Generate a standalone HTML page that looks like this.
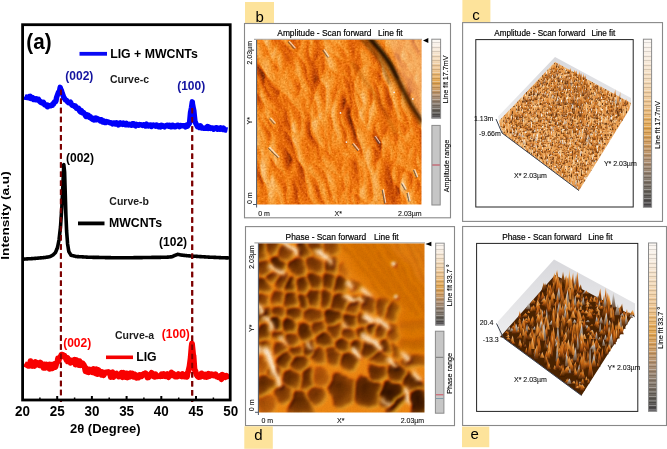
<!DOCTYPE html>
<html><head><meta charset="utf-8"><title>Figure</title>
<style>
html,body{margin:0;padding:0;background:#fff;}
svg{display:block;font-family:"Liberation Sans",sans-serif;will-change:transform;}
.tl{font-weight:bold;font-size:14.6px;}
.lg{font-weight:bold;font-size:12.3px;}
.cv{font-weight:bold;font-size:10.5px;fill:#1c1c1c;}
.pk{font-weight:bold;font-size:12px;}
.tt{font-size:8.4px;fill:#000;stroke:#000;stroke-width:0.18px;}
.rt{font-size:7.2px;fill:#000;stroke:#000;stroke-width:0.12px;}
.ax{font-size:7px;fill:#111;stroke:#111;stroke-width:0.1px;}
.ax3{font-size:7px;fill:#111;stroke:#111;stroke-width:0.1px;}
</style>
</head>
<body>
<svg width="667" height="449" viewBox="0 0 667 449">

<defs>
 <linearGradient id="cbar" x1="0" y1="0" x2="0" y2="1">
  <stop offset="0" stop-color="#fbf7f3"/>
  <stop offset="0.1" stop-color="#f7ece0"/>
  <stop offset="0.25" stop-color="#f2d8b6"/>
  <stop offset="0.4" stop-color="#ecc088"/>
  <stop offset="0.52" stop-color="#e2a44c"/>
  <stop offset="0.62" stop-color="#cf9a5c"/>
  <stop offset="0.72" stop-color="#ac8c6e"/>
  <stop offset="0.82" stop-color="#86786a"/>
  <stop offset="0.92" stop-color="#5e5a54"/>
  <stop offset="1" stop-color="#48464a"/>
 </linearGradient>
 <pattern id="stripes" width="4" height="9" patternUnits="userSpaceOnUse">
  <rect width="4" height="1" fill="#fff"/>
  <rect y="2" width="4" height="0.8" fill="#000" opacity="0.45"/>
  <rect y="4.2" width="4" height="1.3" fill="#fff" opacity="0.8"/>
  <rect y="6.3" width="4" height="0.7" fill="#000" opacity="0.5"/>
  <rect y="7.6" width="4" height="0.6" fill="#fff" opacity="0.6"/>
 </pattern>
 <clipPath id="clipb"><rect x="256.7" y="39.8" width="164.8" height="164.8"/></clipPath>
 <clipPath id="clipd"><rect x="258.5" y="243.4" width="166" height="169.2"/></clipPath>
 <filter id="fb" x="0" y="0" width="1" height="1">
  <feTurbulence type="fractalNoise" baseFrequency="0.9" numOctaves="2" seed="3" result="n"/>
  <feColorMatrix in="n" type="matrix" values="0 0 0 0 0  0 0 0 0 0  0 0 0 0 0  0.35 0.35 0.35 0 -0.35" result="g"/>
  <feComposite in="g" in2="SourceGraphic" operator="over"/>
 </filter>
 <filter id="fd" x="0" y="0" width="1" height="1">
  <feTurbulence type="fractalNoise" baseFrequency="0.6" numOctaves="2" seed="5" result="n"/>
  <feColorMatrix in="n" type="matrix" values="0 0 0 0 0  0 0 0 0 0  0 0 0 0 0  0.3 0.3 0.3 0 -0.3" result="g"/>
  <feComposite in="g" in2="SourceGraphic" operator="over"/>
 </filter>
 <filter id="fbRelief" x="0" y="0" width="1" height="1" color-interpolation-filters="sRGB">
  <feTurbulence type="turbulence" baseFrequency="0.024 0.013" numOctaves="3" seed="11" result="t"/>
  <feDiffuseLighting in="t" surfaceScale="5" diffuseConstant="1" lighting-color="#fff" result="l">
    <feDistantLight azimuth="200" elevation="38"/>
  </feDiffuseLighting>
  <feComponentTransfer in="l" result="c">
    <feFuncR type="table" tableValues="0.42 0.74 0.88 0.95 0.97 0.99"/>
    <feFuncG type="table" tableValues="0.14 0.27 0.39 0.5 0.62 0.8"/>
    <feFuncB type="table" tableValues="0 0.01 0.03 0.08 0.22 0.55"/>
  </feComponentTransfer>
  <feTurbulence type="fractalNoise" baseFrequency="0.62" numOctaves="2" seed="2" result="g"/>
  <feColorMatrix in="g" type="matrix" values="1 0 0 0 0  1 0 0 0 0  1 0 0 0 0  0 0 0 0 1" result="g2"/>
  <feComposite in="g2" in2="c" operator="arithmetic" k1="0" k2="0.36" k3="1" k4="-0.18"/>
 </filter>
 <filter id="fgrain" x="0" y="0" width="1" height="1">
  <feTurbulence type="fractalNoise" baseFrequency="0.7" numOctaves="2" seed="5" result="n"/>
  <feColorMatrix in="n" type="matrix" values="0 0 0 0 0  0 0 0 0 0  0 0 0 0 0  0.6 0 0 0 -0.22"/>
 </filter>
 <filter id="fdLit" x="-5%" y="-5%" width="110%" height="110%" color-interpolation-filters="sRGB">
  <feGaussianBlur stdDeviation="1.7" result="h"/>
  <feColorMatrix in="h" type="matrix" values="0 0 0 0 0  0 0 0 0 0  0 0 0 0 0  1 0 0 0 0" result="ha"/>
  <feDiffuseLighting in="ha" surfaceScale="5" diffuseConstant="1" lighting-color="#fff" result="lit">
   <feDistantLight azimuth="45" elevation="40"/>
  </feDiffuseLighting>
  <feComposite in="lit" in2="h" operator="arithmetic" k1="0" k2="0.35" k3="0.75" k4="-0.12" result="mix"/>
  <feComponentTransfer in="mix">
   <feFuncR type="table" tableValues="0.15 0.25 0.36 0.48 0.62 0.78 0.9 0.96 0.99 1 1"/>
   <feFuncG type="table" tableValues="0.05 0.09 0.14 0.2 0.27 0.36 0.46 0.55 0.7 0.88 0.98"/>
   <feFuncB type="table" tableValues="0 0 0 0 0.01 0.02 0.04 0.1 0.3 0.65 0.92"/>
  </feComponentTransfer>
 </filter>
 <radialGradient id="dc0" cx="0.5" cy="0.5" r="0.6" fx="0.4" fy="0.35"><stop offset="0" stop-color="#2e1000"/><stop offset="0.6" stop-color="#4e2000"/><stop offset="1" stop-color="#9a4a06"/></radialGradient>
 <radialGradient id="dc4" cx="0.5" cy="0.5" r="0.6" fx="0.4" fy="0.35"><stop offset="0" stop-color="#a04c06"/><stop offset="0.6" stop-color="#b85a0a"/><stop offset="1" stop-color="#d47012"/></radialGradient>
 <radialGradient id="dc1" cx="0.5" cy="0.5" r="0.6" fx="0.4" fy="0.35"><stop offset="0" stop-color="#4a1e00"/><stop offset="0.6" stop-color="#6a2e02"/><stop offset="1" stop-color="#a85208"/></radialGradient>
 <radialGradient id="dc2" cx="0.5" cy="0.5" r="0.6" fx="0.4" fy="0.35"><stop offset="0" stop-color="#5a2600"/><stop offset="0.6" stop-color="#7c3804"/><stop offset="1" stop-color="#b45c0a"/></radialGradient>
 <radialGradient id="dc3" cx="0.5" cy="0.5" r="0.6" fx="0.4" fy="0.35"><stop offset="0" stop-color="#6e3002"/><stop offset="0.6" stop-color="#8e4206"/><stop offset="1" stop-color="#c0640c"/></radialGradient>
 <linearGradient id="wallg" x1="0" y1="0" x2="0" y2="1"><stop offset="0" stop-color="#d8d8dc"/><stop offset="1" stop-color="#eeeeef"/></linearGradient>
 <filter id="texc" x="0" y="0" width="1" height="1" color-interpolation-filters="sRGB">
  <feTurbulence type="fractalNoise" baseFrequency="0.5 0.12" numOctaves="3" seed="21" result="t"/>
  <feColorMatrix in="t" type="matrix" values="1 0 0 0 0  1 0 0 0 0  1 0 0 0 0  0 0 0 0 1" result="t1"/>
  <feComponentTransfer in="t1">
   <feFuncR type="table" tableValues="0.45 0.62 0.8 0.88 0.92 0.95 0.97 0.98 0.99"/>
   <feFuncG type="table" tableValues="0.22 0.32 0.44 0.52 0.6 0.7 0.8 0.88 0.94"/>
   <feFuncB type="table" tableValues="0.06 0.09 0.13 0.18 0.26 0.4 0.58 0.76 0.9"/>
  </feComponentTransfer>
 </filter>
 <filter id="texe" x="0" y="0" width="1" height="1" color-interpolation-filters="sRGB">
  <feTurbulence type="fractalNoise" baseFrequency="0.28 0.05" numOctaves="3" seed="9" result="t"/>
  <feColorMatrix in="t" type="matrix" values="1 0 0 0 0  1 0 0 0 0  1 0 0 0 0  0 0 0 0 1" result="t1"/>
  <feComponentTransfer in="t1">
   <feFuncR type="table" tableValues="0.18 0.25 0.35 0.5 0.68 0.82 0.9 0.92 0.85"/>
   <feFuncG type="table" tableValues="0.07 0.1 0.14 0.22 0.33 0.43 0.52 0.62 0.8"/>
   <feFuncB type="table" tableValues="0.0 0.01 0.02 0.04 0.07 0.12 0.2 0.4 0.8"/>
  </feComponentTransfer>
 </filter>
 <linearGradient id="gc1" x1="0" y1="1" x2="0" y2="0"><stop offset="0" stop-color="#7a3a0c"/><stop offset="0.5" stop-color="#dc7a20"/><stop offset="1" stop-color="#f0a860"/></linearGradient>
 <linearGradient id="gc2" x1="0" y1="1" x2="0" y2="0"><stop offset="0" stop-color="#904c14"/><stop offset="0.6" stop-color="#e48a30"/><stop offset="1" stop-color="#f8d8b0"/></linearGradient>
 <linearGradient id="gc3" x1="0" y1="1" x2="0" y2="0"><stop offset="0" stop-color="#6a3a18"/><stop offset="0.6" stop-color="#c07030"/><stop offset="1" stop-color="#e8c8a0"/></linearGradient>
 <linearGradient id="gc4" x1="0" y1="1" x2="0" y2="0"><stop offset="0" stop-color="#b0a090"/><stop offset="0.6" stop-color="#e8e0d8"/><stop offset="1" stop-color="#ffffff"/></linearGradient>
 <linearGradient id="gc5" x1="0" y1="1" x2="0" y2="0"><stop offset="0" stop-color="#5a3010"/><stop offset="0.5" stop-color="#a86028"/><stop offset="1" stop-color="#d89050"/></linearGradient>
 <linearGradient id="ge1" x1="0" y1="1" x2="0" y2="0"><stop offset="0" stop-color="#4a1e02"/><stop offset="0.5" stop-color="#b85a10"/><stop offset="1" stop-color="#f09030"/></linearGradient>
 <linearGradient id="ge2" x1="0" y1="1" x2="0" y2="0"><stop offset="0" stop-color="#5a2804"/><stop offset="0.6" stop-color="#d07018"/><stop offset="1" stop-color="#f8c070"/></linearGradient>
 <linearGradient id="ge3" x1="0" y1="1" x2="0" y2="0"><stop offset="0" stop-color="#3a1800"/><stop offset="0.6" stop-color="#8a4a10"/><stop offset="1" stop-color="#c88040"/></linearGradient>
 <linearGradient id="ge4" x1="0" y1="1" x2="0" y2="0"><stop offset="0" stop-color="#6a4a30"/><stop offset="0.6" stop-color="#b0a8a0"/><stop offset="1" stop-color="#f0f0f0"/></linearGradient>
 <linearGradient id="ge5" x1="0" y1="1" x2="1" y2="0"><stop offset="0" stop-color="#7a3a08"/><stop offset="0.5" stop-color="#e08a30"/><stop offset="0.8" stop-color="#f4d0a0"/><stop offset="1" stop-color="#ffffff"/></linearGradient>
 <filter id="soft" x="-5%" y="-5%" width="110%" height="110%"><feGaussianBlur stdDeviation="0.45"/></filter>
 <filter id="speckc" x="0" y="0" width="1" height="1" color-interpolation-filters="sRGB">
  <feTurbulence type="fractalNoise" baseFrequency="0.8 0.35" numOctaves="1" seed="41" result="n"/>
  <feColorMatrix in="n" type="matrix" values="0 0 0 0 0.38  0 0 0 0 0.2  0 0 0 0 0.06  -6 0 0 0 2.45" result="dk"/>
  <feColorMatrix in="n" type="matrix" values="0 0 0 0 0.97  0 0 0 0 0.95  0 0 0 0 0.92  0 6 0 0 -3.7" result="wt"/>
  <feMerge><feMergeNode in="dk"/><feMergeNode in="wt"/></feMerge>
 </filter>
 <filter id="fbBig" x="-20%" y="-20%" width="140%" height="140%"><feGaussianBlur stdDeviation="1.6"/></filter>
 <filter id="fdBig" x="-5%" y="-5%" width="110%" height="110%" color-interpolation-filters="sRGB">
  <feTurbulence type="fractalNoise" baseFrequency="0.07" numOctaves="2" seed="3" result="tt"/>
  <feDisplacementMap in="SourceGraphic" in2="tt" scale="7" xChannelSelector="R" yChannelSelector="G" result="dd"/>
  <feGaussianBlur in="dd" stdDeviation="1.4" result="bl"/>
  <feColorMatrix in="bl" type="matrix" values="0 0 0 0 0  0 0 0 0 0  0 0 0 0 0  0.3 0.59 0.11 0 0" result="la"/>
  <feDiffuseLighting in="la" surfaceScale="3" diffuseConstant="1" lighting-color="#fff" result="lit">
   <feDistantLight azimuth="225" elevation="30"/>
  </feDiffuseLighting>
  <feBlend in="lit" in2="bl" mode="soft-light"/>
 </filter>
 <filter id="fdSm2" x="-50%" y="-50%" width="200%" height="200%"><feGaussianBlur stdDeviation="1.0"/></filter>
 <filter id="fdSm" x="-10%" y="-10%" width="120%" height="120%"><feGaussianBlur stdDeviation="4.5"/></filter>
</defs>

<rect width="667" height="449" fill="#fff"/>

<g id="chart">
 <text x="26.3" y="48.5" style="font-weight:bold;font-size:22px" textLength="25.2" lengthAdjust="spacingAndGlyphs">(a)</text>
 <!-- dashed lines -->
 <line x1="60.9" y1="89.5" x2="60.9" y2="402" stroke="#7d0000" stroke-width="2" stroke-dasharray="5.5 3.6"/>
 <line x1="192.2" y1="108" x2="192.2" y2="402" stroke="#7d0000" stroke-width="2" stroke-dasharray="5.5 3.6"/>
 <polyline points="24.5,96.5 25.5,97.3 26.5,97.0 27.5,97.6 28.5,97.7 29.5,96.4 30.0,96.3 30.5,98.4 31.5,97.3 32.5,97.4 33.5,99.5 34.5,98.5 35.5,99.6 36.5,98.9 37.5,99.9 38.5,99.4 39.5,101.2 40.5,102.3 41.4,102.1 41.5,102.6 42.5,103.2 43.5,102.4 44.5,104.8 45.5,105.0 46.5,105.0 47.2,104.9 47.5,106.8 48.5,105.5 49.5,105.7 50.5,105.8 51.5,105.0 52.5,105.2 53.0,103.7 53.5,104.1 54.5,101.9 55.5,101.7 56.0,100.9 56.5,97.6 57.5,94.9 58.5,92.3 59.5,90.9 60.2,87.3 60.5,88.6 61.5,90.7 61.8,92.0 62.5,93.8 63.5,96.6 63.7,97.7 64.5,98.4 65.5,100.0 66.5,100.3 67.5,101.8 67.8,101.9 68.5,102.7 69.5,102.6 70.5,102.1 71.5,104.5 72.0,105.1 72.5,105.4 73.5,105.4 74.5,106.5 75.5,106.1 76.5,108.3 77.5,108.5 77.7,108.0 78.5,108.1 79.5,110.8 80.5,112.0 81.5,110.6 82.0,112.7 82.5,112.2 83.5,112.5 84.5,113.7 85.5,115.7 86.0,116.4 86.5,114.6 87.5,116.4 88.5,115.4 89.5,117.4 90.5,116.9 91.5,118.6 92.5,119.3 93.5,118.5 94.0,119.9 94.5,118.4 95.5,118.1 96.5,119.7 97.5,118.6 98.5,119.3 99.5,120.1 100.0,120.8 100.5,119.8 101.5,119.7 102.5,121.9 103.5,120.8 104.5,122.5 105.5,122.6 106.5,121.5 107.5,121.9 108.5,122.2 109.5,122.7 110.0,122.7 110.5,122.7 111.5,123.0 112.5,123.9 113.5,123.0 114.5,123.0 115.5,123.9 116.5,122.8 117.5,123.1 118.5,124.9 119.5,124.0 120.0,124.1 120.5,122.9 121.5,123.9 122.5,124.4 123.5,123.1 124.5,124.6 125.5,124.7 126.5,123.4 127.0,124.8 127.5,124.4 128.5,125.0 129.5,124.2 130.5,125.1 131.5,125.2 132.5,123.6 133.5,123.7 134.5,125.2 135.5,125.9 136.5,124.3 137.5,124.8 138.5,125.2 139.5,124.5 140.0,124.7 140.5,124.6 141.5,124.8 142.5,125.4 143.5,124.7 144.5,125.0 145.5,126.0 146.5,124.2 147.5,125.6 148.5,126.0 149.5,125.1 150.5,124.9 151.5,126.4 152.5,125.1 153.5,125.0 154.5,125.7 155.5,126.3 156.5,125.0 157.5,125.5 158.0,125.6 158.5,126.8 159.5,125.9 160.5,126.9 161.5,125.2 162.5,125.6 163.5,126.4 164.5,126.9 165.5,125.9 166.5,125.3 167.5,125.1 168.5,126.1 169.5,125.3 170.5,126.7 171.5,126.8 172.5,125.2 173.5,125.5 174.5,126.7 175.0,126.3 175.5,126.7 176.5,125.6 177.5,125.1 178.5,125.5 179.5,126.7 180.5,125.5 181.5,125.6 182.5,125.8 183.5,125.8 184.5,125.8 185.5,127.0 186.5,125.2 187.0,124.8 187.5,126.3 188.5,124.5 189.5,123.2 190.5,112.6 190.8,111.1 191.5,107.5 192.3,101.8 192.5,104.1 193.5,109.3 193.8,110.4 194.5,117.0 195.0,121.5 195.5,122.7 196.5,124.7 197.0,125.5 197.5,126.8 198.5,126.2 199.5,127.5 200.5,125.8 201.5,128.0 202.5,127.6 203.5,128.3 204.5,128.3 205.5,128.4 206.5,127.8 207.5,126.5 208.5,128.4 209.5,127.2 210.0,127.5 210.5,128.4 211.5,128.1 212.5,127.9 213.5,129.2 214.5,128.5 215.5,127.9 216.5,127.7 217.5,129.2 218.5,128.4 219.5,129.2 220.0,128.1 220.5,127.8 221.5,128.7 222.5,129.5 223.5,128.1 224.5,129.7 225.5,130.1 226.5,129.9 227.5,130.1" fill="none" stroke="#0000fa" stroke-width="5.4" stroke-linejoin="round" stroke-linecap="butt"/>
 <polyline points="24.5,259.1 25.0,259.0 25.5,259.0 26.0,259.0 26.5,258.9 27.0,258.9 27.5,258.9 28.0,258.8 28.5,258.8 29.0,258.8 29.5,258.8 30.0,258.7 30.5,258.7 31.0,258.7 31.5,258.6 32.0,258.6 32.5,258.6 33.0,258.5 33.5,258.5 34.0,258.5 34.5,258.4 35.0,258.4 35.5,258.4 36.0,258.3 36.5,258.3 37.0,258.2 37.5,258.2 38.0,258.1 38.5,258.1 39.0,258.0 39.5,258.0 40.0,257.9 40.5,257.9 41.0,257.9 41.5,257.8 42.0,257.8 42.5,257.7 43.0,257.7 43.5,257.6 44.0,257.6 44.5,257.5 45.0,257.5 45.5,257.4 46.0,257.3 46.5,257.2 47.0,257.1 47.5,257.1 48.0,257.0 48.5,256.9 49.0,256.8 49.5,256.7 50.0,256.6 50.5,256.3 51.0,256.1 51.5,255.8 52.0,255.5 52.5,255.3 53.0,255.0 53.5,254.5 54.0,254.0 54.5,253.5 55.0,253.0 55.5,252.5 56.0,251.2 56.5,250.0 57.0,248.8 57.5,247.5 58.0,245.0 58.5,242.5 59.0,240.0 59.5,235.7 60.0,231.3 60.5,227.0 61.0,219.7 61.5,212.4 61.8,208.0 62.0,203.8 62.5,193.4 62.9,185.0 63.0,182.7 63.5,171.4 63.8,164.6 64.0,166.5 64.5,171.1 64.6,172.0 65.0,185.1 65.3,195.0 65.5,201.7 65.9,215.0 66.0,217.3 66.5,228.7 66.6,231.0 67.0,236.2 67.5,242.7 67.6,244.0 68.0,246.5 68.5,249.6 68.8,251.5 69.0,251.8 69.5,252.7 70.0,253.5 70.5,254.4 71.0,255.2 71.5,255.3 72.0,255.5 72.5,255.6 73.0,255.7 73.5,255.8 74.0,256.0 74.5,256.1 75.0,256.2 75.5,256.4 76.0,256.5 76.5,256.5 77.0,256.6 77.5,256.6 78.0,256.6 78.5,256.6 79.0,256.7 79.5,256.7 80.0,256.7 80.5,256.8 81.0,256.8 81.5,256.8 82.0,256.8 82.5,256.9 83.0,256.9 83.5,256.9 84.0,257.0 84.5,257.0 85.0,257.0 85.5,257.0 86.0,257.1 86.5,257.1 87.0,257.1 87.5,257.2 88.0,257.2 88.5,257.2 89.0,257.2 89.5,257.3 90.0,257.3 90.5,257.3 91.0,257.3 91.5,257.3 92.0,257.3 92.5,257.3 93.0,257.4 93.5,257.4 94.0,257.4 94.5,257.4 95.0,257.4 95.5,257.4 96.0,257.4 96.5,257.4 97.0,257.4 97.5,257.4 98.0,257.4 98.5,257.4 99.0,257.4 99.5,257.5 100.0,257.5 100.5,257.5 101.0,257.5 101.5,257.5 102.0,257.5 102.5,257.5 103.0,257.5 103.5,257.5 104.0,257.5 104.5,257.5 105.0,257.6 105.5,257.6 106.0,257.6 106.5,257.6 107.0,257.6 107.5,257.6 108.0,257.6 108.5,257.6 109.0,257.6 109.5,257.6 110.0,257.6 110.5,257.6 111.0,257.7 111.5,257.7 112.0,257.7 112.5,257.7 113.0,257.7 113.5,257.7 114.0,257.7 114.5,257.7 115.0,257.7 115.5,257.7 116.0,257.7 116.5,257.7 117.0,257.8 117.5,257.8 118.0,257.8 118.5,257.8 119.0,257.8 119.5,257.8 120.0,257.8 120.5,257.8 121.0,257.8 121.5,257.8 122.0,257.8 122.5,257.8 123.0,257.8 123.5,257.8 124.0,257.8 124.5,257.8 125.0,257.7 125.5,257.7 126.0,257.7 126.5,257.7 127.0,257.7 127.5,257.7 128.0,257.7 128.5,257.7 129.0,257.7 129.5,257.7 130.0,257.7 130.5,257.7 131.0,257.7 131.5,257.7 132.0,257.7 132.5,257.7 133.0,257.7 133.5,257.7 134.0,257.6 134.5,257.6 135.0,257.6 135.5,257.6 136.0,257.6 136.5,257.6 137.0,257.6 137.5,257.6 138.0,257.6 138.5,257.6 139.0,257.6 139.5,257.6 140.0,257.6 140.5,257.6 141.0,257.6 141.5,257.6 142.0,257.6 142.5,257.6 143.0,257.5 143.5,257.5 144.0,257.5 144.5,257.5 145.0,257.5 145.5,257.5 146.0,257.5 146.5,257.5 147.0,257.5 147.5,257.5 148.0,257.5 148.5,257.5 149.0,257.5 149.5,257.5 150.0,257.5 150.5,257.5 151.0,257.5 151.5,257.4 152.0,257.4 152.5,257.4 153.0,257.4 153.5,257.4 154.0,257.4 154.5,257.4 155.0,257.4 155.5,257.4 156.0,257.4 156.5,257.4 157.0,257.4 157.5,257.4 158.0,257.4 158.5,257.4 159.0,257.4 159.5,257.4 160.0,257.4 160.5,257.4 161.0,257.3 161.5,257.3 162.0,257.3 162.5,257.3 163.0,257.3 163.5,257.3 164.0,257.3 164.5,257.3 165.0,257.3 165.5,257.3 166.0,257.2 166.5,257.2 167.0,257.2 167.5,257.1 168.0,257.1 168.5,257.1 169.0,257.0 169.5,257.0 170.0,256.9 170.5,256.9 171.0,256.9 171.5,256.8 172.0,256.8 172.5,256.5 173.0,256.3 173.5,256.0 174.0,255.8 174.5,255.5 175.0,255.3 175.5,255.1 176.0,255.0 176.5,254.8 177.0,254.6 177.5,254.4 177.8,254.3 178.0,254.3 178.5,254.5 179.0,254.6 179.5,254.7 180.0,254.8 180.5,254.9 181.0,255.0 181.5,255.1 182.0,255.1 182.5,255.2 183.0,255.2 183.5,255.3 184.0,255.4 184.5,255.4 185.0,255.5 185.5,255.5 186.0,255.6 186.5,255.6 187.0,255.7 187.5,255.7 188.0,255.8 188.5,255.8 189.0,255.9 189.5,255.9 190.0,255.9 190.5,256.0 191.0,256.0 191.5,256.1 192.0,256.1 192.5,256.1 193.0,256.2 193.5,256.2 194.0,256.2 194.5,256.3 195.0,256.3 195.5,256.3 196.0,256.3 196.5,256.4 197.0,256.4 197.5,256.4 198.0,256.5 198.5,256.5 199.0,256.5 199.5,256.6 200.0,256.6 200.5,256.6 201.0,256.6 201.5,256.7 202.0,256.7 202.5,256.7 203.0,256.8 203.5,256.8 204.0,256.8 204.5,256.9 205.0,256.9 205.5,256.9 206.0,257.0 206.5,257.0 207.0,257.0 207.5,257.0 208.0,257.1 208.5,257.1 209.0,257.1 209.5,257.2 210.0,257.2 210.5,257.2 211.0,257.2 211.5,257.3 212.0,257.3 212.5,257.3 213.0,257.3 213.5,257.3 214.0,257.4 214.5,257.4 215.0,257.4 215.5,257.4 216.0,257.4 216.5,257.5 217.0,257.5 217.5,257.5 218.0,257.5 218.5,257.5 219.0,257.6 219.5,257.6 220.0,257.6 220.5,257.6 221.0,257.7 221.5,257.7 222.0,257.7 222.5,257.7 223.0,257.7 223.5,257.8 224.0,257.8 224.5,257.8 225.0,257.8 225.5,257.8 226.0,257.9 226.5,257.9 227.0,257.9 227.5,257.9 228.0,257.9" fill="none" stroke="#000" stroke-width="3.6" stroke-linejoin="round" stroke-linecap="round"/>
 <polyline points="24.5,363.8 25.5,364.4 26.5,364.8 27.5,365.6 28.5,364.6 29.5,365.6 30.5,361.2 31.5,363.5 32.5,365.9 33.5,364.5 34.5,365.9 35.5,362.0 36.5,363.8 37.5,363.0 38.5,364.8 39.5,365.2 40.5,362.6 41.5,363.9 42.5,364.5 43.5,367.9 44.0,367.3 44.5,364.4 45.5,367.7 46.5,364.6 47.5,367.2 48.5,364.9 49.5,364.5 49.7,368.9 50.5,365.2 51.5,364.8 52.5,368.3 53.5,367.3 54.5,364.0 55.5,366.9 56.5,363.0 57.5,361.8 58.0,358.5 58.5,361.2 59.5,357.8 60.4,357.3 60.5,357.0 61.5,354.7 62.0,355.3 62.5,354.7 63.5,355.4 64.5,355.8 65.5,357.7 66.5,360.0 67.5,357.8 67.8,361.4 68.5,359.8 69.5,359.9 70.5,362.7 71.5,361.2 72.5,360.6 73.5,361.6 74.5,362.9 75.0,359.8 75.5,364.5 76.5,360.1 77.5,364.1 78.5,364.9 79.5,361.1 80.5,365.3 81.0,363.3 81.5,365.0 82.5,363.2 83.5,364.5 84.5,366.3 85.5,371.3 86.0,368.1 86.5,371.0 87.5,372.0 88.5,372.3 89.5,369.5 90.5,369.8 91.5,370.8 92.5,372.2 93.5,369.1 94.2,372.4 94.5,372.7 95.5,373.3 96.5,369.3 97.5,374.1 98.5,370.0 99.5,371.5 100.5,373.0 101.5,374.8 102.5,372.1 103.5,375.2 104.5,373.5 105.5,372.5 106.5,372.7 107.5,372.2 108.5,372.0 109.5,372.5 110.5,375.4 110.7,377.0 111.5,372.8 112.5,372.3 113.5,377.1 114.5,374.9 115.5,374.3 116.5,373.5 117.5,375.3 118.5,376.5 119.5,374.7 120.5,374.6 121.5,372.8 122.5,377.2 123.5,372.8 124.5,375.1 125.5,376.9 126.5,373.4 127.0,376.5 127.5,377.5 128.5,375.9 129.5,376.7 130.5,373.3 131.5,374.9 132.5,373.5 133.5,376.9 134.5,374.2 135.5,375.0 136.5,377.7 137.5,376.9 138.5,377.5 139.5,374.9 140.5,375.1 141.5,376.3 142.5,375.0 143.5,374.0 144.5,374.6 145.5,373.3 146.5,374.4 147.5,377.5 148.5,377.3 149.5,375.6 150.0,375.0 150.5,374.2 151.5,372.9 152.5,373.9 153.5,376.4 154.5,376.8 155.5,374.3 156.5,376.4 157.5,376.4 158.5,376.0 159.5,375.8 160.5,376.3 161.5,374.3 162.5,376.0 163.5,373.9 164.5,374.9 165.5,376.3 166.5,376.0 167.5,374.0 168.5,377.2 169.5,375.7 170.5,375.4 171.5,372.6 172.5,375.2 173.5,373.8 174.5,375.9 175.0,374.8 175.5,376.6 176.5,375.7 177.5,376.4 178.5,374.1 179.5,375.5 180.5,376.0 181.5,376.4 182.5,373.9 183.5,376.4 184.5,376.5 185.5,375.5 186.5,376.9 187.0,376.8 187.5,373.3 188.5,370.7 189.5,366.3 190.5,358.8 190.7,357.2 191.5,347.2 192.0,343.5 192.5,348.4 193.3,356.2 193.5,355.5 194.5,369.4 195.5,371.4 196.5,374.8 197.0,375.1 197.5,376.1 198.5,377.0 199.5,376.3 200.5,376.8 201.5,373.4 202.5,374.1 203.5,375.6 204.5,376.7 205.5,374.6 206.5,377.0 207.5,376.7 208.5,373.8 209.5,376.1 210.5,374.9 211.5,374.1 212.5,374.5 213.5,375.5 214.5,374.9 215.0,375.0 215.5,374.2 216.5,376.5 217.5,376.2 218.5,377.4 219.5,377.4 220.5,375.8 221.5,379.2 222.5,374.8 223.5,376.9 224.5,376.4 225.5,377.1 226.5,375.8 227.5,379.4" fill="none" stroke="#f80000" stroke-width="5.8" stroke-linejoin="round" stroke-linecap="butt"/>
 <!-- redraw dashed segments over peaks -->
 <line x1="60.9" y1="89.5" x2="60.9" y2="402" stroke="#7d0000" stroke-width="2" stroke-dasharray="5.5 3.6" opacity="0.9"/>
 <line x1="192.2" y1="108" x2="192.2" y2="402" stroke="#7d0000" stroke-width="2" stroke-dasharray="5.5 3.6" opacity="0.9"/>
 <rect x="22.6" y="24.7" width="207.6" height="375.3" fill="none" stroke="#000" stroke-width="2.8"/>
 <text transform="translate(22.5,415.6) scale(0.92,1)" text-anchor="middle" class="tl">20</text>
<line x1="57.2" y1="396" x2="57.2" y2="400" stroke="#000" stroke-width="2"/>
<text transform="translate(57.2,415.6) scale(0.92,1)" text-anchor="middle" class="tl">25</text>
<line x1="91.9" y1="396" x2="91.9" y2="400" stroke="#000" stroke-width="2"/>
<text transform="translate(91.9,415.6) scale(0.92,1)" text-anchor="middle" class="tl">30</text>
<line x1="126.6" y1="396" x2="126.6" y2="400" stroke="#000" stroke-width="2"/>
<text transform="translate(126.6,415.6) scale(0.92,1)" text-anchor="middle" class="tl">35</text>
<line x1="161.3" y1="396" x2="161.3" y2="400" stroke="#000" stroke-width="2"/>
<text transform="translate(161.3,415.6) scale(0.92,1)" text-anchor="middle" class="tl">40</text>
<line x1="196.0" y1="396" x2="196.0" y2="400" stroke="#000" stroke-width="2"/>
<text transform="translate(196.0,415.6) scale(0.92,1)" text-anchor="middle" class="tl">45</text>
<text transform="translate(230.7,415.6) scale(0.92,1)" text-anchor="middle" class="tl">50</text>
<line x1="39.9" y1="397.5" x2="39.9" y2="400" stroke="#000" stroke-width="1.5"/>
<line x1="74.6" y1="397.5" x2="74.6" y2="400" stroke="#000" stroke-width="1.5"/>
<line x1="109.2" y1="397.5" x2="109.2" y2="400" stroke="#000" stroke-width="1.5"/>
<line x1="143.9" y1="397.5" x2="143.9" y2="400" stroke="#000" stroke-width="1.5"/>
<line x1="178.7" y1="397.5" x2="178.7" y2="400" stroke="#000" stroke-width="1.5"/>
<line x1="213.4" y1="397.5" x2="213.4" y2="400" stroke="#000" stroke-width="1.5"/>
 <!-- legends -->
 <line x1="79.5" y1="53.8" x2="107" y2="53.8" stroke="#0a0af5" stroke-width="3.8"/>
 <text x="110.2" y="58" class="lg">LIG + MWCNTs</text>
 <line x1="78" y1="223.4" x2="104.5" y2="223.4" stroke="#000" stroke-width="3.8"/>
 <text x="109" y="227.4" class="lg">MWCNTs</text>
 <line x1="106" y1="357.3" x2="133" y2="357.3" stroke="#f50000" stroke-width="3.6"/>
 <text x="136.2" y="361.3" class="lg">LIG</text>
 <text x="110" y="83.4" class="cv">Curve-c</text>
 <text x="109.3" y="205.2" class="cv">Curve-b</text>
 <text x="115" y="339.3" class="cv">Curve-a</text>
 <text x="65.3" y="79.7" class="pk" fill="#1414a0">(002)</text>
 <text x="177.2" y="89.5" class="pk" fill="#1414a0">(100)</text>
 <text x="66" y="161.7" class="pk" fill="#000">(002)</text>
 <text x="159.1" y="245.5" class="pk" fill="#000">(102)</text>
 <text x="63.2" y="346.8" class="pk" fill="#f00">(002)</text>
 <text x="161.8" y="337.9" class="pk" fill="#f00">(100)</text>
 <text x="70" y="432.8" style="font-weight:bold;font-size:13px">2θ (Degree)</text>
 <text transform="translate(9.4,259.7) rotate(-90)" style="font-weight:bold;font-size:11.8px" textLength="88.4" lengthAdjust="spacingAndGlyphs">Intensity (a.u)</text>
</g>


<g id="panels" style="font-family:'Liberation Sans',sans-serif">
 <!-- panel b -->
 <rect x="245" y="2" width="29" height="21.5" fill="#fde39b"/>
 <text x="255.6" y="21.6" style="font-size:15px">b</text>
 <rect x="244.5" y="23.5" width="206" height="194.3" fill="#fff" stroke="#888" stroke-width="1.1"/>
 <text x="277.3" y="36.4" class="tt">Amplitude - Scan forward</text>
 <text x="378" y="36.4" class="tt">Line fit</text>
 <line x1="254" y1="39.3" x2="422" y2="39.3" stroke="#9a9a9a" stroke-width="1"/>
 <g clip-path="url(#clipb)"><g transform="rotate(-16 339 122)"><rect x="219" y="2" width="240" height="240" fill="#fff" filter="url(#fbRelief)"/></g></g>
 <g clip-path="url(#clipb)"><g filter="url(#fbBig)"><path d="M388,39 L425,39 L425,122 Q412,96 400,74 Q393,56 388,39 Z" fill="#f8d8b0" opacity="0.4"/>
<path d="M364,38 C372,46 383,56 390,67 C397,79 404,92 410,104 C414,111 418,117 423,124" fill="none" stroke="#6a3208" stroke-width="8" opacity="0.45"/>
<path d="M368,38 C375,45 384,55 391,67 C397,78 403,90 410,103 C414,110 418,116 423,122" fill="none" stroke="#1e0c02" stroke-width="3.2" opacity="0.9"/>
<path d="M360,38 C367,46 374,53 380,62 C384,69 387,76 390,84" fill="none" stroke="#3a1804" stroke-width="1.8" opacity="0.6"/>
<path d="M352,62 C360,74 370,88 378,100 C384,110 390,122 396,134" fill="none" stroke="#8a4008" stroke-width="3" opacity="0.3"/>
<path d="M371,39 C378,47 386,56 391,65 C394,71 396,75 398,79" fill="none" stroke="#140800" stroke-width="4.5" opacity="0.85"/></g><line x1="289.5" y1="41.3" x2="295.2" y2="47.9" stroke="#f4f4f4" stroke-width="1.1" opacity="0.75" stroke-linecap="round"/>
<line x1="288.3" y1="42.199999999999996" x2="294.0" y2="48.8" stroke="#3c4656" stroke-width="1.0" opacity="0.7" stroke-linecap="round"/>
<line x1="324.2" y1="49.7" x2="328.8" y2="56.3" stroke="#f4f4f4" stroke-width="1.1" opacity="0.75" stroke-linecap="round"/>
<line x1="323.0" y1="50.6" x2="327.6" y2="57.199999999999996" stroke="#3c4656" stroke-width="1.0" opacity="0.7" stroke-linecap="round"/>
<line x1="270.8" y1="118.0" x2="275.3" y2="123.0" stroke="#f4f4f4" stroke-width="1.1" opacity="0.75" stroke-linecap="round"/>
<line x1="269.6" y1="118.9" x2="274.1" y2="123.9" stroke="#3c4656" stroke-width="1.0" opacity="0.7" stroke-linecap="round"/>
<line x1="269.7" y1="147.5" x2="279.0" y2="156.8" stroke="#f4f4f4" stroke-width="1.1" opacity="0.75" stroke-linecap="round"/>
<line x1="268.5" y1="148.4" x2="277.8" y2="157.70000000000002" stroke="#3c4656" stroke-width="1.0" opacity="0.7" stroke-linecap="round"/>
<line x1="353.7" y1="143.5" x2="358.8" y2="149.8" stroke="#f4f4f4" stroke-width="1.1" opacity="0.75" stroke-linecap="round"/>
<line x1="352.5" y1="144.4" x2="357.6" y2="150.70000000000002" stroke="#3c4656" stroke-width="1.0" opacity="0.7" stroke-linecap="round"/>
<line x1="375.7" y1="136.5" x2="379.90000000000003" y2="142.8" stroke="#f4f4f4" stroke-width="1.1" opacity="0.75" stroke-linecap="round"/>
<line x1="374.5" y1="137.4" x2="378.70000000000005" y2="143.70000000000002" stroke="#3c4656" stroke-width="1.0" opacity="0.7" stroke-linecap="round"/>
<line x1="414.8" y1="169.5" x2="417.6" y2="176.5" stroke="#f4f4f4" stroke-width="1.1" opacity="0.75" stroke-linecap="round"/>
<line x1="413.6" y1="170.4" x2="416.40000000000003" y2="177.4" stroke="#3c4656" stroke-width="1.0" opacity="0.7" stroke-linecap="round"/>
<line x1="402.8" y1="183.0" x2="406.2" y2="189.0" stroke="#f4f4f4" stroke-width="1.1" opacity="0.75" stroke-linecap="round"/>
<line x1="401.6" y1="183.9" x2="405.0" y2="189.9" stroke="#3c4656" stroke-width="1.0" opacity="0.7" stroke-linecap="round"/>
<line x1="383.40000000000003" y1="189.5" x2="385.8" y2="202.5" stroke="#f4f4f4" stroke-width="1.1" opacity="0.75" stroke-linecap="round"/>
<line x1="382.20000000000005" y1="190.4" x2="384.6" y2="203.4" stroke="#3c4656" stroke-width="1.0" opacity="0.7" stroke-linecap="round"/>
<line x1="408.3" y1="192.5" x2="410.1" y2="200.5" stroke="#f4f4f4" stroke-width="1.1" opacity="0.75" stroke-linecap="round"/>
<line x1="407.1" y1="193.4" x2="408.90000000000003" y2="201.4" stroke="#3c4656" stroke-width="1.0" opacity="0.7" stroke-linecap="round"/>
<circle cx="394.1" cy="92.3" r="0.9" fill="#f0f0f0"/>
<circle cx="412.8" cy="98.9" r="0.9" fill="#f0f0f0"/>
<circle cx="346.4" cy="142.1" r="0.9" fill="#f0f0f0"/>
<circle cx="340.5" cy="112.9" r="0.9" fill="#f0f0f0"/></g>
 <line x1="256.6" y1="40" x2="256.6" y2="207.5" stroke="#4d5868" stroke-width="1"/>
 <line x1="253" y1="204.5" x2="256.6" y2="204.5" stroke="#4d5868" stroke-width="1"/>
 <polygon points="423,40.5 428.3,38 428.3,43" fill="#000"/>
 <rect x="431.8" y="39.2" width="8.8" height="79" fill="url(#cbar)" stroke="#8a8a8a" stroke-width="1"/><rect x="432.3" y="39.7" width="7.800000000000001" height="78" fill="url(#stripes)" opacity="0.35"/>
 <rect x="431.9" y="125.4" width="8.3" height="79.6" fill="#c6c6c6" stroke="#8a8a8a" stroke-width="1"/>
 <line x1="432.3" y1="165" x2="439.8" y2="165" stroke="#c04050" stroke-width="1"/>
 <text transform="translate(448.2,103.3) rotate(-90)" class="rt">Line fit 17.7mV</text>
 <text transform="translate(448.8,192.2) rotate(-90)" class="rt">Amplitude range</text>
 <text transform="translate(252.2,64.5) rotate(-90)" class="ax">2.03µm</text>
 <text transform="translate(252.2,124.5) rotate(-90)" class="ax">Y*</text>
 <text transform="translate(252.2,204) rotate(-90)" class="ax">0 m</text>
 <text x="258.2" y="215.8" class="ax">0 m</text>
 <text x="334.5" y="215.8" class="ax">X*</text>
 <text x="421.6" y="215.8" class="ax" text-anchor="end">2.03µm</text>

 <!-- panel d -->
 <rect x="245.5" y="226.6" width="209" height="199" fill="#fff" stroke="#888" stroke-width="1.1"/>
 <rect x="244.3" y="426.3" width="28.5" height="22.5" fill="#fde39b"/>
 <text x="254.2" y="440.2" style="font-size:15px">d</text>
 <text x="285.6" y="239.9" class="tt">Phase - Scan forward</text>
 <text x="374" y="239.9" class="tt">Line fit</text>
 <line x1="254.4" y1="242.9" x2="425" y2="242.9" stroke="#9a9a9a" stroke-width="1"/>
 <g clip-path="url(#clipd)"><g filter="url(#fdBig)"><rect x="248.5" y="233.4" width="186" height="189.2" fill="#ec8612"/>
<path d="M256.1 259.1L256.7 259.3L257.3 259.5L257.9 259.6L258.5 259.5L264.7 258.0L265.3 257.8L265.7 257.4L266.1 257.0L266.4 256.5L266.6 256.0L266.7 255.4L266.7 254.8L265.2 243.1L265.1 242.6L264.8 242.0L264.4 241.6L264.0 241.2L263.4 241.0L262.9 240.8L262.2 240.7L261.6 240.7L259.9 240.9L258.3 241.4L257.8 241.6L256.3 242.4L255.5 243.1L255.9 258.9Z" fill="url(#dc2)" opacity="1.00"/>
<path d="M268.1 240.5L267.7 240.9L267.4 241.4L267.2 242.0L267.1 242.6L267.1 243.2L268.4 253.8L268.6 254.3L268.9 254.8L269.3 255.3L270.0 255.8L270.5 256.0L271.1 256.1L271.6 256.1L272.2 256.0L273.9 255.3L274.4 255.1L274.9 254.7L275.3 254.2L278.9 244.6L279.0 244.1L279.1 243.5L279.0 242.9L278.8 242.4L278.5 241.9L278.2 241.4L277.7 241.1L276.5 240.4Z" fill="url(#dc3)" opacity="1.00"/>
<path d="M283.4 243.3L282.8 243.4L281.9 243.7L281.2 244.2L280.7 245.0L277.8 252.7L277.6 253.6L277.7 254.5L278.1 255.3L278.7 256.0L279.2 256.4L287.0 260.7L287.9 260.8L288.7 260.7L289.6 260.3L290.0 260.0L290.9 258.9L291.8 257.2L292.4 255.3L292.6 253.6L292.4 251.6L291.9 249.7L291.0 248.0L289.8 246.4L289.4 246.0L287.8 244.8L286.1 243.9L284.2 243.4Z" fill="url(#dc3)" opacity="1.00"/>
<path d="M272.5 257.9L272.0 258.2L271.4 258.9L271.1 259.4L270.9 260.3L271.0 261.2L271.2 261.7L274.3 268.7L274.9 269.3L275.4 269.7L278.5 271.0L279.4 271.1L280.0 271.1L283.4 270.3L284.1 269.9L284.5 269.5L285.8 268.0L286.6 266.5L287.0 265.5L287.1 264.7L287.0 264.1L286.7 263.3L286.2 262.6L285.8 262.2L276.7 257.1L275.9 256.9L275.3 256.9L274.4 257.1Z" fill="url(#dc1)" opacity="1.00"/>
<path d="M258.6 261.3L258.1 261.5L257.5 262.0L257.0 262.7L256.4 263.9L255.9 265.5L255.7 267.5L255.9 269.5L256.5 271.4L257.3 272.8L258.1 273.9L258.7 274.5L259.4 274.9L260.0 275.0L260.9 275.1L261.8 274.9L270.3 270.7L270.8 270.4L271.3 269.7L271.7 268.9L271.7 268.1L271.7 267.5L269.0 261.4L268.6 260.6L267.9 260.0L267.4 259.8L266.5 259.6L265.6 259.7Z" fill="url(#dc3)" opacity="1.00"/>
<path d="M296.3 255.4L296.6 255.9L297.3 256.4L304.8 259.1L305.6 259.2L306.5 259.2L307.3 258.8L310.4 257.0L310.8 256.5L311.3 255.7L311.5 254.9L311.4 254.0L307.4 242.5L306.9 241.8L306.3 241.2L305.8 240.9L304.9 240.7L303.5 240.8L301.6 241.3L299.8 242.2L298.2 243.4L296.9 244.9L296.6 245.4L295.7 247.2L295.2 249.1L295.1 251.0L295.3 253.0L296.0 254.9Z" fill="url(#dc2)" opacity="1.00"/>
<path d="M296.9 258.2L296.3 258.2L295.4 258.3L294.0 259.0L292.4 260.2L291.1 261.7L290.1 263.4L289.5 265.2L289.2 267.2L289.4 269.2L289.5 269.8L290.1 271.6L291.1 273.3L292.4 274.8L293.2 275.5L295.3 276.4L296.2 276.6L297.0 276.6L304.4 274.9L304.9 274.6L305.5 274.0L306.0 273.3L306.2 272.5L305.5 263.1L305.3 262.3L304.9 261.5L304.3 260.9L303.5 260.5Z" fill="url(#dc2)" opacity="1.00"/>
<path d="M319.6 272.8L320.2 272.7L321.0 272.3L321.5 271.9L322.0 271.1L322.2 270.6L322.8 262.3L322.7 261.5L322.6 261.0L322.1 260.2L321.2 259.2L320.3 258.4L319.8 258.2L319.0 257.9L313.7 257.5L313.1 257.6L308.8 260.1L308.3 260.4L307.8 261.0L307.5 261.5L307.3 262.3L307.9 270.0L308.0 270.6L308.3 271.4L308.7 271.8L309.4 272.4L309.9 272.6L310.8 272.7Z" fill="url(#dc3)" opacity="1.00"/>
<path d="M274.8 271.4L274.3 271.3L273.7 271.3L272.9 271.5L266.7 274.5L266.0 275.0L265.6 275.5L265.2 276.3L265.0 276.9L265.1 277.8L265.2 278.3L265.7 279.1L269.5 282.9L270.2 283.4L270.7 283.7L271.3 283.8L272.2 283.7L272.8 283.5L273.6 283.0L274.0 282.6L274.4 281.8L276.9 275.1L277.0 274.2L276.9 273.7L276.6 272.9L276.3 272.4L275.7 271.8L275.2 271.6Z" fill="url(#dc3)" opacity="1.00"/>
<path d="M275.1 285.1L275.0 285.6L275.1 286.5L275.3 287.0L275.7 287.8L276.1 288.2L276.8 288.6L279.5 289.4L280.0 289.5L280.9 289.4L281.5 289.2L282.2 288.7L282.5 288.2L288.6 277.6L288.8 276.7L288.8 276.1L288.6 275.3L288.3 274.7L287.7 274.1L286.9 273.4L285.2 272.5L284.4 272.2L283.8 272.2L281.3 272.6L280.7 272.8L279.9 273.3L279.5 273.7L279.1 274.5Z" fill="url(#dc3)" opacity="1.00"/>
<path d="M255.7 291.5L256.0 291.6L256.5 291.8L257.1 291.8L268.4 291.1L269.0 290.9L269.5 290.7L270.0 290.3L270.4 289.9L270.7 289.3L270.8 289.1L270.9 288.5L270.9 287.9L270.8 287.3L270.6 286.7L270.2 286.2L261.7 277.7L261.3 277.3L260.8 277.0L260.5 276.9L260.0 276.8L259.4 276.7L258.7 276.8L258.1 276.9L257.6 277.2L256.3 278.3L255.9 278.7L255.5 291.4Z" fill="url(#dc2)" opacity="1.00"/>
<path d="M284.6 288.3L284.4 288.9L284.3 289.5L284.4 290.3L284.6 290.9L285.1 291.6L285.6 292.0L286.3 292.4L286.9 292.5L287.8 292.5L293.8 291.7L294.6 291.3L295.0 291.0L295.6 290.4L295.9 289.8L296.0 289.3L296.1 288.4L295.2 280.2L294.9 279.4L294.6 278.9L294.0 278.3L293.5 278.1L292.6 277.8L292.0 277.8L291.2 278.0L290.7 278.3L290.0 278.9L289.7 279.3Z" fill="url(#dc1)" opacity="1.00"/>
<path d="M298.1 290.1L298.2 290.7L298.7 291.4L299.0 291.8L299.8 292.3L300.3 292.4L301.2 292.5L306.6 292.2L307.5 291.9L308.0 291.6L309.0 290.7L309.4 290.2L309.7 289.4L309.7 288.8L309.6 287.9L305.8 279.0L305.3 278.2L304.9 277.8L304.1 277.4L303.6 277.2L302.7 277.2L299.5 277.9L298.7 278.2L298.2 278.5L297.6 279.1L297.3 279.7L297.1 280.5L297.1 281.1Z" fill="url(#dc2)" opacity="1.00"/>
<path d="M309.1 240.6L309.0 240.9L309.1 241.5L309.1 241.8L313.2 253.8L313.3 254.1L313.6 254.6L314.0 255.0L314.2 255.2L314.7 255.5L314.9 255.6L315.5 255.8L315.8 255.8L319.4 256.2L320.0 256.1L320.2 256.0L320.8 255.8L321.0 255.6L321.5 255.3L321.7 255.0L322.0 254.5L322.2 254.0L322.3 253.7L323.3 241.6L323.3 241.3L323.2 240.8L323.1 240.5L309.1 240.4Z" fill="url(#dc3)" opacity="1.00"/>
<path d="M324.1 253.9L324.1 254.2L324.3 254.7L324.4 255.0L324.6 255.5L325.0 255.9L325.2 256.1L325.8 256.6L326.3 256.9L326.6 257.0L327.1 257.2L327.7 257.2L327.9 257.2L336.3 256.6L336.9 256.5L337.2 256.3L337.7 256.0L338.3 255.5L338.7 255.1L339.8 253.8L339.9 253.5L340.7 252.1L340.9 251.7L335.9 240.4L325.4 240.6L325.2 241.2L325.1 241.5L324.1 253.6Z" fill="url(#dc3)" opacity="0.82"/>
<path d="M327.8 259.1L327.2 259.2L326.4 259.7L325.6 260.4L325.1 261.0L324.8 261.5L324.6 262.4L324.2 270.0L324.3 270.6L324.7 271.4L325.1 271.8L325.8 272.3L326.3 272.5L333.5 274.4L334.4 274.3L335.0 274.1L335.8 273.6L336.2 273.2L336.6 272.4L339.9 262.5L339.9 261.6L339.7 260.7L339.4 260.2L338.8 259.5L338.3 259.1L337.5 258.7L337.0 258.5L336.2 258.5Z" fill="url(#dc2)" opacity="1.00"/>
<path d="M338.3 272.8L338.3 273.1L338.3 273.7L338.4 274.3L338.5 274.6L338.8 275.1L339.1 275.6L339.6 275.9L339.8 276.1L340.4 276.3L345.1 277.7L345.4 277.8L346.0 277.8L346.6 277.7L347.1 277.4L347.4 277.3L347.8 276.9L348.0 268.0L345.1 261.4L344.3 261.3L343.8 261.4L343.2 261.5L343.0 261.7L342.5 262.0L342.1 262.4L341.9 262.6L341.6 263.1L338.4 272.5Z" fill="url(#dc4)" opacity="0.74"/>
<path d="M310.1 274.5L309.5 274.7L309.0 274.9L308.3 275.4L307.9 275.9L307.5 276.7L307.4 277.2L307.4 278.1L307.6 278.7L311.4 287.5L311.9 288.2L312.4 288.6L313.2 289.0L313.7 289.1L317.5 289.1L318.1 289.0L318.7 288.7L319.4 288.2L319.8 287.7L320.1 286.9L320.2 286.3L320.7 277.4L320.5 276.5L320.3 276.0L319.7 275.3L319.2 275.0L318.3 274.6L317.7 274.6Z" fill="url(#dc2)" opacity="1.00"/>
<path d="M326.0 274.3L325.4 274.3L324.8 274.3L324.0 274.7L323.5 275.0L323.0 275.7L322.7 276.2L322.5 277.1L322.1 285.6L322.2 286.5L322.5 287.0L323.0 287.7L323.4 288.0L324.2 288.4L329.3 289.4L329.9 289.5L330.7 289.4L331.3 289.1L332.0 288.6L332.3 288.2L332.7 287.4L334.4 279.5L334.5 278.6L334.4 278.0L334.0 277.2L333.6 276.7L332.9 276.2L332.3 276.0Z" fill="url(#dc2)" opacity="1.00"/>
<path d="M334.4 288.3L334.4 288.8L334.5 289.4L334.8 290.2L335.2 290.6L335.9 291.2L336.4 291.4L337.2 291.6L344.7 292.0L345.6 291.8L346.1 291.6L346.8 291.0L347.2 290.5L347.5 289.7L347.6 289.1L347.5 288.5L346.2 281.1L345.9 280.6L345.3 279.9L344.8 279.6L339.9 278.1L339.3 277.9L338.5 278.0L337.9 278.1L337.2 278.6L336.7 279.0L336.3 279.7L336.1 280.3Z" fill="url(#dc2)" opacity="1.00"/>
<path d="M348.7 278.6L348.5 278.8L348.3 279.4L348.1 279.9L348.0 280.2L348.0 280.8L349.5 289.0L349.5 289.3L349.8 289.9L350.1 290.4L350.3 290.6L350.7 291.0L351.3 291.3L351.5 291.4L352.6 291.7L354.3 291.9L354.6 291.9L356.3 291.7L356.9 291.6L358.2 291.2L358.7 291.0L360.2 290.2L360.4 290.0L361.7 288.9L362.8 287.6L363.0 287.4L363.5 286.4L348.9 278.4Z" fill="url(#dc3)" opacity="0.69"/>
<path d="M256.9 293.6L256.3 293.8L255.8 294.0L255.5 294.2L255.6 304.6L256.1 305.2L256.5 305.6L257.0 305.9L257.6 306.1L258.1 306.3L258.7 306.2L266.9 305.2L267.5 305.0L268.0 304.8L268.4 304.4L268.8 303.9L269.1 303.4L269.2 302.8L269.2 302.2L269.0 295.6L268.8 295.1L268.6 294.5L268.2 294.0L267.8 293.7L267.3 293.3L266.7 293.1L266.1 293.1L257.2 293.6Z" fill="url(#dc3)" opacity="1.00"/>
<path d="M271.1 302.6L271.2 303.1L271.6 303.9L272.0 304.3L272.7 304.8L273.2 305.0L274.0 305.2L274.6 305.1L281.1 303.8L281.7 303.5L282.3 303.0L282.6 302.5L283.0 301.7L283.0 301.1L283.2 294.7L282.9 293.9L282.5 293.4L281.6 292.2L281.1 291.9L275.2 290.0L274.6 289.9L273.8 289.9L273.2 290.1L272.4 290.5L271.6 291.4L271.0 292.1L270.8 292.7L270.7 293.6Z" fill="url(#dc3)" opacity="1.00"/>
<path d="M297.6 296.6L297.6 296.0L297.4 295.2L297.1 294.6L296.5 294.0L296.0 293.7L295.1 293.4L294.5 293.4L287.2 294.4L286.7 294.6L285.9 295.1L285.5 295.6L285.1 296.4L285.0 296.9L284.8 302.9L284.9 303.5L285.3 304.3L285.7 304.8L286.2 305.3L286.7 305.5L287.5 305.7L288.1 305.8L294.4 305.3L294.9 305.1L295.7 304.6L296.0 304.2L296.5 303.5L296.6 302.9Z" fill="url(#dc2)" opacity="1.00"/>
<path d="M307.8 307.3L308.3 306.9L308.8 306.1L308.9 305.6L309.0 304.7L307.4 296.6L307.1 295.8L306.8 295.3L306.2 294.7L305.7 294.4L304.9 294.2L304.3 294.2L301.7 294.4L301.1 294.6L300.4 295.0L300.0 295.5L299.6 296.2L299.5 296.8L298.2 304.7L298.3 305.3L298.6 306.2L299.0 306.7L301.7 309.0L302.2 309.3L303.0 309.5L303.6 309.5L304.5 309.4L305.0 309.1Z" fill="url(#dc2)" opacity="1.00"/>
<path d="M318.4 293.3L318.2 292.8L317.8 292.0L317.4 291.6L316.6 291.1L316.0 291.0L312.8 290.9L312.3 291.0L311.4 291.2L310.9 291.6L309.6 292.7L309.3 293.2L309.0 294.1L308.9 294.6L310.7 303.7L310.8 304.3L311.3 305.1L311.7 305.5L312.5 305.9L313.1 306.1L316.3 306.4L316.9 306.3L317.7 306.0L318.2 305.7L318.8 305.0L319.0 304.5L319.2 303.7L319.2 303.1Z" fill="url(#dc2)" opacity="1.00"/>
<path d="M323.5 290.1L322.9 290.1L322.1 290.3L321.5 290.6L320.9 291.2L320.6 291.6L320.3 292.5L320.2 293.0L321.3 305.5L321.4 306.1L321.9 306.8L322.3 307.3L323.1 307.7L323.6 307.9L325.3 308.1L325.9 308.0L328.5 307.1L329.1 306.8L329.7 306.3L330.1 305.8L330.4 304.9L332.6 294.7L332.6 293.8L332.4 293.3L331.9 292.5L331.5 292.1L330.8 291.6L330.2 291.4Z" fill="url(#dc2)" opacity="1.00"/>
<path d="M337.0 293.4L336.4 293.5L335.8 293.7L335.1 294.2L334.7 294.7L334.3 295.5L332.4 304.2L332.4 305.1L332.5 305.7L332.7 306.2L333.2 307.0L333.7 307.3L340.7 310.3L341.3 310.4L342.2 310.5L342.8 310.3L343.4 310.1L344.1 309.5L344.4 309.1L344.8 308.2L347.5 297.2L347.6 296.7L347.4 295.8L347.1 295.3L346.6 294.6L346.1 294.2L345.3 293.9L344.7 293.8Z" fill="url(#dc2)" opacity="1.00"/>
<path d="M346.5 308.7L346.5 309.3L346.7 310.2L347.0 310.7L347.5 311.4L348.3 311.9L348.9 312.1L355.9 313.5L356.5 313.4L357.3 313.1L358.9 312.2L359.3 311.8L359.8 311.0L359.9 310.4L361.0 298.6L360.9 297.7L360.6 297.2L360.1 296.5L359.7 296.1L358.5 295.5L356.6 294.9L354.9 294.7L352.9 294.9L352.3 295.0L350.8 295.5L350.1 296.1L349.7 296.6L349.4 297.4Z" fill="url(#dc3)" opacity="1.00"/>
<path d="M361.9 309.5L361.9 310.0L362.2 310.9L362.6 311.4L363.2 312.0L364.1 312.3L370.6 314.1L371.4 314.1L372.3 313.9L372.8 313.6L373.4 313.0L373.9 312.3L374.0 311.7L375.1 300.2L374.9 299.3L374.7 298.8L374.2 298.1L373.8 297.8L372.1 296.8L370.3 296.2L369.7 296.1L367.7 295.9L365.7 296.2L364.6 296.5L363.9 297.0L363.3 297.7L363.0 298.2L362.8 299.0Z" fill="url(#dc3)" opacity="1.00"/>
<path d="M258.7 308.1L258.1 308.3L257.4 308.7L256.8 309.3L256.5 309.9L256.0 311.5L255.7 313.5L255.9 315.5L256.4 317.4L256.6 317.9L257.6 319.6L258.9 321.1L260.5 322.3L261.8 323.0L262.6 323.2L263.5 323.2L264.4 322.8L264.9 322.5L270.9 317.1L271.3 316.4L271.5 315.6L271.5 315.0L270.9 309.1L270.5 308.3L269.9 307.6L269.4 307.3L268.5 307.0L267.6 307.0Z" fill="url(#dc2)" opacity="1.00"/>
<path d="M281.0 318.8L281.6 318.8L282.2 318.8L283.0 318.5L283.5 318.2L284.1 317.5L284.4 317.0L284.6 316.1L285.3 308.5L285.2 307.6L284.9 307.1L284.4 306.4L284.0 306.0L283.2 305.6L282.6 305.5L282.0 305.5L275.0 306.9L274.4 307.1L273.7 307.6L273.3 308.1L273.0 308.9L272.8 309.5L273.3 314.3L273.4 314.9L273.7 315.7L274.1 316.1L274.8 316.6L275.3 316.9Z" fill="url(#dc3)" opacity="1.00"/>
<path d="M297.7 321.3L298.3 321.4L299.1 321.3L299.7 321.0L300.4 320.5L301.0 319.7L301.5 318.9L301.7 318.3L302.0 313.0L301.9 312.3L301.6 311.5L301.2 311.0L297.4 307.7L296.9 307.4L296.0 307.1L295.4 307.1L289.2 307.6L288.6 307.8L287.9 308.3L287.5 308.8L287.1 309.6L287.0 310.2L286.5 316.0L286.6 316.6L287.0 317.4L287.4 317.9L288.1 318.4L288.6 318.6Z" fill="url(#dc2)" opacity="1.00"/>
<path d="M303.5 318.4L303.6 318.9L303.9 319.7L304.4 320.7L304.8 321.2L305.6 321.7L308.1 322.7L308.9 322.9L309.8 322.9L319.6 319.8L320.4 319.5L321.0 318.9L321.4 318.4L321.7 317.6L322.3 312.5L322.3 311.8L322.0 311.0L321.3 309.7L320.7 309.0L319.9 308.6L319.3 308.4L311.3 307.8L310.3 308.0L309.8 308.3L304.8 311.4L304.2 312.1L304.0 312.6L303.8 313.4Z" fill="url(#dc3)" opacity="1.00"/>
<path d="M281.4 323.2L281.4 322.7L281.2 321.8L280.9 321.3L280.3 320.7L279.9 320.4L274.5 318.5L273.9 318.4L273.1 318.4L272.5 318.5L271.8 318.9L268.3 321.9L267.7 322.6L267.5 323.1L267.3 324.0L267.4 324.9L267.6 325.5L268.1 326.2L271.5 329.2L272.3 329.6L272.8 329.8L273.6 329.9L274.2 329.8L279.1 328.2L279.7 327.9L280.3 327.3L280.6 326.8L280.9 326.0Z" fill="url(#dc0)" opacity="1.00"/>
<path d="M286.9 320.0L286.3 319.9L285.4 320.1L284.9 320.3L284.2 320.8L283.8 321.3L283.4 322.1L282.6 326.7L282.5 327.6L282.7 328.2L283.1 329.0L285.4 331.7L286.1 332.2L286.6 332.5L287.4 332.7L288.0 332.7L294.7 331.3L295.2 331.1L295.9 330.6L296.3 330.1L297.7 326.6L297.9 326.1L297.9 325.2L297.8 324.6L297.4 323.8L297.0 323.4L296.3 322.9L295.8 322.7Z" fill="url(#dc1)" opacity="1.00"/>
<path d="M298.0 331.0L297.9 331.5L298.0 332.4L298.1 333.0L301.2 339.7L301.6 340.1L302.4 340.7L303.2 340.9L303.8 340.9L309.9 339.5L310.5 339.3L311.2 338.8L311.6 338.4L312.0 337.6L312.2 336.7L312.2 336.2L308.8 326.1L308.5 325.5L308.0 324.8L307.5 324.5L305.2 323.5L304.4 323.3L303.8 323.4L302.2 323.8L301.7 324.0L300.9 324.5L300.4 324.9L300.0 325.7Z" fill="url(#dc1)" opacity="1.00"/>
<path d="M256.4 338.2L256.7 338.7L257.3 339.4L258.1 339.8L258.6 340.0L268.1 340.1L269.0 339.9L269.8 339.5L270.3 339.2L270.8 338.5L271.1 337.6L271.5 333.2L271.5 332.4L271.2 331.6L270.7 330.9L264.9 325.8L264.1 325.3L263.2 325.1L262.6 325.1L261.8 325.3L260.2 326.1L258.7 327.4L257.6 328.7L256.6 330.4L256.0 332.2L255.9 332.8L255.7 334.8L256.0 336.8Z" fill="url(#dc2)" opacity="1.00"/>
<path d="M272.9 337.7L273.0 338.3L273.3 339.1L273.6 339.6L274.2 340.2L274.8 340.5L275.6 340.7L281.1 340.7L282.0 340.6L282.5 340.3L283.2 339.8L283.6 339.4L284.0 338.5L284.8 335.5L284.9 334.6L284.7 334.0L284.3 333.2L282.4 330.9L281.7 330.4L281.2 330.1L280.3 329.9L279.8 330.0L275.3 331.4L274.8 331.6L274.1 332.1L273.8 332.6L273.4 333.4L273.3 333.9Z" fill="url(#dc3)" opacity="1.00"/>
<path d="M297.3 343.5L297.8 343.3L298.5 342.8L298.9 342.3L299.2 341.5L299.3 340.9L299.3 340.0L299.1 339.5L296.8 334.6L296.5 334.1L295.7 333.6L295.2 333.4L294.4 333.3L293.8 333.4L288.2 334.6L287.6 334.8L287.0 335.4L286.7 335.9L285.4 340.2L285.2 340.8L285.3 341.7L285.5 342.3L286.6 344.1L287.0 344.5L287.7 345.0L288.2 345.2L289.1 345.3L289.6 345.3Z" fill="url(#dc3)" opacity="1.00"/>
<path d="M258.9 341.9L258.3 342.0L257.5 342.4L257.1 342.7L256.6 343.4L256.0 345.1L255.9 345.7L255.7 347.7L256.0 349.7L256.5 351.3L257.4 353.0L257.8 353.5L258.2 353.8L259.0 354.2L268.0 356.2L268.6 356.2L269.5 356.0L270.0 355.7L270.7 355.1L271.1 354.3L271.3 353.8L271.4 344.8L271.2 344.0L271.0 343.4L270.5 342.7L269.8 342.2L269.2 342.0L268.4 341.8Z" fill="url(#dc3)" opacity="1.00"/>
<path d="M273.2 352.2L273.3 352.8L273.5 353.3L274.1 354.1L274.5 354.4L275.3 354.8L275.9 354.9L276.8 354.8L277.4 354.7L284.5 350.6L284.9 350.2L285.4 349.5L285.6 348.9L285.9 347.5L285.9 346.9L285.8 346.3L284.4 343.9L284.0 343.5L283.3 342.9L282.7 342.6L281.8 342.5L275.9 342.5L275.0 342.7L274.5 343.0L273.8 343.6L273.5 344.1L273.2 344.9L273.1 345.5Z" fill="url(#dc3)" opacity="1.00"/>
<path d="M289.6 347.1L289.1 347.4L288.4 347.9L288.0 348.3L287.7 349.1L287.6 349.7L287.6 350.6L287.8 351.1L288.2 351.9L291.8 356.1L292.4 356.6L293.0 356.8L293.8 357.0L294.4 356.9L299.5 355.0L300.0 354.7L300.6 354.1L301.0 353.6L301.3 352.8L301.4 352.3L300.7 347.9L300.5 347.3L300.1 346.6L299.7 346.2L299.0 345.7L298.5 345.5L297.6 345.4L297.1 345.4Z" fill="url(#dc3)" opacity="1.00"/>
<path d="M304.2 342.8L303.6 343.1L302.9 343.6L302.6 344.1L302.2 344.9L302.2 345.5L303.4 353.0L303.5 353.5L303.9 354.3L304.3 354.7L306.5 356.4L307.0 356.6L307.9 356.8L308.5 356.8L309.3 356.6L309.8 356.3L310.4 355.7L315.7 347.3L316.1 346.5L316.2 345.9L316.1 345.0L315.9 344.5L314.6 342.1L314.2 341.7L313.4 341.2L312.9 341.0L312.0 340.9L311.4 341.0Z" fill="url(#dc2)" opacity="1.00"/>
<path d="M323.4 318.8L323.4 319.4L323.7 320.2L324.0 320.7L326.2 323.6L327.0 324.1L327.6 324.3L328.5 324.3L338.8 322.2L339.4 322.0L340.1 321.5L340.6 320.7L340.8 320.2L342.2 315.2L342.1 314.3L342.0 313.8L341.6 313.1L341.3 312.7L340.5 312.1L331.6 308.5L331.1 308.4L330.3 308.4L327.1 309.6L326.4 309.9L325.6 310.6L324.6 311.8L324.3 312.3L324.1 313.1Z" fill="url(#dc1)" opacity="1.00"/>
<path d="M342.3 321.8L342.2 322.3L342.3 323.2L342.5 323.7L343.5 325.4L343.9 325.8L344.6 326.3L345.4 326.5L353.5 327.5L354.4 327.4L354.9 327.2L355.7 326.6L356.0 326.2L356.4 325.4L356.6 324.5L355.9 317.5L355.7 316.7L355.4 316.2L354.8 315.5L354.3 315.2L353.5 314.9L347.4 313.7L346.8 313.7L345.9 314.0L345.2 314.4L344.6 314.9L344.2 315.4L343.8 316.2Z" fill="url(#dc2)" opacity="1.00"/>
<path d="M361.7 313.5L361.1 313.5L360.3 313.6L359.7 313.9L358.7 314.5L358.3 314.9L357.9 315.7L357.7 316.2L357.6 317.1L358.4 324.4L358.7 325.2L359.0 325.7L359.7 326.3L360.2 326.6L362.3 327.1L363.1 327.1L363.7 327.0L364.5 326.6L364.9 326.3L370.3 320.1L370.6 319.6L370.8 318.8L370.8 318.2L370.7 317.3L370.4 316.8L369.9 316.2L369.4 315.8L368.6 315.5Z" fill="url(#dc3)" opacity="1.00"/>
<path d="M313.5 334.3L313.8 334.8L314.4 335.4L314.9 335.7L315.7 336.0L316.2 336.1L317.1 335.9L317.6 335.7L324.3 331.4L324.7 331.0L325.2 330.2L325.4 329.6L325.6 326.7L325.5 326.1L325.1 325.3L323.2 322.7L322.6 322.1L322.1 321.8L321.3 321.5L320.8 321.5L319.9 321.6L312.9 323.8L312.1 324.3L311.7 324.7L311.2 325.5L311.1 326.1L311.1 327.0L311.2 327.6Z" fill="url(#dc3)" opacity="1.00"/>
<path d="M341.4 325.5L341.1 325.1L340.4 324.5L339.8 324.3L338.9 324.1L338.3 324.2L329.1 326.1L328.5 326.4L327.9 327.0L327.6 327.5L327.3 328.4L327.2 329.7L327.2 330.6L327.4 331.2L327.9 331.9L333.2 337.9L333.7 338.2L334.5 338.4L335.1 338.5L335.9 338.4L336.5 338.1L340.0 336.1L340.4 335.7L340.9 335.0L341.0 334.4L342.2 327.7L342.1 327.2L341.9 326.4Z" fill="url(#dc3)" opacity="1.00"/>
<path d="M342.9 334.1L342.9 334.7L343.1 335.5L343.4 336.0L344.0 336.6L344.5 337.0L349.5 339.7L350.0 339.8L350.9 339.8L351.4 339.7L352.6 339.0L353.1 338.7L353.7 338.0L353.9 337.4L354.6 332.4L354.6 331.9L354.4 331.0L354.1 330.5L353.5 329.8L353.0 329.5L352.2 329.2L346.8 328.5L345.9 328.5L345.3 328.7L344.6 329.1L344.1 329.6L343.7 330.3L343.5 330.9Z" fill="url(#dc3)" opacity="1.00"/>
<path d="M359.8 328.4L359.2 328.4L358.4 328.6L357.8 328.9L357.2 329.5L356.9 330.0L356.6 330.8L356.0 335.8L356.0 336.7L356.2 337.2L356.6 338.0L357.0 338.4L357.7 338.9L363.1 340.7L364.0 340.8L364.6 340.8L365.4 340.5L366.9 339.6L367.5 339.1L367.9 338.6L368.2 337.8L368.3 337.2L368.2 336.3L367.9 335.7L364.3 330.0L363.8 329.6L363.1 329.1L362.5 328.9Z" fill="url(#dc3)" opacity="1.00"/>
<path d="M317.3 338.1L316.9 338.5L316.4 339.3L316.2 339.9L316.2 340.8L316.3 341.4L317.9 344.2L318.4 344.9L318.9 345.2L324.9 347.7L325.4 347.9L326.3 347.9L326.9 347.8L327.6 347.4L331.7 344.7L332.1 344.3L332.5 343.5L332.8 342.2L332.9 341.3L332.8 340.7L332.5 339.9L327.7 334.4L327.3 334.0L326.5 333.6L326.0 333.4L325.1 333.4L324.6 333.5L323.8 333.9Z" fill="url(#dc2)" opacity="1.00"/>
<path d="M335.9 340.5L335.4 340.9L334.9 341.5L334.7 342.0L334.4 343.2L334.4 343.8L334.6 344.6L334.8 345.2L335.4 345.8L341.8 351.6L342.6 352.0L343.1 352.2L344.0 352.2L344.6 352.0L347.5 350.9L348.2 350.3L348.6 349.8L348.9 348.9L349.3 343.8L349.3 342.9L349.1 342.4L348.7 341.7L348.3 341.2L343.0 338.2L342.5 338.0L341.6 337.8L341.0 337.9L340.1 338.2Z" fill="url(#dc2)" opacity="1.00"/>
<path d="M350.7 349.1L350.8 349.7L351.1 350.5L351.4 351.0L352.1 351.6L357.4 354.7L358.2 355.0L358.8 355.0L359.6 354.9L360.1 354.6L360.8 354.1L361.2 353.7L361.5 352.9L363.0 345.3L363.1 344.4L362.9 343.6L362.6 343.1L362.0 342.5L361.6 342.1L356.2 340.2L355.6 340.1L354.7 340.1L354.2 340.3L352.6 341.1L352.2 341.5L351.6 342.1L351.4 342.6L351.2 343.4Z" fill="url(#dc2)" opacity="1.00"/>
<path d="M311.1 358.1L310.8 358.7L310.7 359.5L310.9 360.4L311.1 360.9L311.6 361.6L313.0 362.7L314.5 363.5L316.3 364.2L318.3 364.4L318.9 364.4L320.9 364.2L322.7 363.5L323.8 362.9L324.5 362.4L324.9 361.6L325.1 361.1L325.4 352.0L325.3 351.1L325.1 350.5L324.6 349.8L323.8 349.3L320.5 347.9L319.6 347.7L318.7 347.7L318.1 347.9L317.4 348.4L316.8 349.0Z" fill="url(#dc3)" opacity="1.00"/>
<path d="M327.0 360.9L327.1 361.5L327.4 362.4L327.8 362.8L328.3 363.2L330.0 364.2L331.6 364.7L333.6 364.9L335.6 364.8L336.2 364.7L337.1 364.3L337.8 363.7L338.2 363.3L341.0 355.8L341.1 355.0L341.1 354.4L340.8 353.5L340.5 353.0L334.7 347.6L333.9 347.1L333.4 346.9L332.5 346.9L331.6 347.1L331.0 347.4L328.2 349.3L327.6 350.0L327.4 350.5L327.3 351.4Z" fill="url(#dc3)" opacity="1.00"/>
<path d="M375.7 313.1L375.8 313.7L376.0 314.3L376.3 314.8L376.6 315.2L377.0 315.5L377.5 315.8L379.2 316.7L380.4 317.0L380.9 317.1L381.5 317.0L382.1 316.9L382.6 316.6L383.0 316.2L383.6 315.6L389.3 302.5L389.4 301.9L389.5 301.3L384.0 298.0L382.5 297.2L380.8 297.4L378.9 298.0L378.4 298.3L377.9 298.6L377.5 299.0L377.2 299.5L376.9 300.1L376.8 300.6Z" fill="url(#dc3)" opacity="0.88"/>
<path d="M385.2 316.3L385.2 316.6L385.1 317.2L385.1 317.5L385.2 318.1L385.3 318.3L385.6 318.9L385.8 319.1L386.2 319.5L386.4 319.7L387.7 320.4L388.0 320.5L389.5 321.0L389.8 321.1L391.2 321.2L392.1 321.2L392.4 321.2L393.8 321.1L394.1 321.0L395.7 320.5L395.9 320.4L397.4 319.6L397.6 319.4L398.0 306.0L391.5 302.3L391.2 302.7L391.0 302.9L385.4 316.0Z" fill="url(#dc2)" opacity="0.79"/>
<path d="M366.7 327.0L366.4 327.5L366.2 328.1L366.2 329.0L366.3 329.5L366.6 330.4L369.2 334.3L369.8 334.9L370.3 335.2L370.9 335.4L371.8 335.4L372.3 335.3L373.1 335.0L373.6 334.6L374.1 334.0L374.4 333.4L376.7 324.1L376.7 323.3L376.6 322.7L376.3 321.9L375.9 321.4L375.5 321.0L374.7 320.6L374.1 320.5L373.3 320.5L372.7 320.6L371.9 321.1L371.5 321.5Z" fill="url(#dc2)" opacity="1.00"/>
<path d="M375.6 336.2L375.6 336.8L375.7 337.6L376.0 338.1L376.5 338.8L377.0 339.2L377.8 339.5L378.6 339.6L379.2 339.5L382.8 338.7L383.3 338.4L384.0 337.8L384.3 337.3L387.5 324.9L387.6 324.0L387.5 323.5L387.2 322.7L386.8 322.2L386.2 321.7L385.6 321.3L383.8 320.7L382.1 320.5L381.5 320.5L380.7 320.7L380.2 320.9L379.5 321.5L379.2 321.9L378.9 322.7Z" fill="url(#dc3)" opacity="1.00"/>
<path d="M392.1 323.1L391.8 323.1L391.2 323.2L390.7 323.4L390.2 323.8L389.9 324.0L389.6 324.5L389.3 325.0L386.5 336.2L386.4 336.8L386.4 337.1L386.5 337.6L386.6 338.2L386.9 338.7L387.3 339.1L387.5 339.3L388.0 339.6L389.7 340.3L390.3 340.5L390.6 340.6L391.3 340.5L398.7 338.7L397.6 324.9L397.1 324.6L395.9 323.9L395.4 323.7L393.8 323.2L392.4 323.1Z" fill="url(#dc3)" opacity="0.80"/>
<path d="M363.1 354.3L363.1 354.9L363.3 355.7L363.6 356.2L364.2 356.9L364.7 357.2L366.3 358.0L367.2 358.2L367.8 358.2L368.6 358.0L369.2 357.7L369.8 357.2L376.2 349.4L376.6 348.6L376.8 347.8L376.7 342.6L376.5 341.8L376.2 341.2L375.6 340.6L374.5 339.8L373.6 339.5L371.9 339.3L371.3 339.3L370.4 339.6L366.5 342.0L365.8 342.6L365.4 343.1L365.1 344.0Z" fill="url(#dc2)" opacity="1.00"/>
<path d="M389.6 344.0L389.5 343.4L389.1 342.6L388.8 342.1L388.1 341.6L385.5 340.6L384.7 340.3L384.1 340.4L380.6 341.1L380.1 341.3L379.4 341.8L379.0 342.3L378.7 343.1L378.6 343.7L378.6 347.5L378.7 348.0L379.0 348.8L379.4 349.2L384.9 353.3L385.4 353.6L386.3 353.8L386.9 353.8L387.7 353.6L388.3 353.3L388.9 352.8L389.3 352.3L389.6 351.4L389.6 350.8Z" fill="url(#dc2)" opacity="1.00"/>
<path d="M393.4 341.9L393.1 342.0L392.6 342.3L392.2 342.7L391.8 343.2L391.7 343.5L391.5 344.1L391.4 344.7L391.5 355.9L391.5 356.1L391.7 356.7L392.0 357.2L392.3 357.7L392.5 357.9L393.0 358.2L393.6 358.4L394.2 358.5L395.4 358.7L396.0 358.7L397.7 358.5L399.3 358.0L399.6 357.9L400.0 357.7L400.4 357.4L400.8 357.0L401.0 356.8L399.0 352.0L393.7 341.8Z" fill="url(#dc2)" opacity="0.67"/>
<path d="M371.1 358.5L370.8 359.0L370.6 359.9L370.6 360.4L370.8 361.3L371.1 361.8L371.7 362.5L372.2 362.8L373.0 363.1L384.8 364.2L385.6 364.1L386.2 363.9L386.9 363.5L387.4 363.1L388.1 362.0L388.7 361.0L388.9 360.2L388.9 359.6L388.7 358.8L388.4 358.3L387.9 357.6L380.1 352.0L379.3 351.6L378.7 351.5L377.8 351.5L377.2 351.7L376.4 352.1L376.0 352.5Z" fill="url(#dc3)" opacity="1.00"/>
<path d="M389.2 365.1L388.9 365.6L388.7 366.5L388.6 377.9L388.8 378.8L389.0 379.3L389.5 380.0L390.0 380.4L390.8 380.8L399.8 382.6L400.7 382.6L401.3 382.5L402.1 382.1L402.6 381.7L403.1 381.0L406.6 371.9L406.7 371.4L406.6 370.5L406.5 370.0L406.0 369.2L400.1 362.2L399.4 361.7L398.9 361.5L398.0 361.3L393.4 361.6L392.6 361.8L392.0 362.1L391.4 362.6Z" fill="url(#dc1)" opacity="1.00"/>
<path d="M380.8 405.4L380.9 405.9L381.0 406.5L381.5 407.2L381.8 407.7L382.6 408.1L383.1 408.3L384.0 408.4L384.5 408.3L385.3 408.0L385.8 407.7L404.1 391.5L404.5 391.0L404.7 390.1L404.7 389.5L404.6 388.9L404.3 388.1L402.8 385.8L402.2 385.2L401.6 384.9L389.3 382.3L388.6 382.3L387.7 382.4L387.2 382.7L384.0 385.0L383.6 385.4L383.2 386.2L383.1 386.8Z" fill="url(#dc0)" opacity="1.00"/>
<path d="M409.8 390.9L410.1 391.0L410.3 391.0L410.9 391.1L411.2 391.1L427.5 389.2L410.6 370.9L410.3 371.0L409.7 371.2L409.5 371.3L409.2 371.5L408.8 371.9L408.6 372.1L408.3 372.6L408.2 372.8L404.4 382.6L404.3 383.2L404.2 383.5L404.3 384.2L404.3 384.5L404.4 384.8L404.7 385.3L407.0 389.0L407.3 389.4L407.5 389.6L407.7 389.8L408.2 390.1L409.5 390.8Z" fill="url(#dc1)" opacity="1.00"/>
<path d="M413.4 392.6L413.1 392.7L412.9 392.8L412.6 392.9L412.4 393.1L412.1 393.3L411.9 393.5L411.7 393.7L411.5 393.9L411.4 394.2L411.3 394.4L411.2 394.7L411.1 395.0L411.1 395.3L411.0 395.6L411.0 415.6L427.5 415.6L427.5 391.1L413.7 392.6L413.4 392.6Z" fill="url(#dc0)" opacity="1.00"/>
<path d="M386.6 409.4L386.4 409.6L386.1 410.1L386.0 410.4L385.8 410.9L385.8 411.5L385.8 411.8L385.9 412.4L386.0 412.6L386.7 413.9L387.0 414.4L388.0 415.6L409.2 396.1L409.2 395.8L409.1 395.2L408.9 394.7L408.7 394.4L408.3 393.9L408.1 393.7L407.6 393.4L407.1 393.2L406.8 393.1L406.2 393.1L405.9 393.1L405.3 393.2L404.8 393.5L404.5 393.7L386.8 409.2Z" fill="url(#dc1)" opacity="1.00"/>
<path d="M357.5 377.5L357.1 377.9L356.7 378.7L356.5 379.6L355.1 401.1L355.3 401.7L355.6 402.4L356.5 403.5L359.4 405.9L362.4 407.5L366.0 408.6L369.7 409.1L373.4 408.8L374.0 408.6L377.4 407.5L378.1 407.0L378.7 406.3L378.9 405.8L381.1 387.8L381.1 386.9L380.8 386.1L380.5 385.6L379.9 385.0L361.7 376.4L360.9 376.2L360.3 376.1L359.4 376.3L358.7 376.7Z" fill="url(#dc1)" opacity="1.00"/>
<path d="M369.6 377.6L370.0 378.1L370.6 378.6L378.4 382.2L379.4 382.4L380.2 382.3L382.1 381.7L383.8 380.8L385.1 379.7L386.2 378.5L386.6 377.8L386.8 376.9L386.8 368.6L386.6 367.8L386.2 367.0L385.7 366.6L385.0 366.1L384.1 365.9L372.4 364.9L371.6 365.2L370.9 365.6L370.0 366.6L369.7 367.1L368.8 368.8L368.3 370.7L368.1 372.7L368.4 374.7L369.0 376.5Z" fill="url(#dc2)" opacity="1.00"/>
<path d="M338.4 373.2L337.8 373.1L336.9 373.3L336.3 373.5L335.6 374.1L335.1 374.8L328.3 388.5L328.1 389.4L328.2 390.3L333.4 404.6L333.9 405.4L334.6 406.1L335.1 406.4L336.3 406.7L340.0 407.1L343.4 406.8L347.0 405.7L347.6 405.5L350.8 403.7L352.7 402.1L353.0 401.6L353.3 400.7L354.7 380.4L354.6 379.8L354.3 379.0L353.8 378.3L353.3 378.0L352.6 377.6Z" fill="url(#dc2)" opacity="1.00"/>
<path d="M340.1 363.6L340.0 364.1L340.1 365.0L340.3 365.8L341.4 367.1L342.9 368.4L344.6 369.4L346.4 370.0L348.4 370.3L350.4 370.1L352.3 369.6L354.0 368.7L355.6 367.5L356.9 366.0L357.9 364.3L358.1 363.8L358.6 361.9L358.8 359.9L358.6 358.5L358.1 357.6L357.5 357.0L350.5 352.7L349.6 352.5L348.7 352.5L344.7 353.9L343.9 354.3L343.3 354.9L342.9 355.7Z" fill="url(#dc2)" opacity="1.00"/>
<path d="M308.7 390.5L308.2 390.8L307.6 391.5L307.3 392.3L307.1 393.1L307.3 394.0L313.0 405.2L313.5 405.9L314.2 406.5L315.1 406.8L315.7 406.9L317.7 406.7L319.6 406.2L321.3 405.3L322.9 404.1L324.2 402.6L325.2 400.9L325.8 399.1L326.1 397.1L326.1 396.5L325.8 394.5L325.2 392.7L324.2 391.0L323.2 389.8L322.4 389.3L316.0 387.9L315.1 387.8L314.2 388.1Z" fill="url(#dc3)" opacity="1.00"/>
<path d="M316.2 368.7L315.7 369.0L315.0 369.5L314.6 370.3L314.3 371.2L315.6 383.8L315.8 384.7L316.3 385.4L316.9 386.0L317.7 386.4L322.6 387.4L323.4 387.4L324.3 387.1L325.8 386.2L327.3 384.9L328.5 383.3L329.4 381.6L329.9 379.7L330.1 377.7L329.8 375.7L329.2 373.9L328.2 372.2L326.9 370.7L325.3 369.5L323.6 368.6L321.7 368.1L319.7 367.9L317.7 368.2Z" fill="url(#dc4)" opacity="1.00"/>
<path d="M269.2 393.3L269.5 393.3L269.8 393.2L270.4 392.9L270.6 392.8L270.8 392.6L271.2 392.1L271.4 391.9L271.6 391.6L274.6 385.1L274.7 384.8L274.7 384.5L274.8 384.0L274.7 383.7L274.6 383.1L274.5 382.8L274.4 382.6L274.0 382.1L273.8 381.9L273.6 381.7L265.0 376.1L264.7 376.0L264.5 375.9L264.0 375.7L263.7 375.7L263.4 375.7L255.5 376.2L255.5 395.1Z" fill="url(#dc2)" opacity="1.00"/>
<path d="M266.4 372.3L266.3 372.9L266.3 373.8L266.5 374.3L266.9 375.1L267.6 375.7L273.2 379.3L274.0 379.5L274.8 379.6L275.4 379.5L277.1 378.9L278.8 377.9L280.1 376.8L281.4 375.3L282.3 373.6L282.8 372.0L282.9 371.3L282.9 370.7L282.7 369.8L282.2 369.1L275.4 361.4L274.6 360.9L273.7 360.7L273.1 360.6L272.3 360.8L271.5 361.3L271.0 361.7L270.6 362.5Z" fill="url(#dc3)" opacity="1.00"/>
<path d="M277.8 356.5L277.4 356.9L276.9 357.6L276.7 358.2L276.6 359.0L276.7 359.6L277.0 360.5L277.3 360.9L283.9 368.2L284.4 368.5L285.2 368.8L285.8 368.8L287.0 368.7L287.6 368.5L288.4 368.1L288.8 367.7L289.2 366.9L291.2 360.4L291.3 359.5L291.3 358.9L291.0 358.1L290.6 357.6L287.1 353.4L286.6 353.1L285.7 352.8L285.1 352.7L284.3 352.9L283.7 353.1Z" fill="url(#dc2)" opacity="1.00"/>
<path d="M286.4 371.1L285.9 371.4L285.3 372.0L285.0 372.5L282.1 379.0L282.0 379.6L282.1 380.4L282.2 381.0L282.7 381.7L283.1 382.1L295.5 390.0L296.1 390.2L296.9 390.3L297.5 390.3L298.3 390.0L299.0 389.5L299.4 389.0L299.8 388.2L299.9 387.6L299.9 375.2L299.8 374.6L299.4 373.8L299.1 373.4L298.4 372.8L297.9 372.6L290.1 370.0L289.5 370.0L288.6 370.2Z" fill="url(#dc2)" opacity="1.00"/>
<path d="M273.9 395.8L274.1 396.6L277.2 401.6L278.0 402.3L279.7 403.3L281.5 403.9L283.5 404.2L285.8 404.0L287.7 403.4L289.4 402.5L290.9 401.2L291.3 400.7L293.6 396.3L293.8 395.5L293.7 392.4L293.6 391.8L293.2 391.0L292.6 390.3L283.6 384.6L282.7 384.3L281.9 384.2L279.9 384.8L278.2 385.7L276.7 387.0L275.4 388.5L274.5 390.2L273.9 392.1L273.7 394.1Z" fill="url(#dc3)" opacity="1.00"/>
<path d="M307.1 367.9L307.6 367.5L308.0 366.9L308.3 366.3L308.7 364.6L308.9 362.6L308.7 361.3L308.4 360.4L307.8 359.7L303.9 356.7L303.2 356.3L302.4 356.1L301.8 356.1L301.0 356.3L294.2 359.0L293.8 359.4L293.2 360.1L293.0 360.7L291.4 366.1L291.5 366.9L291.6 367.5L292.1 368.2L292.7 368.8L293.2 369.1L299.7 371.3L300.5 371.4L301.1 371.3L301.9 371.0Z" fill="url(#dc2)" opacity="1.00"/>
<path d="M301.7 387.3L301.8 387.9L302.1 388.4L302.6 389.1L303.1 389.5L303.9 389.9L304.5 390.0L305.3 389.9L305.9 389.8L312.5 386.8L313.0 386.4L313.5 385.7L313.7 385.2L313.8 384.3L312.5 371.8L312.4 371.2L312.0 370.4L311.6 369.9L310.9 369.4L310.4 369.2L309.5 369.1L308.9 369.1L308.0 369.5L303.0 372.5L302.3 373.0L302.0 373.5L301.8 374.3L301.7 374.9Z" fill="url(#dc2)" opacity="1.00"/>
<path d="M287.5 412.5L287.4 412.8L287.3 413.3L287.3 413.6L287.4 414.2L287.5 414.8L287.7 415.0L288.0 415.5L288.1 415.6L316.0 415.3L315.9 414.8L315.7 414.5L304.7 393.0L304.5 392.8L304.1 392.3L303.6 392.0L303.4 391.9L302.8 391.7L301.8 391.5L301.2 391.4L300.6 391.4L300.3 391.5L298.5 392.2L298.2 392.3L297.7 392.7L297.2 393.1L297.1 393.4L287.6 412.2Z" fill="url(#dc2)" opacity="1.00"/>
<path d="M261.5 396.1L260.8 396.4L260.2 396.8L258.7 398.1L256.8 400.9L256.2 402.7L255.9 404.7L256.1 407.0L256.7 408.9L257.6 410.6L259.1 412.3L260.7 413.5L262.4 414.4L265.7 415.1L267.7 414.9L269.6 414.4L271.6 413.4L273.1 412.1L274.4 410.6L275.4 408.6L275.9 406.7L276.1 404.7L275.8 402.8L272.7 397.8L272.1 397.0L270.1 395.8L269.0 395.4L268.1 395.3Z" fill="url(#dc4)" opacity="1.00"/>
<path d="M258.6 356.0L258.3 356.0L257.7 356.0L257.2 356.2L256.7 356.5L256.2 356.8L255.5 372.7L256.4 373.4L257.2 373.8L257.7 374.0L258.3 374.2L258.8 374.2L262.2 373.9L262.8 373.8L263.3 373.5L263.8 373.1L264.2 372.7L264.5 372.1L269.0 361.6L269.1 361.0L269.1 360.4L269.0 359.8L268.8 359.3L268.5 358.8L268.1 358.4L267.6 358.0L267.0 357.8L258.9 356.1Z" fill="url(#dc4)" opacity="1.00"/>
<path d="M407.7 368.4L407.9 368.6L408.2 368.7L408.4 368.9L408.7 369.0L409.0 369.1L409.3 369.2L409.6 369.2L409.9 369.2L410.2 369.2L427.5 366.6L427.5 357.2L405.7 353.2L402.1 358.3L402.0 358.6L401.8 358.9L401.7 359.2L401.6 359.4L401.6 359.7L401.6 360.0L401.6 360.4L401.6 360.7L401.7 360.9L401.8 361.2L401.9 361.5L402.1 361.8L402.3 362.0L407.5 368.1Z" fill="url(#dc2)" opacity="0.76"/>
<g filter="url(#fdSm)"><polygon points="336,236 350,268 366,287 386,298 400,306 401,352 432,358 432,236" fill="#dc7406"/><polygon points="380,236 432,236 432,290" fill="#e8861a" opacity="0.5"/></g>
<line x1="337.0" y1="238" x2="387.0" y2="300" stroke="#a85004" stroke-width="1.8" opacity="0.4"/>
<line x1="348.0" y1="238" x2="398.0" y2="304" stroke="#a85004" stroke-width="1.8" opacity="0.4"/>
<line x1="353.9" y1="238" x2="403.9" y2="308" stroke="#a85004" stroke-width="1.8" opacity="0.4"/>
<line x1="362.2" y1="238" x2="412.2" y2="312" stroke="#a85004" stroke-width="1.8" opacity="0.4"/>
<line x1="368.7" y1="238" x2="418.7" y2="316" stroke="#a85004" stroke-width="1.8" opacity="0.4"/>
<line x1="379.1" y1="238" x2="429.1" y2="320" stroke="#a85004" stroke-width="1.8" opacity="0.4"/>
<line x1="384.9" y1="238" x2="434.9" y2="324" stroke="#a85004" stroke-width="1.8" opacity="0.4"/>
<line x1="394.4" y1="238" x2="444.4" y2="328" stroke="#a85004" stroke-width="1.8" opacity="0.4"/>
<line x1="403.8" y1="238" x2="453.8" y2="332" stroke="#a85004" stroke-width="1.8" opacity="0.4"/>
<line x1="411.7" y1="238" x2="461.7" y2="336" stroke="#a85004" stroke-width="1.8" opacity="0.4"/>
<line x1="419.2" y1="238" x2="469.2" y2="340" stroke="#a85004" stroke-width="1.8" opacity="0.4"/>
<line x1="424.7" y1="238" x2="474.7" y2="344" stroke="#a85004" stroke-width="1.8" opacity="0.4"/>
<rect x="400" y="322" width="26" height="8" fill="#a85208" opacity="0.3" filter="url(#fdSm2)"/>
<rect x="400" y="340" width="26" height="10" fill="#9a4a06" opacity="0.3" filter="url(#fdSm2)"/>
<line x1="284" y1="244" x2="297" y2="254" stroke="#f49a2c" stroke-width="8.3" stroke-linecap="round" opacity="0.81" filter="url(#fdSm2)"/>
<line x1="271" y1="267.5" x2="283.8" y2="274" stroke="#f49a2c" stroke-width="6.2" stroke-linecap="round" opacity="0.68" filter="url(#fdSm2)"/>
<line x1="318" y1="251" x2="327" y2="258" stroke="#f49a2c" stroke-width="9.1" stroke-linecap="round" opacity="0.81" filter="url(#fdSm2)"/>
<line x1="329" y1="260" x2="334" y2="265" stroke="#f49a2c" stroke-width="5.7" stroke-linecap="round" opacity="0.68" filter="url(#fdSm2)"/>
<line x1="348" y1="283" x2="353" y2="288" stroke="#f49a2c" stroke-width="6.5" stroke-linecap="round" opacity="0.72" filter="url(#fdSm2)"/>
<line x1="346" y1="297" x2="351" y2="300" stroke="#f49a2c" stroke-width="5.2" stroke-linecap="round" opacity="0.59" filter="url(#fdSm2)"/>
<line x1="365" y1="291" x2="370" y2="296" stroke="#f49a2c" stroke-width="6.5" stroke-linecap="round" opacity="0.77" filter="url(#fdSm2)"/>
<line x1="259" y1="307" x2="262" y2="313" stroke="#f49a2c" stroke-width="6.2" stroke-linecap="round" opacity="0.77" filter="url(#fdSm2)"/>
<line x1="266" y1="320" x2="273" y2="328" stroke="#f49a2c" stroke-width="6.8" stroke-linecap="round" opacity="0.77" filter="url(#fdSm2)"/>
<line x1="281" y1="338" x2="286" y2="343" stroke="#f49a2c" stroke-width="5.2" stroke-linecap="round" opacity="0.59" filter="url(#fdSm2)"/>
<line x1="307" y1="344" x2="312" y2="348" stroke="#f49a2c" stroke-width="5.2" stroke-linecap="round" opacity="0.64" filter="url(#fdSm2)"/>
<line x1="259" y1="349" x2="262" y2="354" stroke="#f49a2c" stroke-width="6.2" stroke-linecap="round" opacity="0.72" filter="url(#fdSm2)"/>
<line x1="349" y1="297" x2="355" y2="301" stroke="#f49a2c" stroke-width="6.2" stroke-linecap="round" opacity="0.72" filter="url(#fdSm2)"/>
<line x1="359" y1="300" x2="364" y2="304" stroke="#f49a2c" stroke-width="5.7" stroke-linecap="round" opacity="0.68" filter="url(#fdSm2)"/>
<line x1="365" y1="317" x2="370" y2="322" stroke="#f49a2c" stroke-width="6.2" stroke-linecap="round" opacity="0.72" filter="url(#fdSm2)"/>
<line x1="343" y1="324" x2="348" y2="329" stroke="#f49a2c" stroke-width="5.2" stroke-linecap="round" opacity="0.51" filter="url(#fdSm2)"/>
<line x1="363" y1="337" x2="369" y2="342" stroke="#f49a2c" stroke-width="6.5" stroke-linecap="round" opacity="0.77" filter="url(#fdSm2)"/>
<line x1="355" y1="349" x2="359" y2="353" stroke="#f49a2c" stroke-width="6.2" stroke-linecap="round" opacity="0.72" filter="url(#fdSm2)"/>
<line x1="367" y1="316" x2="373" y2="321" stroke="#f49a2c" stroke-width="6.8" stroke-linecap="round" opacity="0.77" filter="url(#fdSm2)"/>
<line x1="377" y1="320" x2="388" y2="327" stroke="#f49a2c" stroke-width="7.3" stroke-linecap="round" opacity="0.81" filter="url(#fdSm2)"/>
<line x1="370" y1="339" x2="380" y2="348" stroke="#f49a2c" stroke-width="7.3" stroke-linecap="round" opacity="0.81" filter="url(#fdSm2)"/>
<line x1="404" y1="355" x2="409" y2="360" stroke="#f49a2c" stroke-width="6.2" stroke-linecap="round" opacity="0.72" filter="url(#fdSm2)"/>
<line x1="415" y1="373" x2="420" y2="380" stroke="#f49a2c" stroke-width="6.2" stroke-linecap="round" opacity="0.77" filter="url(#fdSm2)"/>
<line x1="407" y1="390" x2="409" y2="402" stroke="#f49a2c" stroke-width="6.2" stroke-linecap="round" opacity="0.77" filter="url(#fdSm2)"/>
<line x1="384" y1="401" x2="389" y2="406" stroke="#f49a2c" stroke-width="5.2" stroke-linecap="round" opacity="0.51" filter="url(#fdSm2)"/>
<line x1="389" y1="360" x2="397" y2="366" stroke="#f49a2c" stroke-width="6.8" stroke-linecap="round" opacity="0.77" filter="url(#fdSm2)"/>
<line x1="355" y1="352" x2="361" y2="357" stroke="#f49a2c" stroke-width="7.8" stroke-linecap="round" opacity="0.81" filter="url(#fdSm2)"/>
<line x1="267" y1="352" x2="274" y2="366" stroke="#f49a2c" stroke-width="11.7" stroke-linecap="round" opacity="0.81" filter="url(#fdSm2)"/>
<line x1="273" y1="366" x2="279" y2="386" stroke="#f49a2c" stroke-width="9.1" stroke-linecap="round" opacity="0.72" filter="url(#fdSm2)"/>
<line x1="284" y1="244" x2="297" y2="254" stroke="#fff4e6" stroke-width="3.7" stroke-linecap="round" opacity="0.95" filter="url(#fdSm2)"/>
<line x1="271" y1="267.5" x2="283.8" y2="274" stroke="#fff4e6" stroke-width="2.8" stroke-linecap="round" opacity="0.80" filter="url(#fdSm2)"/>
<line x1="318" y1="251" x2="327" y2="258" stroke="#fff4e6" stroke-width="4.0" stroke-linecap="round" opacity="0.95" filter="url(#fdSm2)"/>
<line x1="329" y1="260" x2="334" y2="265" stroke="#fff4e6" stroke-width="2.5" stroke-linecap="round" opacity="0.80" filter="url(#fdSm2)"/>
<line x1="348" y1="283" x2="353" y2="288" stroke="#fff4e6" stroke-width="2.9" stroke-linecap="round" opacity="0.85" filter="url(#fdSm2)"/>
<line x1="346" y1="297" x2="351" y2="300" stroke="#fff4e6" stroke-width="2.3" stroke-linecap="round" opacity="0.70" filter="url(#fdSm2)"/>
<line x1="365" y1="291" x2="370" y2="296" stroke="#fff4e6" stroke-width="2.9" stroke-linecap="round" opacity="0.90" filter="url(#fdSm2)"/>
<line x1="259" y1="307" x2="262" y2="313" stroke="#fff4e6" stroke-width="2.8" stroke-linecap="round" opacity="0.90" filter="url(#fdSm2)"/>
<line x1="266" y1="320" x2="273" y2="328" stroke="#fff4e6" stroke-width="3.0" stroke-linecap="round" opacity="0.90" filter="url(#fdSm2)"/>
<line x1="281" y1="338" x2="286" y2="343" stroke="#fff4e6" stroke-width="2.3" stroke-linecap="round" opacity="0.70" filter="url(#fdSm2)"/>
<line x1="307" y1="344" x2="312" y2="348" stroke="#fff4e6" stroke-width="2.3" stroke-linecap="round" opacity="0.75" filter="url(#fdSm2)"/>
<line x1="259" y1="349" x2="262" y2="354" stroke="#fff4e6" stroke-width="2.8" stroke-linecap="round" opacity="0.85" filter="url(#fdSm2)"/>
<line x1="349" y1="297" x2="355" y2="301" stroke="#fff4e6" stroke-width="2.8" stroke-linecap="round" opacity="0.85" filter="url(#fdSm2)"/>
<line x1="359" y1="300" x2="364" y2="304" stroke="#fff4e6" stroke-width="2.5" stroke-linecap="round" opacity="0.80" filter="url(#fdSm2)"/>
<line x1="365" y1="317" x2="370" y2="322" stroke="#fff4e6" stroke-width="2.8" stroke-linecap="round" opacity="0.85" filter="url(#fdSm2)"/>
<line x1="343" y1="324" x2="348" y2="329" stroke="#fff4e6" stroke-width="2.3" stroke-linecap="round" opacity="0.60" filter="url(#fdSm2)"/>
<line x1="363" y1="337" x2="369" y2="342" stroke="#fff4e6" stroke-width="2.9" stroke-linecap="round" opacity="0.90" filter="url(#fdSm2)"/>
<line x1="355" y1="349" x2="359" y2="353" stroke="#fff4e6" stroke-width="2.8" stroke-linecap="round" opacity="0.85" filter="url(#fdSm2)"/>
<line x1="367" y1="316" x2="373" y2="321" stroke="#fff4e6" stroke-width="3.0" stroke-linecap="round" opacity="0.90" filter="url(#fdSm2)"/>
<line x1="377" y1="320" x2="388" y2="327" stroke="#fff4e6" stroke-width="3.2" stroke-linecap="round" opacity="0.95" filter="url(#fdSm2)"/>
<line x1="370" y1="339" x2="380" y2="348" stroke="#fff4e6" stroke-width="3.2" stroke-linecap="round" opacity="0.95" filter="url(#fdSm2)"/>
<line x1="404" y1="355" x2="409" y2="360" stroke="#fff4e6" stroke-width="2.8" stroke-linecap="round" opacity="0.85" filter="url(#fdSm2)"/>
<line x1="415" y1="373" x2="420" y2="380" stroke="#fff4e6" stroke-width="2.8" stroke-linecap="round" opacity="0.90" filter="url(#fdSm2)"/>
<line x1="407" y1="390" x2="409" y2="402" stroke="#fff4e6" stroke-width="2.8" stroke-linecap="round" opacity="0.90" filter="url(#fdSm2)"/>
<line x1="384" y1="401" x2="389" y2="406" stroke="#fff4e6" stroke-width="2.3" stroke-linecap="round" opacity="0.60" filter="url(#fdSm2)"/>
<line x1="389" y1="360" x2="397" y2="366" stroke="#fff4e6" stroke-width="3.0" stroke-linecap="round" opacity="0.90" filter="url(#fdSm2)"/>
<line x1="355" y1="352" x2="361" y2="357" stroke="#fff4e6" stroke-width="3.4" stroke-linecap="round" opacity="0.95" filter="url(#fdSm2)"/>
<line x1="267" y1="352" x2="274" y2="366" stroke="#fff4e6" stroke-width="5.2" stroke-linecap="round" opacity="0.95" filter="url(#fdSm2)"/>
<line x1="273" y1="366" x2="279" y2="386" stroke="#fff4e6" stroke-width="4.0" stroke-linecap="round" opacity="0.85" filter="url(#fdSm2)"/>
<circle cx="392.5" cy="265" r="1.6" fill="#fff"/>
<circle cx="396.3" cy="297.2" r="1.6" fill="#fff"/></g><rect x="258.5" y="243.4" width="166" height="169.2" fill="#000" filter="url(#fgrain)" opacity="0.15"/></g>
 <line x1="258.4" y1="243.4" x2="258.4" y2="415" stroke="#4d5868" stroke-width="1"/>
 <line x1="255" y1="412.3" x2="258.4" y2="412.3" stroke="#4d5868" stroke-width="1"/>
 <polygon points="425.4,244 431.4,241.8 431.4,246.3" fill="#000"/>
 <rect x="435.7" y="243.2" width="8.5" height="82" fill="url(#cbar)" stroke="#8a8a8a" stroke-width="1"/><rect x="436.2" y="243.7" width="7.5" height="81" fill="url(#stripes)" opacity="0.35"/>
 <rect x="435.4" y="331.2" width="8.5" height="82" fill="#c6c6c6" stroke="#8a8a8a" stroke-width="1"/>
 <line x1="435.9" y1="357.3" x2="443.4" y2="357.3" stroke="#777" stroke-width="1"/>
 <line x1="435.9" y1="394.8" x2="443.4" y2="394.8" stroke="#d05060" stroke-width="1"/>
 <line x1="435.9" y1="398.5" x2="443.4" y2="398.5" stroke="#7090a0" stroke-width="0.8"/>
 <text transform="translate(452,306.3) rotate(-90)" class="rt">Line fit 33.7 °</text>
 <text transform="translate(451.8,393.8) rotate(-90)" class="rt">Phase range</text>
 <text transform="translate(253.6,268.8) rotate(-90)" class="ax">2.03µm</text>
 <text transform="translate(253.6,332) rotate(-90)" class="ax">Y*</text>
 <text transform="translate(253.6,411.2) rotate(-90)" class="ax">0 m</text>
 <text x="261.5" y="423.2" class="ax">0 m</text>
 <text x="337" y="423.2" class="ax">X*</text>
 <text x="424.2" y="423.2" class="ax" text-anchor="end">2.03µm</text>

 <!-- panel c -->
 <rect x="462.4" y="0" width="28" height="22.3" fill="#fde39b"/>
 <text x="472.3" y="20.4" style="font-size:15px">c</text>
 <rect x="462.6" y="22.6" width="199.9" height="198.8" fill="#fff" stroke="#888" stroke-width="1.1"/>
 <text x="494.3" y="35.9" class="tt" style="font-size:8.15px">Amplitude - Scan forward</text>
 <text x="591.4" y="35.9" class="tt" style="font-size:8.15px">Line fit</text>
 <rect x="475.8" y="39.6" width="157.4" height="167.4" fill="#fff" stroke="#222" stroke-width="1"/>
 <rect x="643.4" y="39.2" width="8.2" height="168" fill="url(#cbar)" stroke="#8a8a8a" stroke-width="1"/><rect x="643.9" y="39.7" width="7.199999999999999" height="167" fill="url(#stripes)" opacity="0.35"/>
 <text transform="translate(660,148.8) rotate(-90)" class="rt">Line fit 17.7mV</text>
 <g filter="url(#soft)"><polygon points="498,116.5 555,57 631,98 631,103 555,62 499,121" fill="url(#wallg)"/>
<clipPath id="clipc"><polygon points="499,121 555,62 631,103 629,110 579,190.6 502,133"/></clipPath>
<clipPath id="clipcb"><polygon points="498,116.5 499,121 555,62 631,103 629,110 579,190.6 502,133"/></clipPath>
<polygon points="499,121 555,62 631,103 629,110 579,190.6 502,133" fill="#e6dcd2"/>
<g clip-path="url(#clipc)"><rect x="470" y="44" width="170" height="180" fill="#fff" filter="url(#texc)" opacity="0.85"/></g>
<path d="M556.7 65.7L557.9 63.1L559.2 65.7Z" fill="url(#gc5)"/>
<path d="M556.9 66.2L558.2 64.6L558.3 66.2Z" fill="url(#gc1)"/>
<path d="M557.2 66.7L558.1 64.2L559.5 66.7Z" fill="url(#gc4)"/>
<path d="M555.5 67.0L557.6 65.8L557.3 67.0Z" fill="url(#gc2)"/>
<path d="M553.7 68.0L554.5 64.1L555.5 68.0Z" fill="url(#gc2)"/>
<path d="M557.7 68.2L559.4 63.2L559.3 68.2Z" fill="url(#gc1)"/>
<path d="M553.6 68.2L554.8 65.5L554.9 68.2Z" fill="url(#gc2)"/>
<path d="M552.4 69.0L554.8 66.5L554.9 69.0Z" fill="url(#gc1)"/>
<path d="M553.4 69.2L555.3 66.6L555.4 69.2Z" fill="url(#gc2)"/>
<path d="M559.0 69.4L560.7 67.6L561.2 69.4Z" fill="url(#gc1)"/>
<path d="M551.7 69.5L553.3 65.4L553.6 69.5Z" fill="url(#gc1)"/>
<path d="M555.2 69.8L556.6 67.6L557.7 69.8Z" fill="url(#gc2)"/>
<path d="M561.5 69.9L563.3 67.2L563.6 69.9Z" fill="url(#gc1)"/>
<path d="M550.0 70.2L552.0 66.1L551.8 70.2Z" fill="url(#gc3)"/>
<path d="M556.5 70.3L558.6 69.2L558.3 70.3Z" fill="url(#gc3)"/>
<path d="M551.3 70.6L552.1 67.1L553.5 70.6Z" fill="url(#gc2)"/>
<path d="M565.6 71.1L566.6 68.3L567.1 71.1Z" fill="url(#gc2)"/>
<path d="M556.7 71.7L558.4 67.6L559.0 71.7Z" fill="url(#gc2)"/>
<path d="M554.8 71.9L557.4 68.3L557.3 71.9Z" fill="url(#gc5)"/>
<path d="M550.8 72.0L552.3 69.8L553.4 72.0Z" fill="url(#gc3)"/>
<path d="M568.0 72.1L568.9 69.3L569.7 72.1Z" fill="url(#gc1)"/>
<path d="M554.2 72.2L555.8 65.6L556.5 72.2Z" fill="url(#gc1)"/>
<path d="M550.0 72.2L551.1 70.0L551.4 72.2Z" fill="url(#gc3)"/>
<path d="M558.0 72.3L558.9 68.7L559.3 72.3Z" fill="url(#gc2)"/>
<path d="M554.1 72.4L556.1 69.5L555.8 72.4Z" fill="url(#gc1)"/>
<path d="M569.5 72.9L570.2 67.3L571.5 72.9Z" fill="url(#gc2)"/>
<path d="M558.9 73.0L560.5 69.7L560.9 73.0Z" fill="url(#gc3)"/>
<path d="M552.7 73.1L554.3 70.6L554.9 73.1Z" fill="url(#gc1)"/>
<path d="M565.0 73.4L566.0 71.4L566.7 73.4Z" fill="url(#gc4)"/>
<path d="M567.7 73.5L569.6 69.3L570.0 73.5Z" fill="url(#gc1)"/>
<path d="M556.3 73.5L558.5 72.0L558.5 73.5Z" fill="url(#gc3)"/>
<path d="M566.0 73.8L567.7 72.4L568.6 73.8Z" fill="url(#gc1)"/>
<path d="M549.9 73.8L552.2 68.4L551.9 73.8Z" fill="url(#gc1)"/>
<path d="M564.4 73.9L566.7 72.1L566.9 73.9Z" fill="url(#gc1)"/>
<path d="M563.8 74.2L564.3 70.5L565.2 74.2Z" fill="url(#gc2)"/>
<path d="M555.8 74.2L556.7 72.1L557.4 74.2Z" fill="url(#gc5)"/>
<path d="M555.3 74.4L557.2 72.6L556.7 74.4Z" fill="url(#gc1)"/>
<path d="M548.3 75.0L548.8 69.4L549.8 75.0Z" fill="url(#gc1)"/>
<path d="M574.3 75.1L576.5 70.2L577.1 75.1Z" fill="url(#gc1)"/>
<path d="M560.8 75.1L562.3 72.5L562.9 75.1Z" fill="url(#gc3)"/>
<path d="M569.6 75.3L570.9 72.4L571.9 75.3Z" fill="url(#gc2)"/>
<path d="M555.6 75.6L556.8 71.1L558.3 75.6Z" fill="url(#gc5)"/>
<path d="M551.5 75.8L553.5 71.1L553.4 75.8Z" fill="url(#gc1)"/>
<path d="M551.3 76.0L553.6 74.2L554.1 76.0Z" fill="url(#gc5)"/>
<path d="M553.0 76.0L555.0 71.9L554.6 76.0Z" fill="url(#gc5)"/>
<path d="M553.2 76.1L553.9 71.8L554.8 76.1Z" fill="url(#gc1)"/>
<path d="M573.3 76.1L574.4 70.0L576.0 76.1Z" fill="url(#gc2)"/>
<path d="M573.5 76.1L574.7 69.2L576.2 76.1Z" fill="url(#gc2)"/>
<path d="M554.7 76.4L555.9 73.9L557.5 76.4Z" fill="url(#gc4)"/>
<path d="M566.3 76.4L568.7 73.7L568.7 76.4Z" fill="url(#gc4)"/>
<path d="M569.8 76.4L571.1 70.1L571.5 76.4Z" fill="url(#gc1)"/>
<path d="M550.8 76.6L551.6 72.4L552.3 76.6Z" fill="url(#gc1)"/>
<path d="M548.5 76.6L550.0 72.5L550.7 76.6Z" fill="url(#gc1)"/>
<path d="M553.7 76.7L554.8 73.0L555.1 76.7Z" fill="url(#gc1)"/>
<path d="M551.4 76.7L552.9 74.3L553.3 76.7Z" fill="url(#gc4)"/>
<path d="M566.2 76.8L568.6 74.8L568.9 76.8Z" fill="url(#gc5)"/>
<path d="M569.0 76.9L570.3 73.1L571.2 76.9Z" fill="url(#gc5)"/>
<path d="M553.3 77.2L555.6 71.5L555.8 77.2Z" fill="url(#gc3)"/>
<path d="M554.2 77.4L556.1 74.7L555.8 77.4Z" fill="url(#gc5)"/>
<path d="M553.1 77.4L555.3 74.0L555.0 77.4Z" fill="url(#gc2)"/>
<path d="M565.8 77.4L567.7 74.4L567.5 77.4Z" fill="url(#gc2)"/>
<path d="M545.7 77.6L547.5 74.3L548.0 77.6Z" fill="url(#gc1)"/>
<path d="M546.1 77.8L548.6 72.7L548.7 77.8Z" fill="url(#gc3)"/>
<path d="M553.4 78.0L554.5 74.3L555.1 78.0Z" fill="url(#gc3)"/>
<path d="M578.4 78.0L579.8 70.0L579.9 78.0Z" fill="url(#gc2)"/>
<path d="M545.1 78.1L546.5 71.9L547.4 78.1Z" fill="url(#gc1)"/>
<path d="M576.3 78.1L577.7 74.8L579.0 78.1Z" fill="url(#gc5)"/>
<path d="M549.2 78.3L549.9 73.8L551.0 78.3Z" fill="url(#gc3)"/>
<path d="M545.8 78.5L546.8 75.1L548.1 78.5Z" fill="url(#gc1)"/>
<path d="M551.6 78.5L552.3 76.9L553.0 78.5Z" fill="url(#gc2)"/>
<path d="M572.0 78.5L574.6 75.1L574.7 78.5Z" fill="url(#gc1)"/>
<path d="M542.4 78.6L543.6 74.8L544.7 78.6Z" fill="url(#gc1)"/>
<path d="M562.1 78.7L563.2 76.5L564.4 78.7Z" fill="url(#gc1)"/>
<path d="M579.6 78.9L581.2 73.4L582.0 78.9Z" fill="url(#gc1)"/>
<path d="M582.3 79.1L583.8 73.3L583.8 79.1Z" fill="url(#gc1)"/>
<path d="M546.9 79.3L548.6 76.5L548.7 79.3Z" fill="url(#gc1)"/>
<path d="M569.3 79.3L570.9 77.6L571.2 79.3Z" fill="url(#gc1)"/>
<path d="M556.2 79.3L557.2 75.9L558.1 79.3Z" fill="url(#gc3)"/>
<path d="M564.2 79.3L565.7 76.6L565.7 79.3Z" fill="url(#gc5)"/>
<path d="M578.0 79.5L579.0 72.2L579.4 79.5Z" fill="url(#gc1)"/>
<path d="M573.1 79.7L575.6 76.9L575.6 79.7Z" fill="url(#gc2)"/>
<path d="M559.1 79.9L560.3 75.0L561.9 79.9Z" fill="url(#gc4)"/>
<path d="M579.1 80.0L581.1 72.5L581.9 80.0Z" fill="url(#gc5)"/>
<path d="M582.9 80.0L584.0 76.1L585.3 80.0Z" fill="url(#gc5)"/>
<path d="M559.0 80.1L561.5 77.0L561.4 80.1Z" fill="url(#gc1)"/>
<path d="M575.1 80.2L576.5 76.3L576.5 80.2Z" fill="url(#gc5)"/>
<path d="M562.5 80.2L563.5 77.0L564.4 80.2Z" fill="url(#gc2)"/>
<path d="M578.4 80.3L579.7 75.8L579.9 80.3Z" fill="url(#gc1)"/>
<path d="M569.1 80.3L570.4 77.5L570.7 80.3Z" fill="url(#gc2)"/>
<path d="M556.8 80.4L558.7 77.4L558.3 80.4Z" fill="url(#gc3)"/>
<path d="M551.8 80.4L554.1 78.5L554.4 80.4Z" fill="url(#gc3)"/>
<path d="M565.2 80.5L566.8 76.4L567.2 80.5Z" fill="url(#gc1)"/>
<path d="M569.1 80.5L570.0 74.0L571.1 80.5Z" fill="url(#gc1)"/>
<path d="M542.2 80.7L544.1 77.6L543.8 80.7Z" fill="url(#gc1)"/>
<path d="M542.7 80.7L544.4 75.8L545.4 80.7Z" fill="url(#gc5)"/>
<path d="M574.8 80.8L576.7 77.6L577.5 80.8Z" fill="url(#gc1)"/>
<path d="M565.2 80.9L566.8 79.1L567.6 80.9Z" fill="url(#gc1)"/>
<path d="M568.9 81.0L570.4 78.9L570.7 81.0Z" fill="url(#gc1)"/>
<path d="M550.3 81.0L551.2 79.5L551.7 81.0Z" fill="url(#gc1)"/>
<path d="M559.3 81.1L560.4 78.3L561.3 81.1Z" fill="url(#gc1)"/>
<path d="M565.7 81.1L568.2 76.9L568.5 81.1Z" fill="url(#gc4)"/>
<path d="M542.4 81.3L543.0 77.0L543.9 81.3Z" fill="url(#gc1)"/>
<path d="M554.0 81.3L555.4 79.7L556.4 81.3Z" fill="url(#gc2)"/>
<path d="M561.9 81.4L563.7 78.2L563.7 81.4Z" fill="url(#gc1)"/>
<path d="M567.1 81.4L568.2 74.6L568.7 81.4Z" fill="url(#gc3)"/>
<path d="M573.0 81.7L574.8 78.9L575.6 81.7Z" fill="url(#gc5)"/>
<path d="M583.8 81.8L585.5 74.6L586.0 81.8Z" fill="url(#gc3)"/>
<path d="M553.5 81.9L555.7 80.6L555.4 81.9Z" fill="url(#gc4)"/>
<path d="M566.0 82.0L567.4 77.9L567.8 82.0Z" fill="url(#gc1)"/>
<path d="M550.6 82.1L553.0 79.0L553.4 82.1Z" fill="url(#gc3)"/>
<path d="M557.6 82.2L558.6 76.1L560.1 82.2Z" fill="url(#gc5)"/>
<path d="M553.1 82.3L555.4 78.3L555.7 82.3Z" fill="url(#gc1)"/>
<path d="M545.7 82.5L547.5 80.1L547.0 82.5Z" fill="url(#gc1)"/>
<path d="M564.7 82.5L566.0 78.1L566.1 82.5Z" fill="url(#gc2)"/>
<path d="M539.0 82.6L540.1 78.7L541.6 82.6Z" fill="url(#gc1)"/>
<path d="M578.0 82.8L580.0 75.6L580.7 82.8Z" fill="url(#gc2)"/>
<path d="M553.9 83.1L555.3 82.0L556.5 83.1Z" fill="url(#gc1)"/>
<path d="M553.6 83.2L555.4 82.0L555.8 83.2Z" fill="url(#gc2)"/>
<path d="M543.8 83.3L544.8 77.9L546.0 83.3Z" fill="url(#gc3)"/>
<path d="M542.3 83.6L543.8 81.0L544.5 83.6Z" fill="url(#gc4)"/>
<path d="M542.2 83.6L543.1 79.0L544.1 83.6Z" fill="url(#gc5)"/>
<path d="M565.7 83.6L568.0 79.8L568.3 83.6Z" fill="url(#gc1)"/>
<path d="M578.9 83.6L579.8 81.2L580.5 83.6Z" fill="url(#gc5)"/>
<path d="M572.2 83.6L573.7 79.8L573.8 83.6Z" fill="url(#gc2)"/>
<path d="M566.7 83.7L568.3 78.9L568.5 83.7Z" fill="url(#gc3)"/>
<path d="M566.2 83.8L568.5 78.3L568.2 83.8Z" fill="url(#gc5)"/>
<path d="M545.2 83.8L546.3 82.6L547.6 83.8Z" fill="url(#gc1)"/>
<path d="M571.3 83.9L572.8 76.2L573.9 83.9Z" fill="url(#gc2)"/>
<path d="M540.3 84.2L542.1 81.3L542.8 84.2Z" fill="url(#gc1)"/>
<path d="M548.5 84.3L550.7 80.1L550.4 84.3Z" fill="url(#gc1)"/>
<path d="M564.0 84.4L566.3 76.5L566.2 84.4Z" fill="url(#gc5)"/>
<path d="M583.7 84.4L585.7 80.5L585.7 84.4Z" fill="url(#gc2)"/>
<path d="M545.6 84.6L546.3 79.4L547.5 84.6Z" fill="url(#gc2)"/>
<path d="M582.8 84.7L584.7 77.4L584.7 84.7Z" fill="url(#gc3)"/>
<path d="M558.4 84.8L560.4 82.9L560.9 84.8Z" fill="url(#gc1)"/>
<path d="M581.6 84.8L582.5 79.8L583.2 84.8Z" fill="url(#gc4)"/>
<path d="M561.0 84.8L563.4 82.2L563.7 84.8Z" fill="url(#gc1)"/>
<path d="M557.0 84.8L557.8 83.2L558.7 84.8Z" fill="url(#gc5)"/>
<path d="M569.0 84.8L569.9 79.4L570.3 84.8Z" fill="url(#gc2)"/>
<path d="M536.5 84.9L538.9 81.6L539.2 84.9Z" fill="url(#gc5)"/>
<path d="M582.9 84.9L584.8 75.6L585.5 84.9Z" fill="url(#gc1)"/>
<path d="M576.5 85.0L577.8 80.5L578.6 85.0Z" fill="url(#gc2)"/>
<path d="M538.4 85.0L539.7 81.9L541.1 85.0Z" fill="url(#gc4)"/>
<path d="M543.0 85.2L545.2 82.9L545.7 85.2Z" fill="url(#gc1)"/>
<path d="M566.8 85.3L568.1 76.1L568.5 85.3Z" fill="url(#gc2)"/>
<path d="M574.4 85.4L575.9 80.8L576.9 85.4Z" fill="url(#gc1)"/>
<path d="M561.2 85.4L563.7 81.1L563.9 85.4Z" fill="url(#gc2)"/>
<path d="M586.6 85.5L588.2 81.3L588.1 85.5Z" fill="url(#gc5)"/>
<path d="M579.8 85.5L581.7 74.6L582.1 85.5Z" fill="url(#gc2)"/>
<path d="M575.8 85.8L578.0 81.9L577.7 85.8Z" fill="url(#gc2)"/>
<path d="M570.4 85.9L572.3 80.6L572.3 85.9Z" fill="url(#gc4)"/>
<path d="M569.6 86.0L571.2 78.9L571.6 86.0Z" fill="url(#gc4)"/>
<path d="M587.5 86.1L588.9 84.5L589.5 86.1Z" fill="url(#gc2)"/>
<path d="M537.3 86.1L539.6 82.0L539.9 86.1Z" fill="url(#gc5)"/>
<path d="M553.4 86.3L555.3 85.1L554.8 86.3Z" fill="url(#gc1)"/>
<path d="M548.1 86.4L549.4 81.0L549.9 86.4Z" fill="url(#gc1)"/>
<path d="M561.0 86.4L561.6 84.0L562.7 86.4Z" fill="url(#gc1)"/>
<path d="M580.5 86.4L582.5 77.0L582.5 86.4Z" fill="url(#gc2)"/>
<path d="M574.7 86.5L575.7 83.6L576.8 86.5Z" fill="url(#gc1)"/>
<path d="M541.6 86.5L543.5 84.7L543.4 86.5Z" fill="url(#gc4)"/>
<path d="M576.3 86.8L578.6 82.5L578.9 86.8Z" fill="url(#gc5)"/>
<path d="M586.9 87.0L588.0 83.0L588.9 87.0Z" fill="url(#gc1)"/>
<path d="M581.7 87.1L583.9 80.5L584.4 87.1Z" fill="url(#gc1)"/>
<path d="M536.8 87.1L538.5 83.8L539.5 87.1Z" fill="url(#gc5)"/>
<path d="M569.0 87.2L571.1 83.7L571.2 87.2Z" fill="url(#gc5)"/>
<path d="M536.3 87.3L538.5 82.2L539.0 87.3Z" fill="url(#gc1)"/>
<path d="M564.1 87.4L566.0 83.8L565.7 87.4Z" fill="url(#gc1)"/>
<path d="M563.3 87.4L564.7 83.9L564.6 87.4Z" fill="url(#gc3)"/>
<path d="M550.1 87.5L551.6 83.5L552.6 87.5Z" fill="url(#gc2)"/>
<path d="M568.0 87.5L570.4 78.8L570.7 87.5Z" fill="url(#gc3)"/>
<path d="M567.9 87.5L569.5 79.1L569.3 87.5Z" fill="url(#gc1)"/>
<path d="M593.8 87.6L595.4 84.2L595.8 87.6Z" fill="url(#gc3)"/>
<path d="M582.4 87.7L583.7 79.3L584.3 87.7Z" fill="url(#gc2)"/>
<path d="M591.3 87.8L593.1 85.7L592.6 87.8Z" fill="url(#gc1)"/>
<path d="M554.5 87.8L555.4 83.9L556.4 87.8Z" fill="url(#gc1)"/>
<path d="M556.8 87.8L558.7 82.8L558.5 87.8Z" fill="url(#gc3)"/>
<path d="M585.7 88.0L586.9 81.5L587.6 88.0Z" fill="url(#gc1)"/>
<path d="M568.6 88.0L570.7 84.3L570.2 88.0Z" fill="url(#gc5)"/>
<path d="M534.4 88.3L535.9 83.3L536.5 88.3Z" fill="url(#gc3)"/>
<path d="M574.3 88.3L576.5 83.9L576.6 88.3Z" fill="url(#gc2)"/>
<path d="M580.9 88.3L582.4 84.0L582.8 88.3Z" fill="url(#gc5)"/>
<path d="M593.8 88.4L595.9 83.4L596.0 88.4Z" fill="url(#gc3)"/>
<path d="M575.4 88.5L577.0 81.1L577.8 88.5Z" fill="url(#gc5)"/>
<path d="M564.5 88.5L567.0 85.8L566.9 88.5Z" fill="url(#gc1)"/>
<path d="M544.2 88.5L546.4 86.1L547.0 88.5Z" fill="url(#gc2)"/>
<path d="M581.0 88.5L581.6 84.4L582.4 88.5Z" fill="url(#gc3)"/>
<path d="M553.6 88.5L555.3 83.4L556.0 88.5Z" fill="url(#gc1)"/>
<path d="M573.0 88.5L574.6 81.4L575.0 88.5Z" fill="url(#gc5)"/>
<path d="M555.6 88.8L556.7 84.2L557.5 88.8Z" fill="url(#gc5)"/>
<path d="M546.4 88.9L548.6 87.0L548.8 88.9Z" fill="url(#gc2)"/>
<path d="M576.6 88.9L578.2 84.8L579.1 88.9Z" fill="url(#gc1)"/>
<path d="M550.1 89.0L551.6 87.8L552.8 89.0Z" fill="url(#gc5)"/>
<path d="M538.9 89.1L540.4 86.4L541.1 89.1Z" fill="url(#gc1)"/>
<path d="M576.6 89.1L578.2 84.1L578.1 89.1Z" fill="url(#gc1)"/>
<path d="M558.0 89.1L559.5 87.3L559.5 89.1Z" fill="url(#gc2)"/>
<path d="M574.4 89.2L576.4 80.1L576.6 89.2Z" fill="url(#gc1)"/>
<path d="M595.9 89.3L597.0 86.9L597.8 89.3Z" fill="url(#gc5)"/>
<path d="M580.1 89.4L582.4 83.4L582.3 89.4Z" fill="url(#gc2)"/>
<path d="M600.0 89.5L601.1 86.2L602.4 89.5Z" fill="url(#gc1)"/>
<path d="M565.6 89.6L566.6 87.4L567.0 89.6Z" fill="url(#gc1)"/>
<path d="M569.4 89.7L569.9 84.2L571.0 89.7Z" fill="url(#gc2)"/>
<path d="M592.9 89.7L593.9 86.0L595.4 89.7Z" fill="url(#gc1)"/>
<path d="M559.6 89.8L560.8 85.7L561.6 89.8Z" fill="url(#gc2)"/>
<path d="M542.7 89.8L544.4 87.9L544.8 89.8Z" fill="url(#gc2)"/>
<path d="M567.6 89.8L569.8 81.8L570.3 89.8Z" fill="url(#gc1)"/>
<path d="M563.9 89.9L564.7 83.2L565.9 89.9Z" fill="url(#gc3)"/>
<path d="M543.0 89.9L545.1 85.9L544.8 89.9Z" fill="url(#gc2)"/>
<path d="M560.9 89.9L563.0 86.6L562.7 89.9Z" fill="url(#gc5)"/>
<path d="M582.6 89.9L584.8 85.5L585.0 89.9Z" fill="url(#gc1)"/>
<path d="M532.8 90.0L534.6 88.0L534.7 90.0Z" fill="url(#gc2)"/>
<path d="M558.2 90.0L560.3 84.7L560.5 90.0Z" fill="url(#gc3)"/>
<path d="M533.2 90.0L533.9 84.1L534.6 90.0Z" fill="url(#gc2)"/>
<path d="M583.0 90.0L584.1 85.5L585.6 90.0Z" fill="url(#gc5)"/>
<path d="M567.0 90.2L568.9 83.7L568.6 90.2Z" fill="url(#gc1)"/>
<path d="M565.7 90.2L567.0 86.2L567.4 90.2Z" fill="url(#gc1)"/>
<path d="M600.3 90.3L602.0 88.2L601.7 90.3Z" fill="url(#gc5)"/>
<path d="M575.2 90.3L577.4 87.5L577.8 90.3Z" fill="url(#gc3)"/>
<path d="M537.5 90.5L538.8 86.8L538.8 90.5Z" fill="url(#gc1)"/>
<path d="M583.8 90.5L584.6 83.9L585.6 90.5Z" fill="url(#gc5)"/>
<path d="M556.1 90.6L557.4 86.3L557.7 90.6Z" fill="url(#gc2)"/>
<path d="M559.2 90.7L561.5 86.5L561.4 90.7Z" fill="url(#gc1)"/>
<path d="M559.2 90.8L560.2 87.7L561.6 90.8Z" fill="url(#gc5)"/>
<path d="M572.7 90.9L574.1 84.7L574.6 90.9Z" fill="url(#gc2)"/>
<path d="M550.4 91.0L552.6 85.8L552.7 91.0Z" fill="url(#gc1)"/>
<path d="M569.0 91.1L570.0 83.8L570.8 91.1Z" fill="url(#gc2)"/>
<path d="M579.6 91.1L580.2 82.8L581.0 91.1Z" fill="url(#gc1)"/>
<path d="M549.9 91.1L552.4 87.0L552.3 91.1Z" fill="url(#gc3)"/>
<path d="M533.4 91.2L534.3 87.2L535.6 91.2Z" fill="url(#gc2)"/>
<path d="M552.1 91.3L553.9 88.1L553.7 91.3Z" fill="url(#gc5)"/>
<path d="M600.2 91.3L601.8 88.2L601.8 91.3Z" fill="url(#gc2)"/>
<path d="M577.7 91.4L579.8 87.6L579.9 91.4Z" fill="url(#gc1)"/>
<path d="M600.9 91.4L602.2 90.6L603.5 91.4Z" fill="url(#gc5)"/>
<path d="M554.9 91.5L556.4 85.9L557.5 91.5Z" fill="url(#gc2)"/>
<path d="M584.5 91.5L585.2 87.2L586.2 91.5Z" fill="url(#gc1)"/>
<path d="M531.5 91.5L532.6 88.0L534.2 91.5Z" fill="url(#gc1)"/>
<path d="M594.2 91.5L595.4 87.7L596.5 91.5Z" fill="url(#gc2)"/>
<path d="M577.3 91.6L579.7 80.4L579.8 91.6Z" fill="url(#gc2)"/>
<path d="M560.9 91.6L562.1 83.4L563.4 91.6Z" fill="url(#gc4)"/>
<path d="M555.6 91.6L557.4 88.2L557.7 91.6Z" fill="url(#gc1)"/>
<path d="M600.9 91.8L602.4 89.3L603.0 91.8Z" fill="url(#gc1)"/>
<path d="M543.8 91.8L545.7 88.4L546.2 91.8Z" fill="url(#gc1)"/>
<path d="M545.1 91.9L546.8 90.3L547.5 91.9Z" fill="url(#gc2)"/>
<path d="M576.8 91.9L578.2 86.0L578.9 91.9Z" fill="url(#gc3)"/>
<path d="M533.9 92.3L535.2 89.6L536.0 92.3Z" fill="url(#gc1)"/>
<path d="M535.6 92.3L536.5 90.9L537.4 92.3Z" fill="url(#gc1)"/>
<path d="M569.5 92.4L570.8 87.4L571.3 92.4Z" fill="url(#gc1)"/>
<path d="M580.0 92.4L581.8 86.6L581.5 92.4Z" fill="url(#gc1)"/>
<path d="M548.0 92.4L550.0 91.2L549.4 92.4Z" fill="url(#gc4)"/>
<path d="M549.0 92.5L549.4 91.5L550.3 92.5Z" fill="url(#gc5)"/>
<path d="M573.4 92.5L575.4 86.9L575.2 92.5Z" fill="url(#gc3)"/>
<path d="M553.1 92.6L555.1 89.6L555.2 92.6Z" fill="url(#gc5)"/>
<path d="M574.4 92.6L575.9 89.6L576.2 92.6Z" fill="url(#gc5)"/>
<path d="M601.5 92.7L602.8 90.1L603.3 92.7Z" fill="url(#gc1)"/>
<path d="M577.8 92.7L579.4 86.8L579.6 92.7Z" fill="url(#gc3)"/>
<path d="M587.2 92.8L588.4 88.2L589.9 92.8Z" fill="url(#gc3)"/>
<path d="M597.4 92.9L599.1 90.9L598.8 92.9Z" fill="url(#gc1)"/>
<path d="M606.9 93.0L608.1 90.0L608.6 93.0Z" fill="url(#gc3)"/>
<path d="M566.9 93.0L567.7 83.7L568.5 93.0Z" fill="url(#gc2)"/>
<path d="M539.1 93.0L540.7 91.2L540.5 93.0Z" fill="url(#gc3)"/>
<path d="M585.4 93.1L587.0 85.6L588.2 93.1Z" fill="url(#gc1)"/>
<path d="M572.3 93.2L574.0 89.1L573.9 93.2Z" fill="url(#gc2)"/>
<path d="M571.0 93.3L573.1 88.8L572.9 93.3Z" fill="url(#gc1)"/>
<path d="M538.4 93.3L540.1 92.1L539.9 93.3Z" fill="url(#gc5)"/>
<path d="M598.9 93.5L600.5 89.8L601.5 93.5Z" fill="url(#gc3)"/>
<path d="M537.3 93.5L537.7 90.1L538.6 93.5Z" fill="url(#gc5)"/>
<path d="M597.4 93.6L598.8 89.5L598.9 93.6Z" fill="url(#gc1)"/>
<path d="M591.3 93.7L592.2 92.3L593.0 93.7Z" fill="url(#gc1)"/>
<path d="M546.9 93.8L548.9 92.8L549.1 93.8Z" fill="url(#gc1)"/>
<path d="M552.9 94.0L554.3 90.8L554.4 94.0Z" fill="url(#gc5)"/>
<path d="M544.7 94.1L546.3 90.7L546.2 94.1Z" fill="url(#gc1)"/>
<path d="M584.6 94.1L585.7 88.8L586.2 94.1Z" fill="url(#gc3)"/>
<path d="M555.0 94.1L556.3 90.7L557.1 94.1Z" fill="url(#gc1)"/>
<path d="M559.6 94.2L560.9 88.7L562.4 94.2Z" fill="url(#gc1)"/>
<path d="M591.9 94.2L593.8 91.5L593.9 94.2Z" fill="url(#gc5)"/>
<path d="M589.6 94.3L590.5 91.8L591.0 94.3Z" fill="url(#gc2)"/>
<path d="M546.0 94.3L547.9 90.6L548.6 94.3Z" fill="url(#gc1)"/>
<path d="M562.9 94.4L564.8 89.8L565.0 94.4Z" fill="url(#gc1)"/>
<path d="M560.7 94.4L562.5 91.5L563.5 94.4Z" fill="url(#gc1)"/>
<path d="M555.1 94.5L557.1 91.1L557.9 94.5Z" fill="url(#gc2)"/>
<path d="M557.1 94.5L558.1 89.0L558.8 94.5Z" fill="url(#gc1)"/>
<path d="M543.7 94.7L545.8 91.0L546.2 94.7Z" fill="url(#gc4)"/>
<path d="M589.4 94.7L590.9 92.0L591.4 94.7Z" fill="url(#gc2)"/>
<path d="M571.2 94.8L573.5 92.2L573.2 94.8Z" fill="url(#gc1)"/>
<path d="M578.8 94.8L580.2 90.6L580.6 94.8Z" fill="url(#gc1)"/>
<path d="M606.9 94.8L607.4 90.3L608.4 94.8Z" fill="url(#gc1)"/>
<path d="M533.4 94.8L535.1 91.4L535.6 94.8Z" fill="url(#gc4)"/>
<path d="M602.5 94.9L604.8 93.8L605.1 94.9Z" fill="url(#gc1)"/>
<path d="M583.0 94.9L584.0 86.0L584.4 94.9Z" fill="url(#gc1)"/>
<path d="M537.4 94.9L539.6 91.4L539.9 94.9Z" fill="url(#gc5)"/>
<path d="M560.3 94.9L562.4 86.3L562.8 94.9Z" fill="url(#gc2)"/>
<path d="M532.5 95.0L534.1 89.7L535.1 95.0Z" fill="url(#gc5)"/>
<path d="M598.4 95.0L600.7 93.8L601.0 95.0Z" fill="url(#gc1)"/>
<path d="M541.3 95.0L543.8 93.0L544.1 95.0Z" fill="url(#gc2)"/>
<path d="M587.3 95.1L588.8 90.2L590.1 95.1Z" fill="url(#gc3)"/>
<path d="M530.0 95.1L531.9 92.2L532.6 95.1Z" fill="url(#gc1)"/>
<path d="M540.5 95.1L541.4 93.1L541.8 95.1Z" fill="url(#gc2)"/>
<path d="M577.5 95.1L578.7 92.7L579.2 95.1Z" fill="url(#gc3)"/>
<path d="M561.7 95.1L562.3 85.8L563.3 95.1Z" fill="url(#gc5)"/>
<path d="M582.0 95.2L583.6 84.3L584.5 95.2Z" fill="url(#gc1)"/>
<path d="M569.6 95.2L571.5 91.0L571.1 95.2Z" fill="url(#gc1)"/>
<path d="M537.4 95.3L539.8 94.4L539.7 95.3Z" fill="url(#gc3)"/>
<path d="M603.9 95.4L606.0 92.9L606.0 95.4Z" fill="url(#gc1)"/>
<path d="M551.4 95.4L553.7 92.0L553.9 95.4Z" fill="url(#gc5)"/>
<path d="M535.4 95.4L536.2 92.6L537.2 95.4Z" fill="url(#gc4)"/>
<path d="M541.6 95.6L542.8 92.8L544.3 95.6Z" fill="url(#gc5)"/>
<path d="M602.6 95.6L603.8 93.1L605.2 95.6Z" fill="url(#gc1)"/>
<path d="M576.4 95.6L578.5 88.0L578.1 95.6Z" fill="url(#gc1)"/>
<path d="M568.3 95.8L570.8 90.9L570.9 95.8Z" fill="url(#gc3)"/>
<path d="M551.9 95.8L553.5 92.2L554.4 95.8Z" fill="url(#gc1)"/>
<path d="M561.8 95.8L563.9 93.0L563.5 95.8Z" fill="url(#gc5)"/>
<path d="M593.6 95.8L595.6 92.5L595.5 95.8Z" fill="url(#gc4)"/>
<path d="M528.3 95.9L530.4 90.8L530.6 95.9Z" fill="url(#gc5)"/>
<path d="M582.2 95.9L584.4 89.9L584.7 95.9Z" fill="url(#gc5)"/>
<path d="M601.3 96.2L602.0 95.1L602.7 96.2Z" fill="url(#gc1)"/>
<path d="M557.7 96.2L559.0 93.1L560.1 96.2Z" fill="url(#gc1)"/>
<path d="M552.9 96.2L555.4 93.5L555.6 96.2Z" fill="url(#gc5)"/>
<path d="M587.7 96.3L588.8 91.2L589.7 96.3Z" fill="url(#gc2)"/>
<path d="M564.1 96.3L564.7 92.5L565.7 96.3Z" fill="url(#gc1)"/>
<path d="M559.8 96.3L560.7 94.3L561.4 96.3Z" fill="url(#gc1)"/>
<path d="M581.1 96.3L582.2 89.7L583.0 96.3Z" fill="url(#gc5)"/>
<path d="M561.8 96.4L563.6 87.9L564.1 96.4Z" fill="url(#gc2)"/>
<path d="M542.5 96.5L544.4 94.1L544.6 96.5Z" fill="url(#gc5)"/>
<path d="M613.7 96.7L615.3 89.3L616.0 96.7Z" fill="url(#gc1)"/>
<path d="M569.8 96.7L570.8 94.0L571.6 96.7Z" fill="url(#gc1)"/>
<path d="M530.6 96.8L532.6 94.4L533.3 96.8Z" fill="url(#gc4)"/>
<path d="M600.2 96.8L602.2 94.8L602.8 96.8Z" fill="url(#gc1)"/>
<path d="M568.9 96.9L570.7 92.6L571.2 96.9Z" fill="url(#gc1)"/>
<path d="M574.6 96.9L576.7 89.8L576.4 96.9Z" fill="url(#gc5)"/>
<path d="M577.9 97.0L578.9 92.8L579.8 97.0Z" fill="url(#gc2)"/>
<path d="M543.1 97.1L545.8 93.5L545.9 97.1Z" fill="url(#gc3)"/>
<path d="M606.2 97.2L607.2 94.7L607.7 97.2Z" fill="url(#gc1)"/>
<path d="M583.6 97.3L584.9 94.0L585.8 97.3Z" fill="url(#gc1)"/>
<path d="M546.6 97.4L548.3 92.8L548.8 97.4Z" fill="url(#gc4)"/>
<path d="M603.5 97.5L604.3 95.7L605.0 97.5Z" fill="url(#gc1)"/>
<path d="M601.5 97.5L603.5 94.1L604.0 97.5Z" fill="url(#gc1)"/>
<path d="M578.6 97.5L579.4 86.7L580.0 97.5Z" fill="url(#gc1)"/>
<path d="M545.7 97.6L547.6 95.1L547.6 97.6Z" fill="url(#gc2)"/>
<path d="M574.3 97.7L575.5 88.1L575.9 97.7Z" fill="url(#gc5)"/>
<path d="M583.9 97.8L585.2 95.8L586.4 97.8Z" fill="url(#gc4)"/>
<path d="M574.7 97.8L575.8 89.8L576.3 97.8Z" fill="url(#gc1)"/>
<path d="M545.6 97.8L547.6 94.5L548.1 97.8Z" fill="url(#gc2)"/>
<path d="M612.4 97.9L613.1 96.1L613.7 97.9Z" fill="url(#gc3)"/>
<path d="M559.5 97.9L560.5 93.3L561.4 97.9Z" fill="url(#gc1)"/>
<path d="M607.8 97.9L609.4 96.2L609.8 97.9Z" fill="url(#gc1)"/>
<path d="M530.5 97.9L532.4 94.8L532.1 97.9Z" fill="url(#gc5)"/>
<path d="M551.2 98.0L553.0 94.1L553.6 98.0Z" fill="url(#gc4)"/>
<path d="M528.2 98.0L530.3 96.2L530.1 98.0Z" fill="url(#gc1)"/>
<path d="M603.7 98.0L605.7 97.2L605.2 98.0Z" fill="url(#gc3)"/>
<path d="M543.2 98.0L544.3 96.6L545.4 98.0Z" fill="url(#gc2)"/>
<path d="M583.4 98.0L585.9 93.2L586.2 98.0Z" fill="url(#gc1)"/>
<path d="M598.8 98.0L600.5 96.0L601.3 98.0Z" fill="url(#gc1)"/>
<path d="M539.7 98.2L541.2 96.5L542.1 98.2Z" fill="url(#gc2)"/>
<path d="M535.9 98.3L537.8 94.2L537.5 98.3Z" fill="url(#gc5)"/>
<path d="M537.1 98.3L539.6 97.1L539.5 98.3Z" fill="url(#gc1)"/>
<path d="M535.6 98.3L536.3 94.4L537.2 98.3Z" fill="url(#gc2)"/>
<path d="M602.0 98.3L603.7 95.4L604.7 98.3Z" fill="url(#gc5)"/>
<path d="M574.6 98.4L575.8 92.8L576.9 98.4Z" fill="url(#gc2)"/>
<path d="M598.4 98.5L599.3 95.4L600.0 98.5Z" fill="url(#gc2)"/>
<path d="M587.6 98.5L588.7 92.8L590.1 98.5Z" fill="url(#gc5)"/>
<path d="M540.3 98.6L541.8 95.7L542.5 98.6Z" fill="url(#gc1)"/>
<path d="M557.9 98.8L559.1 95.4L559.2 98.8Z" fill="url(#gc5)"/>
<path d="M527.2 98.8L528.5 95.8L529.6 98.8Z" fill="url(#gc3)"/>
<path d="M539.1 99.1L541.0 96.2L541.8 99.1Z" fill="url(#gc3)"/>
<path d="M555.3 99.1L557.4 94.4L557.2 99.1Z" fill="url(#gc5)"/>
<path d="M570.2 99.3L571.6 96.0L571.8 99.3Z" fill="url(#gc2)"/>
<path d="M585.0 99.3L587.6 90.3L587.8 99.3Z" fill="url(#gc3)"/>
<path d="M603.8 99.4L605.3 96.7L605.7 99.4Z" fill="url(#gc1)"/>
<path d="M596.0 99.5L597.1 96.7L598.3 99.5Z" fill="url(#gc5)"/>
<path d="M608.2 99.6L609.6 97.2L609.8 99.6Z" fill="url(#gc5)"/>
<path d="M584.4 99.7L585.5 93.0L587.0 99.7Z" fill="url(#gc3)"/>
<path d="M533.5 99.8L535.3 96.8L536.2 99.8Z" fill="url(#gc2)"/>
<path d="M534.3 99.8L536.5 97.8L536.0 99.8Z" fill="url(#gc1)"/>
<path d="M600.1 99.9L601.7 97.8L602.7 99.9Z" fill="url(#gc2)"/>
<path d="M534.9 99.9L537.3 97.0L537.3 99.9Z" fill="url(#gc5)"/>
<path d="M602.5 99.9L603.2 97.8L604.4 99.9Z" fill="url(#gc1)"/>
<path d="M530.6 99.9L531.6 95.0L532.5 99.9Z" fill="url(#gc1)"/>
<path d="M567.2 99.9L569.4 97.9L569.1 99.9Z" fill="url(#gc2)"/>
<path d="M603.7 100.0L604.9 96.4L605.3 100.0Z" fill="url(#gc1)"/>
<path d="M603.2 100.0L604.1 97.8L604.6 100.0Z" fill="url(#gc1)"/>
<path d="M608.5 100.0L610.2 97.9L610.7 100.0Z" fill="url(#gc5)"/>
<path d="M590.5 100.1L591.7 95.6L592.7 100.1Z" fill="url(#gc5)"/>
<path d="M570.6 100.2L571.7 97.4L572.9 100.2Z" fill="url(#gc3)"/>
<path d="M564.1 100.4L564.9 97.3L565.9 100.4Z" fill="url(#gc2)"/>
<path d="M611.3 100.4L612.5 97.8L612.9 100.4Z" fill="url(#gc3)"/>
<path d="M542.1 100.4L543.6 97.1L543.7 100.4Z" fill="url(#gc2)"/>
<path d="M587.1 100.5L587.8 97.6L588.8 100.5Z" fill="url(#gc2)"/>
<path d="M594.2 100.5L596.6 95.3L596.8 100.5Z" fill="url(#gc2)"/>
<path d="M611.9 100.6L613.4 94.6L613.6 100.6Z" fill="url(#gc3)"/>
<path d="M523.9 100.6L525.6 98.9L525.9 100.6Z" fill="url(#gc5)"/>
<path d="M588.4 100.6L590.1 96.3L590.2 100.6Z" fill="url(#gc1)"/>
<path d="M598.1 100.8L599.3 97.4L600.5 100.8Z" fill="url(#gc5)"/>
<path d="M526.3 100.9L527.2 97.1L528.0 100.9Z" fill="url(#gc1)"/>
<path d="M528.3 100.9L529.8 98.8L530.9 100.9Z" fill="url(#gc5)"/>
<path d="M573.5 100.9L574.4 95.4L575.7 100.9Z" fill="url(#gc4)"/>
<path d="M555.4 100.9L557.1 92.3L557.0 100.9Z" fill="url(#gc1)"/>
<path d="M563.4 101.0L565.2 92.0L566.0 101.0Z" fill="url(#gc1)"/>
<path d="M618.9 101.0L620.2 91.5L621.1 101.0Z" fill="url(#gc3)"/>
<path d="M528.6 101.0L529.8 96.9L531.4 101.0Z" fill="url(#gc3)"/>
<path d="M542.1 101.0L542.9 95.6L544.1 101.0Z" fill="url(#gc1)"/>
<path d="M574.4 101.2L576.0 97.8L576.0 101.2Z" fill="url(#gc3)"/>
<path d="M606.0 101.2L607.3 98.6L608.1 101.2Z" fill="url(#gc2)"/>
<path d="M523.9 101.3L525.1 96.2L525.9 101.3Z" fill="url(#gc5)"/>
<path d="M531.9 101.3L534.2 97.4L534.1 101.3Z" fill="url(#gc5)"/>
<path d="M556.1 101.5L558.4 95.5L558.5 101.5Z" fill="url(#gc4)"/>
<path d="M595.5 101.6L596.9 98.3L596.9 101.6Z" fill="url(#gc2)"/>
<path d="M611.5 101.7L612.8 97.6L614.2 101.7Z" fill="url(#gc5)"/>
<path d="M540.1 101.7L541.8 99.3L541.9 101.7Z" fill="url(#gc2)"/>
<path d="M619.2 101.7L620.8 93.1L621.2 101.7Z" fill="url(#gc4)"/>
<path d="M522.2 101.7L524.5 99.4L524.8 101.7Z" fill="url(#gc5)"/>
<path d="M614.3 102.1L616.6 97.3L616.5 102.1Z" fill="url(#gc5)"/>
<path d="M585.3 102.2L587.4 95.4L587.0 102.2Z" fill="url(#gc2)"/>
<path d="M526.9 102.3L527.9 97.4L529.1 102.3Z" fill="url(#gc3)"/>
<path d="M594.5 102.3L596.0 99.1L596.2 102.3Z" fill="url(#gc3)"/>
<path d="M578.3 102.3L580.1 91.1L579.9 102.3Z" fill="url(#gc1)"/>
<path d="M589.4 102.3L591.4 98.0L591.0 102.3Z" fill="url(#gc3)"/>
<path d="M569.9 102.4L571.7 91.9L572.4 102.4Z" fill="url(#gc2)"/>
<path d="M582.9 102.4L584.7 95.3L584.7 102.4Z" fill="url(#gc2)"/>
<path d="M522.8 102.4L523.6 97.0L524.7 102.4Z" fill="url(#gc3)"/>
<path d="M530.8 102.5L531.9 101.3L533.2 102.5Z" fill="url(#gc4)"/>
<path d="M551.4 102.5L552.7 99.2L554.2 102.5Z" fill="url(#gc1)"/>
<path d="M525.2 102.5L526.0 99.9L527.4 102.5Z" fill="url(#gc3)"/>
<path d="M607.7 102.5L608.9 98.8L609.7 102.5Z" fill="url(#gc5)"/>
<path d="M606.9 102.6L608.9 99.8L609.5 102.6Z" fill="url(#gc1)"/>
<path d="M557.9 102.7L559.6 97.1L559.7 102.7Z" fill="url(#gc5)"/>
<path d="M583.6 102.8L585.0 99.3L585.8 102.8Z" fill="url(#gc2)"/>
<path d="M562.1 102.8L563.6 94.7L564.9 102.8Z" fill="url(#gc3)"/>
<path d="M587.1 102.9L588.8 97.1L589.1 102.9Z" fill="url(#gc1)"/>
<path d="M528.5 102.9L530.1 100.6L530.3 102.9Z" fill="url(#gc1)"/>
<path d="M543.7 102.9L546.2 100.9L546.4 102.9Z" fill="url(#gc4)"/>
<path d="M572.6 103.0L574.2 99.4L574.2 103.0Z" fill="url(#gc2)"/>
<path d="M591.8 103.0L593.4 101.8L593.6 103.0Z" fill="url(#gc2)"/>
<path d="M571.1 103.0L572.2 90.5L572.5 103.0Z" fill="url(#gc2)"/>
<path d="M566.9 103.1L567.8 100.0L568.3 103.1Z" fill="url(#gc4)"/>
<path d="M560.8 103.2L562.3 100.6L562.8 103.2Z" fill="url(#gc5)"/>
<path d="M583.1 103.2L584.2 96.9L584.9 103.2Z" fill="url(#gc1)"/>
<path d="M546.1 103.3L548.3 99.6L548.8 103.3Z" fill="url(#gc1)"/>
<path d="M530.3 103.3L531.3 101.8L532.6 103.3Z" fill="url(#gc1)"/>
<path d="M587.3 103.3L589.7 100.1L590.1 103.3Z" fill="url(#gc2)"/>
<path d="M544.1 103.3L545.1 101.2L546.6 103.3Z" fill="url(#gc2)"/>
<path d="M550.9 103.4L552.1 101.0L552.3 103.4Z" fill="url(#gc2)"/>
<path d="M543.0 103.4L544.2 101.2L545.3 103.4Z" fill="url(#gc3)"/>
<path d="M546.0 103.4L547.7 97.8L548.5 103.4Z" fill="url(#gc1)"/>
<path d="M611.2 103.5L613.3 101.4L612.7 103.5Z" fill="url(#gc3)"/>
<path d="M556.9 103.5L557.8 100.5L559.0 103.5Z" fill="url(#gc2)"/>
<path d="M596.3 103.5L597.0 100.5L598.2 103.5Z" fill="url(#gc2)"/>
<path d="M609.8 103.5L612.0 102.2L612.5 103.5Z" fill="url(#gc2)"/>
<path d="M585.7 103.6L587.2 98.3L588.3 103.6Z" fill="url(#gc1)"/>
<path d="M535.1 103.7L535.7 102.4L536.7 103.7Z" fill="url(#gc2)"/>
<path d="M594.9 103.7L596.0 99.9L596.3 103.7Z" fill="url(#gc1)"/>
<path d="M614.3 103.7L616.4 95.3L616.9 103.7Z" fill="url(#gc4)"/>
<path d="M546.1 103.8L547.5 101.0L548.3 103.8Z" fill="url(#gc1)"/>
<path d="M588.9 103.8L590.6 99.1L591.5 103.8Z" fill="url(#gc2)"/>
<path d="M563.6 103.9L565.3 99.1L566.2 103.9Z" fill="url(#gc1)"/>
<path d="M527.8 104.0L529.7 100.0L530.5 104.0Z" fill="url(#gc5)"/>
<path d="M528.3 104.0L529.8 102.1L531.0 104.0Z" fill="url(#gc5)"/>
<path d="M625.0 104.0L626.6 97.9L626.4 104.0Z" fill="url(#gc2)"/>
<path d="M575.5 104.2L578.0 97.2L578.1 104.2Z" fill="url(#gc2)"/>
<path d="M566.9 104.2L569.2 98.8L569.5 104.2Z" fill="url(#gc1)"/>
<path d="M624.0 104.2L625.2 99.6L626.7 104.2Z" fill="url(#gc5)"/>
<path d="M574.1 104.3L575.3 101.0L576.4 104.3Z" fill="url(#gc1)"/>
<path d="M606.5 104.3L608.7 101.7L608.4 104.3Z" fill="url(#gc2)"/>
<path d="M570.1 104.3L571.5 93.5L571.8 104.3Z" fill="url(#gc3)"/>
<path d="M526.8 104.4L528.3 100.8L529.4 104.4Z" fill="url(#gc1)"/>
<path d="M594.9 104.5L596.9 102.0L596.8 104.5Z" fill="url(#gc1)"/>
<path d="M540.4 104.5L542.4 100.8L542.7 104.5Z" fill="url(#gc1)"/>
<path d="M616.2 104.5L617.9 102.8L618.3 104.5Z" fill="url(#gc1)"/>
<path d="M552.4 104.5L554.1 98.2L554.7 104.5Z" fill="url(#gc5)"/>
<path d="M555.8 104.5L557.1 100.9L558.4 104.5Z" fill="url(#gc5)"/>
<path d="M527.8 104.6L529.8 102.3L529.3 104.6Z" fill="url(#gc5)"/>
<path d="M571.9 104.6L573.4 95.7L574.5 104.6Z" fill="url(#gc5)"/>
<path d="M579.1 104.7L581.2 94.5L580.8 104.7Z" fill="url(#gc2)"/>
<path d="M534.4 104.7L535.9 103.3L535.9 104.7Z" fill="url(#gc3)"/>
<path d="M625.8 104.7L626.7 101.4L627.4 104.7Z" fill="url(#gc1)"/>
<path d="M548.0 104.7L549.1 100.7L549.9 104.7Z" fill="url(#gc1)"/>
<path d="M610.0 104.8L611.2 101.0L612.3 104.8Z" fill="url(#gc3)"/>
<path d="M605.5 104.8L608.2 102.4L608.2 104.8Z" fill="url(#gc3)"/>
<path d="M588.6 104.8L589.4 102.7L590.7 104.8Z" fill="url(#gc2)"/>
<path d="M563.6 104.9L565.5 99.6L564.9 104.9Z" fill="url(#gc3)"/>
<path d="M538.9 105.0L541.5 102.3L541.6 105.0Z" fill="url(#gc1)"/>
<path d="M564.8 105.0L566.3 98.5L566.8 105.0Z" fill="url(#gc5)"/>
<path d="M571.0 105.0L572.3 96.1L572.5 105.0Z" fill="url(#gc1)"/>
<path d="M573.5 105.1L574.3 95.6L574.9 105.1Z" fill="url(#gc3)"/>
<path d="M557.5 105.2L559.5 100.9L560.0 105.2Z" fill="url(#gc5)"/>
<path d="M578.0 105.2L580.0 98.8L579.5 105.2Z" fill="url(#gc3)"/>
<path d="M616.9 105.2L618.2 95.1L618.8 105.2Z" fill="url(#gc1)"/>
<path d="M570.1 105.2L572.3 100.7L572.8 105.2Z" fill="url(#gc2)"/>
<path d="M571.6 105.4L572.1 94.4L573.1 105.4Z" fill="url(#gc5)"/>
<path d="M580.4 105.4L581.7 93.9L582.9 105.4Z" fill="url(#gc1)"/>
<path d="M528.7 105.5L531.0 104.4L531.3 105.5Z" fill="url(#gc2)"/>
<path d="M520.6 105.5L522.2 102.6L522.4 105.5Z" fill="url(#gc5)"/>
<path d="M604.0 105.5L605.9 103.4L606.3 105.5Z" fill="url(#gc2)"/>
<path d="M536.4 105.5L537.0 104.2L538.0 105.5Z" fill="url(#gc2)"/>
<path d="M543.3 105.5L544.5 104.0L544.9 105.5Z" fill="url(#gc1)"/>
<path d="M535.9 105.6L538.1 103.5L538.6 105.6Z" fill="url(#gc3)"/>
<path d="M612.5 105.7L613.5 100.9L615.0 105.7Z" fill="url(#gc3)"/>
<path d="M527.1 105.7L528.4 104.1L529.8 105.7Z" fill="url(#gc1)"/>
<path d="M560.8 105.7L562.6 100.6L562.5 105.7Z" fill="url(#gc2)"/>
<path d="M532.5 105.8L533.7 104.0L533.8 105.8Z" fill="url(#gc3)"/>
<path d="M622.4 106.0L623.5 101.9L624.0 106.0Z" fill="url(#gc1)"/>
<path d="M577.2 106.0L578.2 100.7L579.3 106.0Z" fill="url(#gc3)"/>
<path d="M523.8 106.0L525.6 104.1L526.6 106.0Z" fill="url(#gc2)"/>
<path d="M593.1 106.1L594.7 101.6L595.5 106.1Z" fill="url(#gc1)"/>
<path d="M578.3 106.1L580.2 98.9L579.8 106.1Z" fill="url(#gc2)"/>
<path d="M524.5 106.1L526.0 104.9L526.6 106.1Z" fill="url(#gc5)"/>
<path d="M559.3 106.1L561.0 103.0L561.3 106.1Z" fill="url(#gc5)"/>
<path d="M604.4 106.1L605.9 103.5L606.1 106.1Z" fill="url(#gc3)"/>
<path d="M624.1 106.1L625.9 102.5L626.5 106.1Z" fill="url(#gc5)"/>
<path d="M613.0 106.1L614.8 101.3L614.8 106.1Z" fill="url(#gc2)"/>
<path d="M576.5 106.2L577.8 92.4L578.6 106.2Z" fill="url(#gc2)"/>
<path d="M602.5 106.2L604.0 105.0L604.0 106.2Z" fill="url(#gc5)"/>
<path d="M552.6 106.2L554.4 103.6L555.1 106.2Z" fill="url(#gc1)"/>
<path d="M592.2 106.3L593.6 104.2L594.3 106.3Z" fill="url(#gc2)"/>
<path d="M544.1 106.3L545.0 104.8L546.3 106.3Z" fill="url(#gc5)"/>
<path d="M582.0 106.4L584.0 98.7L583.9 106.4Z" fill="url(#gc2)"/>
<path d="M598.1 106.5L599.8 105.5L600.6 106.5Z" fill="url(#gc2)"/>
<path d="M580.1 106.5L582.0 101.7L582.4 106.5Z" fill="url(#gc5)"/>
<path d="M575.8 106.5L577.8 99.8L577.9 106.5Z" fill="url(#gc3)"/>
<path d="M569.4 106.5L571.5 96.7L572.0 106.5Z" fill="url(#gc1)"/>
<path d="M604.9 106.5L605.6 103.9L606.3 106.5Z" fill="url(#gc1)"/>
<path d="M548.3 106.6L550.1 104.7L550.0 106.6Z" fill="url(#gc4)"/>
<path d="M576.1 106.6L577.3 99.6L578.5 106.6Z" fill="url(#gc5)"/>
<path d="M613.4 106.9L614.0 100.0L614.9 106.9Z" fill="url(#gc2)"/>
<path d="M566.3 107.0L568.1 105.1L568.5 107.0Z" fill="url(#gc1)"/>
<path d="M575.5 107.3L576.0 96.4L577.0 107.3Z" fill="url(#gc1)"/>
<path d="M542.3 107.5L543.6 105.4L544.5 107.5Z" fill="url(#gc3)"/>
<path d="M610.7 107.5L612.2 103.3L613.2 107.5Z" fill="url(#gc2)"/>
<path d="M607.2 107.6L608.9 105.2L609.5 107.6Z" fill="url(#gc1)"/>
<path d="M554.7 107.6L556.7 102.0L556.9 107.6Z" fill="url(#gc5)"/>
<path d="M602.3 107.6L603.3 106.3L603.8 107.6Z" fill="url(#gc1)"/>
<path d="M577.7 107.6L579.4 101.4L579.4 107.6Z" fill="url(#gc1)"/>
<path d="M547.3 107.7L549.3 102.9L548.7 107.7Z" fill="url(#gc5)"/>
<path d="M609.7 107.8L610.5 102.4L611.1 107.8Z" fill="url(#gc1)"/>
<path d="M616.2 107.8L617.9 100.1L617.7 107.8Z" fill="url(#gc5)"/>
<path d="M569.3 107.8L570.7 100.2L571.7 107.8Z" fill="url(#gc5)"/>
<path d="M608.1 108.0L609.5 105.6L609.5 108.0Z" fill="url(#gc1)"/>
<path d="M574.6 108.1L575.4 102.3L576.2 108.1Z" fill="url(#gc1)"/>
<path d="M551.3 108.1L552.2 101.9L553.1 108.1Z" fill="url(#gc1)"/>
<path d="M617.5 108.2L619.4 105.3L619.6 108.2Z" fill="url(#gc1)"/>
<path d="M520.1 108.2L522.3 104.2L522.6 108.2Z" fill="url(#gc1)"/>
<path d="M547.7 108.2L548.9 104.8L549.4 108.2Z" fill="url(#gc2)"/>
<path d="M553.1 108.3L554.5 104.1L554.5 108.3Z" fill="url(#gc2)"/>
<path d="M548.3 108.4L549.3 107.5L550.3 108.4Z" fill="url(#gc5)"/>
<path d="M567.1 108.5L569.1 104.4L569.4 108.5Z" fill="url(#gc1)"/>
<path d="M578.7 108.6L580.7 101.8L580.3 108.6Z" fill="url(#gc5)"/>
<path d="M616.5 108.6L617.7 104.3L617.8 108.6Z" fill="url(#gc1)"/>
<path d="M578.8 108.6L579.8 103.0L580.2 108.6Z" fill="url(#gc1)"/>
<path d="M530.3 108.6L531.3 104.3L532.1 108.6Z" fill="url(#gc1)"/>
<path d="M607.3 108.6L608.7 105.7L609.9 108.6Z" fill="url(#gc1)"/>
<path d="M549.1 108.6L551.0 102.4L551.3 108.6Z" fill="url(#gc5)"/>
<path d="M528.5 108.6L529.3 104.9L529.9 108.6Z" fill="url(#gc3)"/>
<path d="M549.9 108.7L551.9 106.3L551.9 108.7Z" fill="url(#gc1)"/>
<path d="M550.3 108.7L551.7 106.2L552.2 108.7Z" fill="url(#gc5)"/>
<path d="M592.2 108.7L594.1 104.6L595.0 108.7Z" fill="url(#gc1)"/>
<path d="M562.3 108.9L564.1 102.4L564.1 108.9Z" fill="url(#gc3)"/>
<path d="M570.6 109.0L573.1 102.9L573.2 109.0Z" fill="url(#gc4)"/>
<path d="M593.0 109.0L595.1 103.2L594.8 109.0Z" fill="url(#gc1)"/>
<path d="M569.5 109.1L570.8 102.7L570.9 109.1Z" fill="url(#gc2)"/>
<path d="M595.9 109.2L597.8 104.8L598.4 109.2Z" fill="url(#gc2)"/>
<path d="M548.6 109.2L550.4 104.4L550.1 109.2Z" fill="url(#gc2)"/>
<path d="M555.2 109.2L556.2 105.5L557.1 109.2Z" fill="url(#gc1)"/>
<path d="M608.8 109.5L609.9 107.7L610.7 109.5Z" fill="url(#gc1)"/>
<path d="M524.2 109.6L526.8 106.2L526.9 109.6Z" fill="url(#gc1)"/>
<path d="M543.2 109.6L544.7 107.0L545.8 109.6Z" fill="url(#gc2)"/>
<path d="M522.8 109.6L524.8 105.3L525.5 109.6Z" fill="url(#gc2)"/>
<path d="M559.3 109.7L560.3 107.5L560.8 109.7Z" fill="url(#gc1)"/>
<path d="M617.9 109.7L619.6 101.9L619.6 109.7Z" fill="url(#gc3)"/>
<path d="M579.5 109.7L581.2 97.1L581.2 109.7Z" fill="url(#gc3)"/>
<path d="M583.4 109.8L584.5 107.2L585.4 109.8Z" fill="url(#gc2)"/>
<path d="M549.5 109.8L550.1 105.1L551.0 109.8Z" fill="url(#gc2)"/>
<path d="M571.5 110.0L573.9 107.3L574.2 110.0Z" fill="url(#gc3)"/>
<path d="M537.0 110.1L538.2 106.0L539.6 110.1Z" fill="url(#gc3)"/>
<path d="M589.2 110.1L590.6 107.4L591.5 110.1Z" fill="url(#gc3)"/>
<path d="M551.2 110.3L553.5 105.7L553.3 110.3Z" fill="url(#gc1)"/>
<path d="M580.9 110.3L581.6 104.5L582.6 110.3Z" fill="url(#gc2)"/>
<path d="M612.9 110.3L614.3 103.2L614.2 110.3Z" fill="url(#gc2)"/>
<path d="M526.9 110.4L527.8 107.3L529.1 110.4Z" fill="url(#gc5)"/>
<path d="M520.8 110.5L521.6 108.0L522.5 110.5Z" fill="url(#gc5)"/>
<path d="M608.3 110.5L609.5 107.6L611.0 110.5Z" fill="url(#gc1)"/>
<path d="M590.4 110.6L592.3 104.4L592.4 110.6Z" fill="url(#gc3)"/>
<path d="M545.8 110.6L546.7 107.9L547.5 110.6Z" fill="url(#gc4)"/>
<path d="M549.8 110.7L551.2 105.9L551.6 110.7Z" fill="url(#gc3)"/>
<path d="M552.4 110.8L554.1 107.9L554.8 110.8Z" fill="url(#gc2)"/>
<path d="M517.4 110.8L518.6 104.7L519.8 110.8Z" fill="url(#gc5)"/>
<path d="M608.8 110.9L610.0 107.3L611.4 110.9Z" fill="url(#gc1)"/>
<path d="M611.3 110.9L611.9 108.4L613.0 110.9Z" fill="url(#gc3)"/>
<path d="M556.4 111.0L557.9 107.0L557.8 111.0Z" fill="url(#gc2)"/>
<path d="M562.9 111.1L563.4 108.8L564.3 111.1Z" fill="url(#gc2)"/>
<path d="M591.9 111.3L593.5 108.7L593.4 111.3Z" fill="url(#gc1)"/>
<path d="M615.4 111.4L617.4 104.6L617.7 111.4Z" fill="url(#gc3)"/>
<path d="M574.6 111.4L576.8 107.6L576.5 111.4Z" fill="url(#gc2)"/>
<path d="M550.5 111.4L552.1 107.5L552.4 111.4Z" fill="url(#gc1)"/>
<path d="M544.1 111.4L545.1 109.4L546.3 111.4Z" fill="url(#gc1)"/>
<path d="M545.7 111.5L547.2 106.9L547.2 111.5Z" fill="url(#gc2)"/>
<path d="M599.9 111.5L601.8 108.3L601.6 111.5Z" fill="url(#gc1)"/>
<path d="M620.7 111.9L621.8 105.8L622.6 111.9Z" fill="url(#gc2)"/>
<path d="M557.0 111.9L558.6 106.2L558.8 111.9Z" fill="url(#gc1)"/>
<path d="M574.7 112.0L575.1 104.8L576.0 112.0Z" fill="url(#gc4)"/>
<path d="M599.9 112.0L601.4 110.5L602.2 112.0Z" fill="url(#gc1)"/>
<path d="M610.9 112.1L612.8 108.2L613.5 112.1Z" fill="url(#gc5)"/>
<path d="M568.6 112.1L569.8 106.8L569.9 112.1Z" fill="url(#gc2)"/>
<path d="M608.9 112.1L610.3 107.9L611.5 112.1Z" fill="url(#gc2)"/>
<path d="M617.4 112.1L618.3 103.1L619.3 112.1Z" fill="url(#gc1)"/>
<path d="M605.8 112.2L607.2 109.6L608.5 112.2Z" fill="url(#gc5)"/>
<path d="M581.2 112.2L582.5 107.6L582.5 112.2Z" fill="url(#gc2)"/>
<path d="M609.9 112.3L611.0 106.7L612.0 112.3Z" fill="url(#gc1)"/>
<path d="M522.8 112.3L524.4 110.0L524.8 112.3Z" fill="url(#gc1)"/>
<path d="M593.0 112.4L595.3 109.4L595.8 112.4Z" fill="url(#gc1)"/>
<path d="M616.4 112.4L617.3 109.1L618.7 112.4Z" fill="url(#gc5)"/>
<path d="M618.3 112.4L619.9 109.8L619.7 112.4Z" fill="url(#gc5)"/>
<path d="M524.6 112.4L526.4 109.1L526.8 112.4Z" fill="url(#gc1)"/>
<path d="M571.5 112.4L572.6 109.4L573.3 112.4Z" fill="url(#gc1)"/>
<path d="M595.1 112.5L597.4 109.5L597.2 112.5Z" fill="url(#gc1)"/>
<path d="M618.3 112.6L620.1 105.5L621.0 112.6Z" fill="url(#gc2)"/>
<path d="M616.5 112.7L618.7 109.3L618.6 112.7Z" fill="url(#gc1)"/>
<path d="M617.6 112.8L618.9 104.9L619.9 112.8Z" fill="url(#gc1)"/>
<path d="M540.7 112.9L542.5 108.3L542.2 112.9Z" fill="url(#gc1)"/>
<path d="M564.8 113.0L566.1 104.2L566.7 113.0Z" fill="url(#gc1)"/>
<path d="M620.2 113.0L621.5 101.6L622.4 113.0Z" fill="url(#gc3)"/>
<path d="M596.0 113.1L597.9 112.1L597.4 113.1Z" fill="url(#gc3)"/>
<path d="M593.7 113.1L595.7 109.7L595.5 113.1Z" fill="url(#gc1)"/>
<path d="M600.6 113.1L602.7 111.9L602.6 113.1Z" fill="url(#gc2)"/>
<path d="M516.2 113.2L517.5 111.1L519.0 113.2Z" fill="url(#gc1)"/>
<path d="M534.1 113.2L535.2 110.0L536.3 113.2Z" fill="url(#gc5)"/>
<path d="M562.4 113.2L563.4 108.3L564.4 113.2Z" fill="url(#gc5)"/>
<path d="M605.8 113.3L608.0 109.4L608.0 113.3Z" fill="url(#gc5)"/>
<path d="M587.0 113.3L588.9 107.7L588.5 113.3Z" fill="url(#gc1)"/>
<path d="M554.8 113.3L557.0 108.3L557.2 113.3Z" fill="url(#gc2)"/>
<path d="M577.4 113.4L579.0 106.9L579.3 113.4Z" fill="url(#gc1)"/>
<path d="M608.8 113.4L610.0 111.2L611.2 113.4Z" fill="url(#gc2)"/>
<path d="M582.1 113.4L584.2 108.0L583.7 113.4Z" fill="url(#gc1)"/>
<path d="M529.1 113.5L531.1 109.8L530.7 113.5Z" fill="url(#gc1)"/>
<path d="M596.4 113.6L597.5 111.0L598.2 113.6Z" fill="url(#gc2)"/>
<path d="M563.8 113.6L565.9 107.0L566.5 113.6Z" fill="url(#gc3)"/>
<path d="M616.9 113.6L618.0 106.4L618.8 113.6Z" fill="url(#gc2)"/>
<path d="M548.5 113.7L549.7 111.5L551.0 113.7Z" fill="url(#gc3)"/>
<path d="M533.9 113.7L535.8 112.1L535.3 113.7Z" fill="url(#gc1)"/>
<path d="M616.9 113.8L618.8 108.4L619.5 113.8Z" fill="url(#gc1)"/>
<path d="M528.9 113.9L530.1 110.8L531.3 113.9Z" fill="url(#gc5)"/>
<path d="M524.4 113.9L526.1 112.8L526.4 113.9Z" fill="url(#gc1)"/>
<path d="M528.1 113.9L530.4 111.9L530.8 113.9Z" fill="url(#gc3)"/>
<path d="M573.0 114.0L574.6 102.6L574.9 114.0Z" fill="url(#gc5)"/>
<path d="M598.3 114.0L599.9 111.4L599.7 114.0Z" fill="url(#gc3)"/>
<path d="M551.8 114.0L553.9 109.6L553.6 114.0Z" fill="url(#gc1)"/>
<path d="M522.2 114.1L522.9 110.5L523.6 114.1Z" fill="url(#gc1)"/>
<path d="M519.1 114.2L521.1 112.8L521.1 114.2Z" fill="url(#gc1)"/>
<path d="M607.1 114.2L609.0 111.7L609.7 114.2Z" fill="url(#gc5)"/>
<path d="M540.7 114.2L541.8 110.9L543.2 114.2Z" fill="url(#gc1)"/>
<path d="M529.4 114.2L530.8 111.8L532.0 114.2Z" fill="url(#gc1)"/>
<path d="M549.1 114.3L551.1 112.3L550.6 114.3Z" fill="url(#gc1)"/>
<path d="M598.5 114.5L599.5 112.2L600.7 114.5Z" fill="url(#gc2)"/>
<path d="M545.6 114.5L546.7 111.8L547.4 114.5Z" fill="url(#gc5)"/>
<path d="M557.6 114.5L558.3 112.6L559.6 114.5Z" fill="url(#gc1)"/>
<path d="M568.8 114.5L570.2 108.4L570.2 114.5Z" fill="url(#gc1)"/>
<path d="M599.5 114.7L601.1 112.8L601.5 114.7Z" fill="url(#gc4)"/>
<path d="M532.1 114.7L533.6 112.9L533.4 114.7Z" fill="url(#gc5)"/>
<path d="M555.4 114.7L556.8 110.0L557.3 114.7Z" fill="url(#gc5)"/>
<path d="M570.3 114.7L571.0 110.8L571.7 114.7Z" fill="url(#gc1)"/>
<path d="M551.2 114.8L552.4 109.8L553.8 114.8Z" fill="url(#gc3)"/>
<path d="M612.4 114.9L613.6 111.1L614.2 114.9Z" fill="url(#gc2)"/>
<path d="M599.7 114.9L601.2 112.3L601.4 114.9Z" fill="url(#gc1)"/>
<path d="M547.4 114.9L548.4 111.0L549.6 114.9Z" fill="url(#gc2)"/>
<path d="M569.1 115.0L569.8 105.2L570.8 115.0Z" fill="url(#gc1)"/>
<path d="M564.1 115.0L565.1 108.6L566.3 115.0Z" fill="url(#gc2)"/>
<path d="M519.2 115.1L520.8 113.4L521.6 115.1Z" fill="url(#gc1)"/>
<path d="M555.1 115.1L556.3 108.1L557.6 115.1Z" fill="url(#gc1)"/>
<path d="M608.8 115.2L609.7 112.5L610.2 115.2Z" fill="url(#gc2)"/>
<path d="M616.0 115.2L617.8 111.5L618.7 115.2Z" fill="url(#gc2)"/>
<path d="M547.6 115.2L548.6 112.0L549.6 115.2Z" fill="url(#gc3)"/>
<path d="M517.6 115.2L518.5 112.1L519.8 115.2Z" fill="url(#gc2)"/>
<path d="M519.4 115.2L520.2 112.8L521.0 115.2Z" fill="url(#gc5)"/>
<path d="M548.4 115.3L550.8 111.5L550.8 115.3Z" fill="url(#gc1)"/>
<path d="M519.4 115.3L520.4 113.6L521.8 115.3Z" fill="url(#gc2)"/>
<path d="M571.2 115.4L572.5 113.0L573.9 115.4Z" fill="url(#gc1)"/>
<path d="M603.8 115.4L604.9 114.7L605.8 115.4Z" fill="url(#gc2)"/>
<path d="M562.3 115.5L564.9 113.5L565.1 115.5Z" fill="url(#gc2)"/>
<path d="M611.9 115.5L612.9 109.2L613.6 115.5Z" fill="url(#gc5)"/>
<path d="M547.3 115.5L549.4 114.5L549.9 115.5Z" fill="url(#gc2)"/>
<path d="M537.1 115.6L539.1 114.6L539.3 115.6Z" fill="url(#gc5)"/>
<path d="M593.3 115.6L595.4 110.9L595.1 115.6Z" fill="url(#gc5)"/>
<path d="M610.6 115.6L612.3 111.8L613.3 115.6Z" fill="url(#gc3)"/>
<path d="M578.5 115.6L580.5 108.8L580.4 115.6Z" fill="url(#gc5)"/>
<path d="M615.5 115.6L617.3 110.2L617.4 115.6Z" fill="url(#gc2)"/>
<path d="M510.9 115.7L512.7 111.3L513.2 115.7Z" fill="url(#gc5)"/>
<path d="M568.1 115.7L568.7 109.2L569.6 115.7Z" fill="url(#gc1)"/>
<path d="M602.5 115.7L603.9 112.3L605.0 115.7Z" fill="url(#gc3)"/>
<path d="M520.8 115.8L522.1 110.7L523.6 115.8Z" fill="url(#gc1)"/>
<path d="M578.3 115.8L580.2 108.7L580.1 115.8Z" fill="url(#gc5)"/>
<path d="M561.3 115.8L562.7 106.4L563.8 115.8Z" fill="url(#gc1)"/>
<path d="M580.8 116.0L582.4 112.9L582.8 116.0Z" fill="url(#gc1)"/>
<path d="M515.0 116.0L516.0 112.5L517.1 116.0Z" fill="url(#gc1)"/>
<path d="M560.8 116.0L562.9 112.3L562.7 116.0Z" fill="url(#gc3)"/>
<path d="M610.8 116.1L612.2 113.3L612.6 116.1Z" fill="url(#gc1)"/>
<path d="M552.7 116.2L553.7 111.7L554.2 116.2Z" fill="url(#gc3)"/>
<path d="M530.4 116.2L530.9 113.3L531.9 116.2Z" fill="url(#gc5)"/>
<path d="M539.0 116.2L540.2 114.2L541.1 116.2Z" fill="url(#gc3)"/>
<path d="M536.4 116.3L537.9 113.9L537.9 116.3Z" fill="url(#gc3)"/>
<path d="M592.6 116.3L594.5 111.6L594.7 116.3Z" fill="url(#gc5)"/>
<path d="M522.6 116.4L523.5 115.2L524.6 116.4Z" fill="url(#gc1)"/>
<path d="M559.8 116.4L561.9 115.2L561.9 116.4Z" fill="url(#gc4)"/>
<path d="M565.8 116.4L567.1 112.9L567.8 116.4Z" fill="url(#gc2)"/>
<path d="M515.1 116.5L516.0 110.3L516.5 116.5Z" fill="url(#gc2)"/>
<path d="M617.0 116.5L619.0 105.5L619.2 116.5Z" fill="url(#gc5)"/>
<path d="M515.5 116.6L516.6 112.5L518.2 116.6Z" fill="url(#gc1)"/>
<path d="M604.6 116.6L606.3 113.7L606.9 116.6Z" fill="url(#gc1)"/>
<path d="M535.3 116.6L537.6 114.7L538.1 116.6Z" fill="url(#gc3)"/>
<path d="M589.5 116.6L591.0 113.9L591.5 116.6Z" fill="url(#gc3)"/>
<path d="M532.1 116.7L534.0 114.7L534.1 116.7Z" fill="url(#gc1)"/>
<path d="M599.9 116.7L600.7 115.8L601.8 116.7Z" fill="url(#gc4)"/>
<path d="M555.3 116.8L556.4 112.6L556.8 116.8Z" fill="url(#gc5)"/>
<path d="M513.8 116.8L515.0 115.7L516.0 116.8Z" fill="url(#gc1)"/>
<path d="M563.0 116.9L565.0 111.8L565.6 116.9Z" fill="url(#gc3)"/>
<path d="M521.4 117.0L522.1 114.4L522.9 117.0Z" fill="url(#gc5)"/>
<path d="M514.9 117.1L517.0 112.7L517.3 117.1Z" fill="url(#gc2)"/>
<path d="M582.1 117.2L583.8 111.3L584.1 117.2Z" fill="url(#gc1)"/>
<path d="M566.9 117.2L567.6 115.0L568.4 117.2Z" fill="url(#gc5)"/>
<path d="M593.9 117.2L596.1 116.2L596.0 117.2Z" fill="url(#gc3)"/>
<path d="M541.1 117.2L543.3 116.1L543.7 117.2Z" fill="url(#gc2)"/>
<path d="M524.5 117.3L526.7 115.1L526.9 117.3Z" fill="url(#gc1)"/>
<path d="M539.2 117.3L540.2 114.7L541.8 117.3Z" fill="url(#gc1)"/>
<path d="M609.8 117.3L611.9 113.1L612.1 117.3Z" fill="url(#gc5)"/>
<path d="M515.7 117.3L516.8 114.5L518.0 117.3Z" fill="url(#gc5)"/>
<path d="M589.6 117.4L592.1 113.8L592.3 117.4Z" fill="url(#gc2)"/>
<path d="M525.0 117.4L526.8 116.0L527.2 117.4Z" fill="url(#gc2)"/>
<path d="M553.8 117.5L556.3 111.3L556.4 117.5Z" fill="url(#gc3)"/>
<path d="M579.1 117.6L580.1 107.9L581.4 117.6Z" fill="url(#gc5)"/>
<path d="M543.0 117.6L545.1 115.0L545.6 117.6Z" fill="url(#gc1)"/>
<path d="M571.4 117.6L573.0 112.9L573.0 117.6Z" fill="url(#gc3)"/>
<path d="M599.4 117.6L601.6 116.5L602.0 117.6Z" fill="url(#gc5)"/>
<path d="M580.7 117.7L581.8 107.2L582.4 117.7Z" fill="url(#gc3)"/>
<path d="M616.0 117.7L617.6 111.8L617.7 117.7Z" fill="url(#gc1)"/>
<path d="M573.8 117.8L575.7 107.1L576.0 117.8Z" fill="url(#gc2)"/>
<path d="M613.0 117.8L614.8 116.0L615.5 117.8Z" fill="url(#gc1)"/>
<path d="M583.2 117.8L585.1 111.4L585.1 117.8Z" fill="url(#gc1)"/>
<path d="M537.1 117.8L537.7 116.3L538.8 117.8Z" fill="url(#gc3)"/>
<path d="M553.1 117.8L555.0 114.7L555.0 117.8Z" fill="url(#gc3)"/>
<path d="M520.1 117.9L521.5 115.3L521.9 117.9Z" fill="url(#gc5)"/>
<path d="M519.9 118.0L521.3 113.1L522.5 118.0Z" fill="url(#gc3)"/>
<path d="M552.8 118.0L553.6 114.2L554.2 118.0Z" fill="url(#gc1)"/>
<path d="M614.5 118.0L616.5 116.2L616.6 118.0Z" fill="url(#gc5)"/>
<path d="M552.6 118.0L554.4 114.9L555.1 118.0Z" fill="url(#gc1)"/>
<path d="M591.5 118.1L592.9 114.8L594.2 118.1Z" fill="url(#gc1)"/>
<path d="M538.0 118.1L539.9 115.3L540.7 118.1Z" fill="url(#gc3)"/>
<path d="M583.3 118.1L584.4 116.4L586.0 118.1Z" fill="url(#gc5)"/>
<path d="M518.7 118.1L520.1 112.5L520.3 118.1Z" fill="url(#gc1)"/>
<path d="M550.4 118.1L551.5 113.4L552.0 118.1Z" fill="url(#gc3)"/>
<path d="M523.4 118.2L525.5 115.7L525.5 118.2Z" fill="url(#gc3)"/>
<path d="M592.4 118.3L593.5 117.0L595.0 118.3Z" fill="url(#gc5)"/>
<path d="M537.3 118.3L538.2 114.0L539.3 118.3Z" fill="url(#gc1)"/>
<path d="M604.0 118.6L605.5 117.7L605.7 118.6Z" fill="url(#gc1)"/>
<path d="M593.8 118.6L595.9 114.4L595.5 118.6Z" fill="url(#gc5)"/>
<path d="M612.5 118.6L613.4 117.5L614.6 118.6Z" fill="url(#gc5)"/>
<path d="M574.6 118.7L575.8 115.9L575.9 118.7Z" fill="url(#gc1)"/>
<path d="M506.8 118.9L509.3 115.9L509.6 118.9Z" fill="url(#gc5)"/>
<path d="M595.5 118.9L597.8 113.8L598.3 118.9Z" fill="url(#gc5)"/>
<path d="M538.0 119.0L540.4 116.1L540.4 119.0Z" fill="url(#gc2)"/>
<path d="M510.5 119.0L512.6 116.9L513.3 119.0Z" fill="url(#gc3)"/>
<path d="M588.8 119.1L590.2 117.0L590.8 119.1Z" fill="url(#gc2)"/>
<path d="M597.6 119.1L600.0 116.8L599.9 119.1Z" fill="url(#gc1)"/>
<path d="M563.9 119.1L564.8 116.9L565.4 119.1Z" fill="url(#gc3)"/>
<path d="M526.8 119.2L528.0 118.0L529.5 119.2Z" fill="url(#gc2)"/>
<path d="M558.0 119.2L560.4 118.2L560.4 119.2Z" fill="url(#gc2)"/>
<path d="M508.6 119.2L509.8 117.5L510.4 119.2Z" fill="url(#gc1)"/>
<path d="M508.0 119.3L509.9 116.3L510.1 119.3Z" fill="url(#gc1)"/>
<path d="M566.3 119.3L567.9 113.6L568.4 119.3Z" fill="url(#gc1)"/>
<path d="M587.9 119.4L588.9 115.0L589.4 119.4Z" fill="url(#gc3)"/>
<path d="M516.1 119.4L518.6 112.3L518.9 119.4Z" fill="url(#gc3)"/>
<path d="M544.8 119.5L546.8 116.5L547.2 119.5Z" fill="url(#gc1)"/>
<path d="M520.9 119.5L522.9 117.8L522.8 119.5Z" fill="url(#gc3)"/>
<path d="M542.0 119.5L544.1 118.5L544.0 119.5Z" fill="url(#gc5)"/>
<path d="M612.6 119.7L614.4 116.1L614.3 119.7Z" fill="url(#gc1)"/>
<path d="M619.0 119.7L620.4 110.0L621.4 119.7Z" fill="url(#gc2)"/>
<path d="M516.2 119.8L517.6 117.3L518.7 119.8Z" fill="url(#gc3)"/>
<path d="M529.7 119.8L531.7 118.0L532.3 119.8Z" fill="url(#gc4)"/>
<path d="M565.0 119.9L565.5 117.1L566.5 119.9Z" fill="url(#gc5)"/>
<path d="M538.0 120.1L539.7 117.7L539.6 120.1Z" fill="url(#gc5)"/>
<path d="M548.7 120.1L550.1 118.1L550.8 120.1Z" fill="url(#gc1)"/>
<path d="M545.8 120.2L547.0 116.6L548.1 120.2Z" fill="url(#gc1)"/>
<path d="M578.8 120.3L581.4 115.3L581.4 120.3Z" fill="url(#gc1)"/>
<path d="M615.5 120.3L616.0 114.5L617.1 120.3Z" fill="url(#gc2)"/>
<path d="M557.8 120.4L559.4 116.7L559.2 120.4Z" fill="url(#gc1)"/>
<path d="M551.2 120.4L552.8 118.0L553.4 120.4Z" fill="url(#gc5)"/>
<path d="M570.0 120.4L570.9 113.6L571.7 120.4Z" fill="url(#gc3)"/>
<path d="M598.4 120.4L601.0 117.2L601.0 120.4Z" fill="url(#gc1)"/>
<path d="M540.8 120.5L542.7 117.8L542.4 120.5Z" fill="url(#gc1)"/>
<path d="M608.9 120.6L611.1 116.8L610.9 120.6Z" fill="url(#gc4)"/>
<path d="M557.9 120.6L559.6 118.7L560.5 120.6Z" fill="url(#gc2)"/>
<path d="M529.2 120.7L530.2 118.1L530.8 120.7Z" fill="url(#gc1)"/>
<path d="M521.3 120.7L523.0 118.1L523.9 120.7Z" fill="url(#gc4)"/>
<path d="M544.1 120.7L545.6 118.9L546.3 120.7Z" fill="url(#gc2)"/>
<path d="M552.4 120.7L554.4 117.8L553.9 120.7Z" fill="url(#gc1)"/>
<path d="M545.8 120.9L546.5 117.5L547.7 120.9Z" fill="url(#gc5)"/>
<path d="M557.1 120.9L558.7 118.2L558.8 120.9Z" fill="url(#gc5)"/>
<path d="M547.8 121.0L549.1 116.7L549.6 121.0Z" fill="url(#gc2)"/>
<path d="M580.0 121.0L581.2 117.0L581.7 121.0Z" fill="url(#gc2)"/>
<path d="M618.3 121.2L619.5 115.7L619.8 121.2Z" fill="url(#gc2)"/>
<path d="M570.0 121.2L571.7 116.7L571.4 121.2Z" fill="url(#gc3)"/>
<path d="M609.5 121.3L611.1 117.8L612.2 121.3Z" fill="url(#gc5)"/>
<path d="M581.4 121.3L583.3 113.1L583.5 121.3Z" fill="url(#gc1)"/>
<path d="M553.2 121.5L554.4 117.5L555.7 121.5Z" fill="url(#gc3)"/>
<path d="M618.6 121.5L620.8 115.3L620.9 121.5Z" fill="url(#gc2)"/>
<path d="M554.5 121.6L555.0 117.0L556.1 121.6Z" fill="url(#gc1)"/>
<path d="M572.4 121.6L573.8 119.3L574.0 121.6Z" fill="url(#gc3)"/>
<path d="M579.7 121.6L581.7 119.5L582.4 121.6Z" fill="url(#gc5)"/>
<path d="M596.0 121.7L598.1 119.6L597.7 121.7Z" fill="url(#gc1)"/>
<path d="M527.5 121.7L530.1 120.0L530.1 121.7Z" fill="url(#gc5)"/>
<path d="M587.2 121.8L589.6 120.4L589.9 121.8Z" fill="url(#gc2)"/>
<path d="M538.2 121.8L539.5 118.0L540.6 121.8Z" fill="url(#gc1)"/>
<path d="M573.9 121.8L575.0 119.2L576.1 121.8Z" fill="url(#gc2)"/>
<path d="M530.5 122.0L531.8 120.8L532.2 122.0Z" fill="url(#gc4)"/>
<path d="M592.9 122.0L594.9 119.8L594.5 122.0Z" fill="url(#gc2)"/>
<path d="M547.3 122.0L548.6 120.0L549.2 122.0Z" fill="url(#gc2)"/>
<path d="M537.4 122.1L538.6 118.5L539.1 122.1Z" fill="url(#gc3)"/>
<path d="M533.7 122.1L534.9 120.3L536.2 122.1Z" fill="url(#gc4)"/>
<path d="M581.3 122.2L582.2 119.2L583.1 122.2Z" fill="url(#gc2)"/>
<path d="M504.9 122.2L505.8 119.1L507.3 122.2Z" fill="url(#gc3)"/>
<path d="M554.7 122.3L556.7 120.5L557.3 122.3Z" fill="url(#gc1)"/>
<path d="M533.0 122.4L533.8 120.9L534.7 122.4Z" fill="url(#gc2)"/>
<path d="M559.6 122.4L561.8 115.7L561.5 122.4Z" fill="url(#gc5)"/>
<path d="M555.6 122.4L557.4 120.5L557.9 122.4Z" fill="url(#gc1)"/>
<path d="M538.1 122.5L540.7 120.9L540.8 122.5Z" fill="url(#gc1)"/>
<path d="M534.3 122.6L536.5 120.9L536.2 122.6Z" fill="url(#gc1)"/>
<path d="M559.4 122.6L560.5 121.3L561.7 122.6Z" fill="url(#gc3)"/>
<path d="M504.9 122.6L506.1 117.9L507.5 122.6Z" fill="url(#gc5)"/>
<path d="M509.6 122.8L512.0 117.2L512.2 122.8Z" fill="url(#gc3)"/>
<path d="M593.7 122.8L594.8 118.2L596.3 122.8Z" fill="url(#gc5)"/>
<path d="M600.1 122.9L601.5 120.7L601.8 122.9Z" fill="url(#gc2)"/>
<path d="M561.3 122.9L563.2 121.6L562.6 122.9Z" fill="url(#gc1)"/>
<path d="M548.5 123.1L549.5 118.5L551.1 123.1Z" fill="url(#gc5)"/>
<path d="M507.6 123.1L508.8 122.1L509.1 123.1Z" fill="url(#gc2)"/>
<path d="M555.3 123.1L556.3 119.8L557.3 123.1Z" fill="url(#gc3)"/>
<path d="M579.6 123.2L581.4 120.0L582.3 123.2Z" fill="url(#gc5)"/>
<path d="M514.5 123.2L516.7 118.4L516.9 123.2Z" fill="url(#gc2)"/>
<path d="M613.6 123.5L615.0 122.1L615.4 123.5Z" fill="url(#gc1)"/>
<path d="M594.3 123.5L596.7 121.0L596.9 123.5Z" fill="url(#gc1)"/>
<path d="M504.7 123.5L505.3 120.8L506.0 123.5Z" fill="url(#gc1)"/>
<path d="M554.2 123.6L555.9 122.4L556.9 123.6Z" fill="url(#gc3)"/>
<path d="M601.5 123.6L602.6 121.7L603.7 123.6Z" fill="url(#gc5)"/>
<path d="M598.5 123.7L599.5 121.5L599.8 123.7Z" fill="url(#gc3)"/>
<path d="M535.4 123.7L537.0 121.3L537.6 123.7Z" fill="url(#gc1)"/>
<path d="M535.7 123.7L538.3 121.0L538.4 123.7Z" fill="url(#gc1)"/>
<path d="M531.8 123.8L532.9 120.9L534.1 123.8Z" fill="url(#gc2)"/>
<path d="M607.2 123.8L608.9 122.0L609.1 123.8Z" fill="url(#gc2)"/>
<path d="M521.1 123.9L521.9 121.8L522.8 123.9Z" fill="url(#gc3)"/>
<path d="M541.2 123.9L543.7 122.8L543.8 123.9Z" fill="url(#gc2)"/>
<path d="M570.7 123.9L571.8 121.4L572.4 123.9Z" fill="url(#gc5)"/>
<path d="M508.8 123.9L509.6 119.8L510.2 123.9Z" fill="url(#gc1)"/>
<path d="M563.9 123.9L564.8 119.2L566.0 123.9Z" fill="url(#gc4)"/>
<path d="M519.6 124.0L520.6 121.6L522.2 124.0Z" fill="url(#gc1)"/>
<path d="M556.8 124.0L559.0 120.6L558.8 124.0Z" fill="url(#gc2)"/>
<path d="M577.8 124.1L579.1 117.1L580.2 124.1Z" fill="url(#gc2)"/>
<path d="M571.7 124.1L573.8 119.7L573.3 124.1Z" fill="url(#gc1)"/>
<path d="M526.9 124.1L528.2 121.7L528.3 124.1Z" fill="url(#gc2)"/>
<path d="M542.4 124.1L543.8 121.8L543.9 124.1Z" fill="url(#gc1)"/>
<path d="M518.7 124.2L520.2 119.8L520.7 124.2Z" fill="url(#gc5)"/>
<path d="M533.6 124.4L536.0 121.8L536.1 124.4Z" fill="url(#gc1)"/>
<path d="M590.0 124.4L591.7 120.9L592.5 124.4Z" fill="url(#gc1)"/>
<path d="M603.9 124.5L605.0 121.6L605.4 124.5Z" fill="url(#gc5)"/>
<path d="M511.1 124.6L513.1 120.3L512.9 124.6Z" fill="url(#gc1)"/>
<path d="M607.0 124.6L608.8 122.9L608.8 124.6Z" fill="url(#gc3)"/>
<path d="M558.2 124.6L559.5 123.0L560.6 124.6Z" fill="url(#gc2)"/>
<path d="M560.4 124.9L562.4 120.4L562.1 124.9Z" fill="url(#gc2)"/>
<path d="M592.8 124.9L594.3 122.0L595.1 124.9Z" fill="url(#gc2)"/>
<path d="M514.3 124.9L515.6 123.7L516.6 124.9Z" fill="url(#gc5)"/>
<path d="M502.8 125.0L504.0 122.8L504.4 125.0Z" fill="url(#gc1)"/>
<path d="M554.4 125.1L555.9 119.0L556.4 125.1Z" fill="url(#gc5)"/>
<path d="M567.8 125.1L569.0 120.9L569.8 125.1Z" fill="url(#gc1)"/>
<path d="M529.7 125.2L531.7 121.9L531.3 125.2Z" fill="url(#gc2)"/>
<path d="M524.1 125.2L525.6 123.9L525.7 125.2Z" fill="url(#gc1)"/>
<path d="M570.6 125.2L572.4 117.7L572.0 125.2Z" fill="url(#gc5)"/>
<path d="M550.4 125.2L552.6 123.2L552.3 125.2Z" fill="url(#gc2)"/>
<path d="M513.7 125.3L514.2 124.0L515.1 125.3Z" fill="url(#gc1)"/>
<path d="M582.8 125.3L583.8 118.5L584.3 125.3Z" fill="url(#gc1)"/>
<path d="M557.2 125.4L558.6 123.0L559.8 125.4Z" fill="url(#gc5)"/>
<path d="M581.7 125.4L582.6 122.5L583.0 125.4Z" fill="url(#gc1)"/>
<path d="M608.8 125.4L611.2 123.1L611.2 125.4Z" fill="url(#gc2)"/>
<path d="M548.5 125.4L549.7 124.1L550.3 125.4Z" fill="url(#gc1)"/>
<path d="M502.8 125.4L504.2 123.9L505.5 125.4Z" fill="url(#gc1)"/>
<path d="M559.3 125.5L561.0 121.1L561.2 125.5Z" fill="url(#gc1)"/>
<path d="M518.4 125.6L519.4 122.3L519.9 125.6Z" fill="url(#gc1)"/>
<path d="M520.0 125.7L520.7 122.2L521.5 125.7Z" fill="url(#gc3)"/>
<path d="M595.9 125.7L597.0 124.0L598.5 125.7Z" fill="url(#gc1)"/>
<path d="M610.7 125.7L612.8 122.2L613.4 125.7Z" fill="url(#gc5)"/>
<path d="M548.7 125.8L549.4 124.3L550.7 125.8Z" fill="url(#gc2)"/>
<path d="M516.3 125.8L517.3 121.7L518.6 125.8Z" fill="url(#gc2)"/>
<path d="M524.7 125.8L526.9 121.3L526.6 125.8Z" fill="url(#gc5)"/>
<path d="M551.6 125.8L552.8 123.2L553.6 125.8Z" fill="url(#gc2)"/>
<path d="M571.5 125.9L573.9 121.4L574.1 125.9Z" fill="url(#gc1)"/>
<path d="M538.7 125.9L540.1 123.7L540.7 125.9Z" fill="url(#gc1)"/>
<path d="M589.9 126.0L591.0 121.6L591.8 126.0Z" fill="url(#gc1)"/>
<path d="M548.8 126.0L550.3 122.5L550.9 126.0Z" fill="url(#gc5)"/>
<path d="M537.9 126.1L539.0 121.9L540.2 126.1Z" fill="url(#gc1)"/>
<path d="M582.2 126.2L583.7 121.5L584.2 126.2Z" fill="url(#gc1)"/>
<path d="M511.5 126.3L512.8 124.1L514.0 126.3Z" fill="url(#gc3)"/>
<path d="M560.4 126.3L561.6 125.4L562.7 126.3Z" fill="url(#gc1)"/>
<path d="M598.3 126.3L600.6 121.5L600.9 126.3Z" fill="url(#gc5)"/>
<path d="M562.4 126.4L563.0 122.9L564.0 126.4Z" fill="url(#gc2)"/>
<path d="M531.8 126.4L532.5 124.8L533.8 126.4Z" fill="url(#gc1)"/>
<path d="M583.8 126.6L584.6 123.8L585.7 126.6Z" fill="url(#gc1)"/>
<path d="M580.9 126.6L582.4 119.8L582.3 126.6Z" fill="url(#gc3)"/>
<path d="M553.4 126.7L554.6 123.1L555.2 126.7Z" fill="url(#gc1)"/>
<path d="M543.7 126.7L545.2 125.5L546.3 126.7Z" fill="url(#gc1)"/>
<path d="M562.2 126.7L563.3 124.6L564.6 126.7Z" fill="url(#gc5)"/>
<path d="M517.0 126.7L518.9 120.3L518.4 126.7Z" fill="url(#gc1)"/>
<path d="M586.4 126.7L588.7 124.1L589.0 126.7Z" fill="url(#gc4)"/>
<path d="M577.6 126.8L579.5 123.0L580.3 126.8Z" fill="url(#gc1)"/>
<path d="M598.3 126.8L599.5 123.6L599.6 126.8Z" fill="url(#gc1)"/>
<path d="M563.8 126.8L565.2 124.4L565.7 126.8Z" fill="url(#gc5)"/>
<path d="M589.4 126.8L590.6 123.8L590.9 126.8Z" fill="url(#gc5)"/>
<path d="M611.2 126.8L611.9 123.8L612.5 126.8Z" fill="url(#gc2)"/>
<path d="M594.8 126.9L595.5 124.2L596.7 126.9Z" fill="url(#gc1)"/>
<path d="M585.5 127.0L586.7 121.5L587.7 127.0Z" fill="url(#gc1)"/>
<path d="M591.9 127.1L593.9 125.3L594.4 127.1Z" fill="url(#gc5)"/>
<path d="M608.4 127.1L609.4 124.1L610.6 127.1Z" fill="url(#gc3)"/>
<path d="M552.8 127.1L554.6 124.3L554.7 127.1Z" fill="url(#gc1)"/>
<path d="M540.5 127.1L541.0 124.0L541.9 127.1Z" fill="url(#gc5)"/>
<path d="M600.0 127.2L601.6 125.4L601.8 127.2Z" fill="url(#gc5)"/>
<path d="M596.8 127.2L599.0 123.8L598.7 127.2Z" fill="url(#gc1)"/>
<path d="M554.5 127.2L556.1 124.7L556.0 127.2Z" fill="url(#gc3)"/>
<path d="M548.5 127.3L549.3 125.8L549.9 127.3Z" fill="url(#gc3)"/>
<path d="M572.9 127.4L574.6 123.7L574.5 127.4Z" fill="url(#gc5)"/>
<path d="M557.7 127.4L559.2 125.5L559.9 127.4Z" fill="url(#gc1)"/>
<path d="M575.8 127.5L578.1 122.4L578.5 127.5Z" fill="url(#gc3)"/>
<path d="M568.8 127.5L571.0 123.3L570.9 127.5Z" fill="url(#gc5)"/>
<path d="M533.7 127.5L534.6 124.5L535.8 127.5Z" fill="url(#gc1)"/>
<path d="M533.7 127.6L534.3 125.1L535.1 127.6Z" fill="url(#gc1)"/>
<path d="M546.2 127.6L547.3 124.2L548.1 127.6Z" fill="url(#gc5)"/>
<path d="M589.0 127.6L590.4 121.8L591.3 127.6Z" fill="url(#gc2)"/>
<path d="M510.7 127.7L512.4 124.6L513.5 127.7Z" fill="url(#gc1)"/>
<path d="M545.9 127.7L546.8 126.5L548.1 127.7Z" fill="url(#gc1)"/>
<path d="M529.0 127.7L531.0 124.5L530.4 127.7Z" fill="url(#gc5)"/>
<path d="M611.3 127.7L612.6 125.6L613.4 127.7Z" fill="url(#gc1)"/>
<path d="M547.1 127.8L548.5 124.9L549.5 127.8Z" fill="url(#gc2)"/>
<path d="M519.9 127.9L520.8 124.4L522.1 127.9Z" fill="url(#gc3)"/>
<path d="M604.6 127.9L606.6 126.0L606.5 127.9Z" fill="url(#gc5)"/>
<path d="M502.3 128.0L503.7 122.8L504.9 128.0Z" fill="url(#gc1)"/>
<path d="M511.1 128.0L513.1 124.1L512.7 128.0Z" fill="url(#gc5)"/>
<path d="M524.6 128.1L525.7 125.8L527.1 128.1Z" fill="url(#gc1)"/>
<path d="M522.4 128.1L523.9 123.9L524.3 128.1Z" fill="url(#gc2)"/>
<path d="M566.8 128.1L568.9 123.1L569.5 128.1Z" fill="url(#gc3)"/>
<path d="M597.7 128.1L600.0 127.2L600.2 128.1Z" fill="url(#gc3)"/>
<path d="M527.8 128.1L528.9 124.4L530.5 128.1Z" fill="url(#gc5)"/>
<path d="M568.9 128.2L569.5 125.2L570.7 128.2Z" fill="url(#gc2)"/>
<path d="M525.4 128.3L527.5 124.7L527.6 128.3Z" fill="url(#gc2)"/>
<path d="M510.2 128.3L511.4 125.1L512.9 128.3Z" fill="url(#gc1)"/>
<path d="M567.7 128.4L568.5 125.1L569.9 128.4Z" fill="url(#gc1)"/>
<path d="M572.9 128.4L574.1 125.5L575.0 128.4Z" fill="url(#gc2)"/>
<path d="M513.9 128.4L514.9 126.6L516.5 128.4Z" fill="url(#gc1)"/>
<path d="M599.1 128.5L600.0 123.7L600.7 128.5Z" fill="url(#gc1)"/>
<path d="M512.9 128.5L513.9 127.0L515.1 128.5Z" fill="url(#gc2)"/>
<path d="M562.8 128.7L565.1 122.4L565.6 128.7Z" fill="url(#gc5)"/>
<path d="M568.9 128.7L570.8 125.4L571.3 128.7Z" fill="url(#gc1)"/>
<path d="M571.1 128.8L573.5 122.1L573.6 128.8Z" fill="url(#gc1)"/>
<path d="M580.7 128.8L583.0 126.2L583.1 128.8Z" fill="url(#gc5)"/>
<path d="M524.0 128.9L525.7 125.2L526.8 128.9Z" fill="url(#gc1)"/>
<path d="M562.5 128.9L564.3 125.4L565.2 128.9Z" fill="url(#gc1)"/>
<path d="M596.4 128.9L598.7 124.0L598.6 128.9Z" fill="url(#gc2)"/>
<path d="M590.4 129.0L592.1 126.6L591.8 129.0Z" fill="url(#gc2)"/>
<path d="M551.9 129.0L553.6 126.2L554.3 129.0Z" fill="url(#gc4)"/>
<path d="M534.8 129.0L536.8 127.9L537.5 129.0Z" fill="url(#gc1)"/>
<path d="M602.3 129.0L604.3 127.6L603.7 129.0Z" fill="url(#gc1)"/>
<path d="M566.1 129.1L566.7 126.9L567.9 129.1Z" fill="url(#gc1)"/>
<path d="M537.3 129.1L539.4 127.4L539.8 129.1Z" fill="url(#gc1)"/>
<path d="M605.7 129.1L606.1 127.8L607.0 129.1Z" fill="url(#gc5)"/>
<path d="M578.3 129.2L579.8 122.9L580.1 129.2Z" fill="url(#gc2)"/>
<path d="M552.1 129.4L554.0 127.6L553.4 129.4Z" fill="url(#gc1)"/>
<path d="M603.4 129.4L604.5 128.3L605.2 129.4Z" fill="url(#gc1)"/>
<path d="M589.6 129.4L592.1 127.3L592.3 129.4Z" fill="url(#gc5)"/>
<path d="M602.4 129.4L603.4 127.7L604.3 129.4Z" fill="url(#gc5)"/>
<path d="M591.8 129.5L592.9 126.6L593.6 129.5Z" fill="url(#gc5)"/>
<path d="M548.3 129.5L549.8 127.7L550.7 129.5Z" fill="url(#gc1)"/>
<path d="M509.9 129.7L511.6 124.9L511.7 129.7Z" fill="url(#gc4)"/>
<path d="M550.0 129.7L551.8 126.1L552.5 129.7Z" fill="url(#gc4)"/>
<path d="M552.9 129.7L554.7 127.7L554.5 129.7Z" fill="url(#gc2)"/>
<path d="M527.6 129.8L528.8 126.9L529.8 129.8Z" fill="url(#gc1)"/>
<path d="M566.3 129.8L568.0 128.2L567.6 129.8Z" fill="url(#gc3)"/>
<path d="M528.8 129.8L530.3 126.1L530.4 129.8Z" fill="url(#gc3)"/>
<path d="M518.6 129.9L520.1 126.3L520.5 129.9Z" fill="url(#gc1)"/>
<path d="M533.1 129.9L534.5 127.7L535.8 129.9Z" fill="url(#gc5)"/>
<path d="M512.0 129.9L514.3 125.6L514.2 129.9Z" fill="url(#gc3)"/>
<path d="M602.8 129.9L603.7 127.2L604.2 129.9Z" fill="url(#gc2)"/>
<path d="M612.0 129.9L612.4 127.1L613.4 129.9Z" fill="url(#gc3)"/>
<path d="M576.3 130.0L577.8 124.8L577.8 130.0Z" fill="url(#gc5)"/>
<path d="M544.3 130.2L546.2 129.1L547.0 130.2Z" fill="url(#gc1)"/>
<path d="M529.5 130.2L531.1 126.6L531.4 130.2Z" fill="url(#gc1)"/>
<path d="M505.6 130.2L506.7 128.2L508.1 130.2Z" fill="url(#gc1)"/>
<path d="M593.0 130.2L594.0 124.0L595.1 130.2Z" fill="url(#gc5)"/>
<path d="M530.1 130.2L531.3 125.4L532.5 130.2Z" fill="url(#gc1)"/>
<path d="M528.1 130.3L529.9 127.6L530.7 130.3Z" fill="url(#gc3)"/>
<path d="M540.4 130.3L542.8 126.6L543.2 130.3Z" fill="url(#gc3)"/>
<path d="M526.9 130.3L528.8 127.9L529.5 130.3Z" fill="url(#gc1)"/>
<path d="M573.2 130.4L574.7 126.1L575.6 130.4Z" fill="url(#gc5)"/>
<path d="M564.0 130.4L564.9 127.9L565.8 130.4Z" fill="url(#gc1)"/>
<path d="M577.3 130.4L579.2 127.1L579.8 130.4Z" fill="url(#gc1)"/>
<path d="M583.9 130.5L586.0 125.6L585.7 130.5Z" fill="url(#gc5)"/>
<path d="M513.2 130.5L515.2 124.4L515.1 130.5Z" fill="url(#gc1)"/>
<path d="M526.4 130.5L527.6 126.1L528.3 130.5Z" fill="url(#gc3)"/>
<path d="M549.8 130.5L550.9 127.6L551.7 130.5Z" fill="url(#gc3)"/>
<path d="M564.3 130.5L566.4 126.6L566.1 130.5Z" fill="url(#gc5)"/>
<path d="M565.9 130.6L567.7 126.0L568.2 130.6Z" fill="url(#gc3)"/>
<path d="M555.7 130.7L557.1 127.3L558.4 130.7Z" fill="url(#gc2)"/>
<path d="M532.0 130.9L533.7 126.9L534.4 130.9Z" fill="url(#gc1)"/>
<path d="M556.7 131.0L558.4 126.0L558.4 131.0Z" fill="url(#gc1)"/>
<path d="M511.1 131.0L512.1 129.3L512.5 131.0Z" fill="url(#gc3)"/>
<path d="M584.1 131.0L584.9 126.8L585.6 131.0Z" fill="url(#gc3)"/>
<path d="M552.2 131.2L553.2 128.8L554.5 131.2Z" fill="url(#gc4)"/>
<path d="M607.0 131.4L608.3 130.3L608.5 131.4Z" fill="url(#gc1)"/>
<path d="M522.5 131.4L524.9 127.5L525.0 131.4Z" fill="url(#gc1)"/>
<path d="M557.1 131.5L559.5 128.3L559.4 131.5Z" fill="url(#gc1)"/>
<path d="M592.7 131.5L594.2 124.9L594.3 131.5Z" fill="url(#gc1)"/>
<path d="M557.5 131.6L559.5 129.6L560.1 131.6Z" fill="url(#gc1)"/>
<path d="M542.8 131.6L544.8 129.5L545.1 131.6Z" fill="url(#gc3)"/>
<path d="M586.4 131.7L588.0 128.2L588.7 131.7Z" fill="url(#gc4)"/>
<path d="M584.6 131.7L585.8 129.0L586.5 131.7Z" fill="url(#gc2)"/>
<path d="M519.7 131.7L520.7 129.1L521.3 131.7Z" fill="url(#gc1)"/>
<path d="M524.8 131.7L525.2 128.5L526.1 131.7Z" fill="url(#gc1)"/>
<path d="M602.8 131.7L603.8 130.3L604.5 131.7Z" fill="url(#gc1)"/>
<path d="M522.5 131.9L524.5 128.8L525.1 131.9Z" fill="url(#gc4)"/>
<path d="M540.9 131.9L542.2 131.2L543.3 131.9Z" fill="url(#gc2)"/>
<path d="M602.1 132.0L603.0 130.4L604.3 132.0Z" fill="url(#gc5)"/>
<path d="M594.9 132.0L597.2 128.7L597.5 132.0Z" fill="url(#gc1)"/>
<path d="M522.2 132.1L524.7 128.7L524.8 132.1Z" fill="url(#gc1)"/>
<path d="M574.6 132.1L576.5 130.1L576.4 132.1Z" fill="url(#gc1)"/>
<path d="M533.2 132.1L535.4 128.6L535.1 132.1Z" fill="url(#gc4)"/>
<path d="M574.5 132.2L575.7 126.6L576.8 132.2Z" fill="url(#gc3)"/>
<path d="M597.5 132.2L598.7 129.9L599.6 132.2Z" fill="url(#gc2)"/>
<path d="M513.8 132.2L515.9 130.6L516.3 132.2Z" fill="url(#gc5)"/>
<path d="M572.5 132.2L574.2 125.0L573.9 132.2Z" fill="url(#gc2)"/>
<path d="M571.9 132.3L573.5 127.0L573.4 132.3Z" fill="url(#gc5)"/>
<path d="M535.3 132.4L536.1 131.0L537.0 132.4Z" fill="url(#gc3)"/>
<path d="M597.5 132.5L598.6 127.5L599.3 132.5Z" fill="url(#gc2)"/>
<path d="M587.0 132.5L588.8 125.9L588.8 132.5Z" fill="url(#gc1)"/>
<path d="M594.7 132.5L596.3 128.0L596.2 132.5Z" fill="url(#gc4)"/>
<path d="M610.3 132.6L612.3 131.4L612.4 132.6Z" fill="url(#gc3)"/>
<path d="M531.5 132.6L532.3 129.7L533.5 132.6Z" fill="url(#gc1)"/>
<path d="M531.5 132.6L533.0 127.9L533.4 132.6Z" fill="url(#gc5)"/>
<path d="M601.5 132.7L604.1 130.3L604.1 132.7Z" fill="url(#gc2)"/>
<path d="M584.0 132.7L585.1 128.5L586.3 132.7Z" fill="url(#gc3)"/>
<path d="M568.5 132.8L569.1 129.0L570.2 132.8Z" fill="url(#gc3)"/>
<path d="M573.6 133.0L574.9 124.4L575.7 133.0Z" fill="url(#gc2)"/>
<path d="M524.2 133.0L526.5 130.5L526.3 133.0Z" fill="url(#gc4)"/>
<path d="M597.5 133.1L599.7 128.4L600.0 133.1Z" fill="url(#gc2)"/>
<path d="M589.0 133.1L589.8 130.2L591.1 133.1Z" fill="url(#gc2)"/>
<path d="M509.4 133.2L511.6 126.9L512.0 133.2Z" fill="url(#gc1)"/>
<path d="M567.3 133.3L568.3 130.7L570.0 133.3Z" fill="url(#gc1)"/>
<path d="M569.0 133.6L570.3 130.3L570.9 133.6Z" fill="url(#gc2)"/>
<path d="M566.9 133.6L568.7 131.8L568.2 133.6Z" fill="url(#gc2)"/>
<path d="M514.7 133.6L515.8 130.6L517.1 133.6Z" fill="url(#gc4)"/>
<path d="M596.3 133.7L597.8 129.6L598.0 133.7Z" fill="url(#gc2)"/>
<path d="M587.7 133.8L590.2 129.2L590.3 133.8Z" fill="url(#gc2)"/>
<path d="M518.3 133.8L520.2 129.7L520.1 133.8Z" fill="url(#gc1)"/>
<path d="M561.0 133.9L563.0 131.9L563.6 133.9Z" fill="url(#gc2)"/>
<path d="M591.0 133.9L592.1 130.0L592.6 133.9Z" fill="url(#gc5)"/>
<path d="M562.8 134.0L563.8 131.6L564.6 134.0Z" fill="url(#gc5)"/>
<path d="M526.2 134.1L527.3 132.6L528.4 134.1Z" fill="url(#gc2)"/>
<path d="M586.2 134.1L588.2 131.2L588.6 134.1Z" fill="url(#gc5)"/>
<path d="M566.0 134.1L567.9 130.2L568.4 134.1Z" fill="url(#gc3)"/>
<path d="M585.0 134.2L586.9 126.0L587.7 134.2Z" fill="url(#gc3)"/>
<path d="M567.9 134.2L568.9 132.3L570.0 134.2Z" fill="url(#gc3)"/>
<path d="M525.7 134.2L527.5 130.1L527.6 134.2Z" fill="url(#gc2)"/>
<path d="M539.4 134.2L541.6 131.9L541.5 134.2Z" fill="url(#gc2)"/>
<path d="M511.6 134.4L512.9 130.1L513.6 134.4Z" fill="url(#gc4)"/>
<path d="M586.3 134.4L588.1 131.8L588.5 134.4Z" fill="url(#gc1)"/>
<path d="M528.4 134.5L530.2 132.8L530.8 134.5Z" fill="url(#gc5)"/>
<path d="M539.8 134.7L542.1 133.9L542.1 134.7Z" fill="url(#gc1)"/>
<path d="M544.5 134.7L545.4 131.3L546.6 134.7Z" fill="url(#gc3)"/>
<path d="M576.2 134.7L578.1 127.8L578.8 134.7Z" fill="url(#gc1)"/>
<path d="M578.2 135.0L580.1 128.4L579.6 135.0Z" fill="url(#gc4)"/>
<path d="M575.2 135.0L577.1 133.7L576.9 135.0Z" fill="url(#gc5)"/>
<path d="M584.7 135.1L586.4 130.0L586.9 135.1Z" fill="url(#gc5)"/>
<path d="M598.5 135.2L600.7 133.6L601.2 135.2Z" fill="url(#gc5)"/>
<path d="M527.7 135.3L528.5 131.9L529.7 135.3Z" fill="url(#gc2)"/>
<path d="M549.8 135.3L552.1 133.5L552.0 135.3Z" fill="url(#gc2)"/>
<path d="M589.6 135.3L591.6 133.1L592.3 135.3Z" fill="url(#gc4)"/>
<path d="M603.7 135.3L606.1 133.5L606.4 135.3Z" fill="url(#gc3)"/>
<path d="M599.8 135.3L601.7 131.9L602.1 135.3Z" fill="url(#gc1)"/>
<path d="M573.9 135.4L575.9 132.9L576.6 135.4Z" fill="url(#gc1)"/>
<path d="M529.2 135.4L530.8 132.2L530.9 135.4Z" fill="url(#gc1)"/>
<path d="M516.0 135.5L517.6 130.3L517.9 135.5Z" fill="url(#gc5)"/>
<path d="M606.1 135.5L608.2 133.1L608.8 135.5Z" fill="url(#gc3)"/>
<path d="M598.1 135.7L598.7 133.7L599.9 135.7Z" fill="url(#gc2)"/>
<path d="M563.2 135.8L564.7 132.7L564.7 135.8Z" fill="url(#gc1)"/>
<path d="M574.8 135.8L576.2 133.9L577.2 135.8Z" fill="url(#gc2)"/>
<path d="M518.3 136.0L519.8 132.3L521.0 136.0Z" fill="url(#gc4)"/>
<path d="M527.1 136.0L529.8 132.1L529.8 136.0Z" fill="url(#gc5)"/>
<path d="M555.0 136.1L556.1 134.2L556.4 136.1Z" fill="url(#gc1)"/>
<path d="M522.4 136.2L523.5 131.9L524.5 136.2Z" fill="url(#gc2)"/>
<path d="M511.9 136.2L513.5 133.9L514.6 136.2Z" fill="url(#gc3)"/>
<path d="M546.1 136.4L547.6 135.2L548.6 136.4Z" fill="url(#gc1)"/>
<path d="M536.0 136.4L537.4 135.3L537.8 136.4Z" fill="url(#gc2)"/>
<path d="M588.2 136.4L589.3 128.7L589.6 136.4Z" fill="url(#gc1)"/>
<path d="M535.6 136.4L537.5 132.7L537.5 136.4Z" fill="url(#gc4)"/>
<path d="M525.7 136.4L527.4 132.6L528.2 136.4Z" fill="url(#gc1)"/>
<path d="M595.9 136.5L597.8 133.0L597.3 136.5Z" fill="url(#gc2)"/>
<path d="M542.5 136.5L544.1 135.6L544.1 136.5Z" fill="url(#gc5)"/>
<path d="M541.5 136.6L542.8 135.0L543.7 136.6Z" fill="url(#gc1)"/>
<path d="M588.7 136.7L589.1 131.1L590.2 136.7Z" fill="url(#gc1)"/>
<path d="M547.1 136.7L548.6 132.7L549.3 136.7Z" fill="url(#gc3)"/>
<path d="M564.4 136.7L565.2 133.9L566.4 136.7Z" fill="url(#gc1)"/>
<path d="M573.0 136.8L574.3 134.6L574.4 136.8Z" fill="url(#gc1)"/>
<path d="M513.5 136.8L514.6 135.1L515.2 136.8Z" fill="url(#gc3)"/>
<path d="M544.5 136.8L545.7 134.1L545.9 136.8Z" fill="url(#gc5)"/>
<path d="M515.1 136.9L515.8 132.7L517.1 136.9Z" fill="url(#gc1)"/>
<path d="M526.7 136.9L528.6 132.3L528.2 136.9Z" fill="url(#gc5)"/>
<path d="M564.3 136.9L565.4 132.5L566.9 136.9Z" fill="url(#gc2)"/>
<path d="M545.9 137.0L547.7 134.1L547.7 137.0Z" fill="url(#gc3)"/>
<path d="M552.0 137.1L552.9 134.4L553.6 137.1Z" fill="url(#gc1)"/>
<path d="M521.3 137.1L522.3 134.0L523.1 137.1Z" fill="url(#gc4)"/>
<path d="M522.2 137.3L523.3 134.4L524.1 137.3Z" fill="url(#gc4)"/>
<path d="M608.9 137.4L610.4 135.7L610.6 137.4Z" fill="url(#gc1)"/>
<path d="M530.7 137.4L532.3 134.6L532.2 137.4Z" fill="url(#gc1)"/>
<path d="M533.7 137.4L534.3 134.9L535.1 137.4Z" fill="url(#gc5)"/>
<path d="M588.6 137.6L589.4 134.2L590.9 137.6Z" fill="url(#gc2)"/>
<path d="M604.2 137.7L606.4 135.7L606.9 137.7Z" fill="url(#gc5)"/>
<path d="M555.9 137.8L557.9 136.9L557.7 137.8Z" fill="url(#gc5)"/>
<path d="M576.6 137.9L578.6 134.5L578.9 137.9Z" fill="url(#gc1)"/>
<path d="M555.0 138.0L557.0 134.5L557.8 138.0Z" fill="url(#gc5)"/>
<path d="M539.8 138.0L540.8 136.8L541.7 138.0Z" fill="url(#gc1)"/>
<path d="M541.0 138.0L542.2 134.5L543.5 138.0Z" fill="url(#gc3)"/>
<path d="M541.2 138.0L543.5 135.6L543.6 138.0Z" fill="url(#gc1)"/>
<path d="M556.4 138.1L558.5 136.3L559.1 138.1Z" fill="url(#gc2)"/>
<path d="M528.3 138.1L529.4 135.4L529.7 138.1Z" fill="url(#gc1)"/>
<path d="M554.7 138.2L556.7 137.0L556.2 138.2Z" fill="url(#gc1)"/>
<path d="M559.3 138.2L561.3 136.4L561.1 138.2Z" fill="url(#gc1)"/>
<path d="M515.9 138.3L517.8 136.4L517.8 138.3Z" fill="url(#gc1)"/>
<path d="M549.9 138.4L550.6 137.0L551.6 138.4Z" fill="url(#gc2)"/>
<path d="M540.4 138.4L541.7 137.5L542.7 138.4Z" fill="url(#gc4)"/>
<path d="M569.3 138.4L571.7 135.9L571.9 138.4Z" fill="url(#gc5)"/>
<path d="M517.8 138.5L520.1 135.2L520.3 138.5Z" fill="url(#gc3)"/>
<path d="M540.0 138.5L540.6 136.7L541.7 138.5Z" fill="url(#gc2)"/>
<path d="M550.0 138.5L550.6 137.1L551.7 138.5Z" fill="url(#gc1)"/>
<path d="M526.3 138.6L528.6 136.9L528.9 138.6Z" fill="url(#gc1)"/>
<path d="M530.1 138.7L531.8 135.2L532.6 138.7Z" fill="url(#gc3)"/>
<path d="M537.8 138.7L539.6 136.3L539.6 138.7Z" fill="url(#gc2)"/>
<path d="M541.1 138.8L543.6 135.8L543.8 138.8Z" fill="url(#gc1)"/>
<path d="M565.6 138.8L566.9 135.5L568.1 138.8Z" fill="url(#gc3)"/>
<path d="M560.9 138.9L561.6 137.6L562.5 138.9Z" fill="url(#gc4)"/>
<path d="M571.4 139.0L573.1 135.5L573.5 139.0Z" fill="url(#gc3)"/>
<path d="M522.9 139.0L524.7 137.5L525.6 139.0Z" fill="url(#gc1)"/>
<path d="M587.0 139.1L588.9 134.9L589.5 139.1Z" fill="url(#gc4)"/>
<path d="M554.9 139.2L556.2 136.5L557.1 139.2Z" fill="url(#gc1)"/>
<path d="M599.3 139.2L601.1 135.2L601.0 139.2Z" fill="url(#gc1)"/>
<path d="M567.0 139.2L568.8 137.8L568.5 139.2Z" fill="url(#gc1)"/>
<path d="M560.5 139.3L562.2 136.3L562.1 139.3Z" fill="url(#gc5)"/>
<path d="M588.5 139.3L589.1 131.4L590.3 139.3Z" fill="url(#gc5)"/>
<path d="M553.2 139.3L555.2 138.3L555.0 139.3Z" fill="url(#gc2)"/>
<path d="M519.2 139.4L521.0 138.3L520.5 139.4Z" fill="url(#gc5)"/>
<path d="M552.6 139.5L553.8 136.8L554.9 139.5Z" fill="url(#gc2)"/>
<path d="M594.4 139.6L595.7 134.9L596.0 139.6Z" fill="url(#gc1)"/>
<path d="M606.2 139.6L608.2 138.9L607.8 139.6Z" fill="url(#gc1)"/>
<path d="M533.7 139.6L534.8 137.1L535.6 139.6Z" fill="url(#gc4)"/>
<path d="M560.3 139.6L561.6 137.7L562.3 139.6Z" fill="url(#gc3)"/>
<path d="M562.5 139.6L563.3 138.1L564.1 139.6Z" fill="url(#gc1)"/>
<path d="M603.6 139.7L605.3 138.6L605.9 139.7Z" fill="url(#gc5)"/>
<path d="M543.9 139.7L544.9 136.3L545.7 139.7Z" fill="url(#gc3)"/>
<path d="M552.0 139.7L553.2 138.5L554.8 139.7Z" fill="url(#gc3)"/>
<path d="M541.5 139.7L542.6 137.4L544.1 139.7Z" fill="url(#gc1)"/>
<path d="M564.8 139.8L567.2 138.6L567.3 139.8Z" fill="url(#gc5)"/>
<path d="M527.1 139.8L528.4 138.3L528.7 139.8Z" fill="url(#gc2)"/>
<path d="M585.2 139.9L587.1 135.6L587.5 139.9Z" fill="url(#gc5)"/>
<path d="M606.0 140.0L608.6 137.9L608.5 140.0Z" fill="url(#gc1)"/>
<path d="M540.8 140.0L542.1 139.1L542.1 140.0Z" fill="url(#gc1)"/>
<path d="M519.9 140.1L521.2 136.3L521.5 140.1Z" fill="url(#gc2)"/>
<path d="M563.6 140.1L565.3 137.5L566.1 140.1Z" fill="url(#gc2)"/>
<path d="M592.6 140.2L594.5 131.8L595.3 140.2Z" fill="url(#gc1)"/>
<path d="M583.3 140.3L585.4 131.8L586.0 140.3Z" fill="url(#gc5)"/>
<path d="M532.7 140.3L534.7 137.6L534.3 140.3Z" fill="url(#gc4)"/>
<path d="M600.2 140.5L602.2 134.9L602.4 140.5Z" fill="url(#gc3)"/>
<path d="M534.9 140.5L537.2 136.2L537.0 140.5Z" fill="url(#gc4)"/>
<path d="M541.1 140.5L541.9 138.1L543.1 140.5Z" fill="url(#gc3)"/>
<path d="M583.2 140.5L584.4 137.1L585.7 140.5Z" fill="url(#gc2)"/>
<path d="M532.6 140.6L534.9 135.6L535.2 140.6Z" fill="url(#gc3)"/>
<path d="M534.6 140.8L535.8 139.4L537.3 140.8Z" fill="url(#gc4)"/>
<path d="M555.6 140.8L557.7 139.8L557.8 140.8Z" fill="url(#gc1)"/>
<path d="M557.9 140.8L559.1 139.9L559.9 140.8Z" fill="url(#gc5)"/>
<path d="M575.6 140.9L577.9 138.4L577.6 140.9Z" fill="url(#gc3)"/>
<path d="M583.2 141.0L584.2 134.0L585.7 141.0Z" fill="url(#gc5)"/>
<path d="M550.9 141.0L553.4 139.8L553.3 141.0Z" fill="url(#gc2)"/>
<path d="M549.7 141.2L550.9 139.2L551.5 141.2Z" fill="url(#gc2)"/>
<path d="M585.7 141.4L587.3 138.3L588.0 141.4Z" fill="url(#gc4)"/>
<path d="M543.8 141.4L545.3 140.2L545.5 141.4Z" fill="url(#gc2)"/>
<path d="M542.0 141.5L543.2 139.3L543.8 141.5Z" fill="url(#gc4)"/>
<path d="M546.2 141.5L547.3 140.6L548.3 141.5Z" fill="url(#gc3)"/>
<path d="M565.5 141.5L566.4 139.8L567.8 141.5Z" fill="url(#gc1)"/>
<path d="M573.0 141.6L573.8 136.0L574.4 141.6Z" fill="url(#gc2)"/>
<path d="M540.2 141.7L542.1 137.7L541.9 141.7Z" fill="url(#gc2)"/>
<path d="M549.0 141.7L550.0 138.9L551.1 141.7Z" fill="url(#gc4)"/>
<path d="M560.8 141.9L562.3 140.8L563.3 141.9Z" fill="url(#gc3)"/>
<path d="M535.4 141.9L536.6 140.5L537.1 141.9Z" fill="url(#gc2)"/>
<path d="M578.3 142.0L579.4 135.8L581.0 142.0Z" fill="url(#gc2)"/>
<path d="M520.5 142.2L522.4 138.9L522.7 142.2Z" fill="url(#gc3)"/>
<path d="M564.9 142.2L567.0 139.3L567.2 142.2Z" fill="url(#gc2)"/>
<path d="M586.2 142.3L588.1 135.1L587.7 142.3Z" fill="url(#gc4)"/>
<path d="M557.8 142.4L558.8 139.9L560.3 142.4Z" fill="url(#gc1)"/>
<path d="M557.8 142.4L559.2 141.1L559.1 142.4Z" fill="url(#gc1)"/>
<path d="M558.1 142.4L560.2 140.0L560.6 142.4Z" fill="url(#gc3)"/>
<path d="M571.5 142.5L572.7 139.4L573.4 142.5Z" fill="url(#gc2)"/>
<path d="M588.8 142.5L591.0 135.4L590.8 142.5Z" fill="url(#gc2)"/>
<path d="M559.4 142.7L560.3 140.3L561.2 142.7Z" fill="url(#gc4)"/>
<path d="M581.1 142.7L582.5 136.9L583.9 142.7Z" fill="url(#gc1)"/>
<path d="M582.3 142.7L584.5 135.5L585.0 142.7Z" fill="url(#gc2)"/>
<path d="M560.7 142.8L562.6 142.0L562.3 142.8Z" fill="url(#gc2)"/>
<path d="M535.1 142.9L536.8 139.9L537.5 142.9Z" fill="url(#gc4)"/>
<path d="M574.5 142.9L575.5 139.7L576.2 142.9Z" fill="url(#gc1)"/>
<path d="M579.4 143.0L581.1 139.3L580.7 143.0Z" fill="url(#gc2)"/>
<path d="M536.5 143.0L538.6 139.3L538.8 143.0Z" fill="url(#gc2)"/>
<path d="M535.6 143.1L537.4 139.4L537.5 143.1Z" fill="url(#gc1)"/>
<path d="M589.1 143.2L590.1 139.1L591.3 143.2Z" fill="url(#gc2)"/>
<path d="M524.3 143.3L525.1 141.1L525.6 143.3Z" fill="url(#gc4)"/>
<path d="M553.9 143.3L555.2 142.5L556.1 143.3Z" fill="url(#gc1)"/>
<path d="M528.8 143.3L530.3 142.4L531.5 143.3Z" fill="url(#gc5)"/>
<path d="M557.3 143.4L558.4 141.7L558.6 143.4Z" fill="url(#gc1)"/>
<path d="M564.1 143.6L565.7 141.9L566.8 143.6Z" fill="url(#gc4)"/>
<path d="M542.1 143.8L543.5 142.0L544.3 143.8Z" fill="url(#gc5)"/>
<path d="M547.0 143.9L548.6 142.0L549.4 143.9Z" fill="url(#gc2)"/>
<path d="M522.9 143.9L523.8 139.2L524.4 143.9Z" fill="url(#gc4)"/>
<path d="M560.6 143.9L562.6 142.8L563.3 143.9Z" fill="url(#gc1)"/>
<path d="M598.1 144.0L600.5 140.0L600.5 144.0Z" fill="url(#gc4)"/>
<path d="M543.9 144.0L545.5 141.8L545.7 144.0Z" fill="url(#gc2)"/>
<path d="M541.1 144.0L542.2 141.4L543.8 144.0Z" fill="url(#gc5)"/>
<path d="M561.2 144.0L562.7 142.7L563.3 144.0Z" fill="url(#gc4)"/>
<path d="M561.8 144.0L562.7 141.6L564.1 144.0Z" fill="url(#gc4)"/>
<path d="M595.6 144.0L596.8 137.8L598.1 144.0Z" fill="url(#gc1)"/>
<path d="M593.6 144.1L595.2 142.4L595.3 144.1Z" fill="url(#gc1)"/>
<path d="M602.8 144.1L604.3 143.0L605.0 144.1Z" fill="url(#gc3)"/>
<path d="M588.5 144.2L590.0 137.9L589.9 144.2Z" fill="url(#gc3)"/>
<path d="M563.9 144.3L566.1 143.6L566.2 144.3Z" fill="url(#gc2)"/>
<path d="M587.8 144.3L589.0 139.0L589.5 144.3Z" fill="url(#gc4)"/>
<path d="M575.5 144.3L577.5 143.2L577.4 144.3Z" fill="url(#gc2)"/>
<path d="M602.3 144.6L603.9 143.2L605.0 144.6Z" fill="url(#gc2)"/>
<path d="M595.2 144.7L596.3 142.3L597.3 144.7Z" fill="url(#gc1)"/>
<path d="M541.4 144.7L542.4 141.5L543.2 144.7Z" fill="url(#gc1)"/>
<path d="M558.5 144.9L559.4 143.3L560.4 144.9Z" fill="url(#gc1)"/>
<path d="M525.7 144.9L526.7 139.7L527.5 144.9Z" fill="url(#gc5)"/>
<path d="M561.0 145.0L561.3 143.8L562.3 145.0Z" fill="url(#gc2)"/>
<path d="M592.4 145.1L594.4 142.5L594.1 145.1Z" fill="url(#gc5)"/>
<path d="M557.7 145.1L558.6 143.6L560.0 145.1Z" fill="url(#gc2)"/>
<path d="M575.6 145.1L577.5 142.0L577.6 145.1Z" fill="url(#gc1)"/>
<path d="M577.7 145.1L578.6 143.0L579.3 145.1Z" fill="url(#gc1)"/>
<path d="M584.0 145.3L586.4 140.5L586.6 145.3Z" fill="url(#gc3)"/>
<path d="M595.7 145.3L597.6 143.1L598.3 145.3Z" fill="url(#gc5)"/>
<path d="M582.5 145.3L584.1 140.2L584.5 145.3Z" fill="url(#gc5)"/>
<path d="M570.4 145.3L572.0 142.6L572.1 145.3Z" fill="url(#gc2)"/>
<path d="M568.6 145.3L569.9 143.7L570.6 145.3Z" fill="url(#gc3)"/>
<path d="M532.2 145.4L534.1 139.8L533.9 145.4Z" fill="url(#gc2)"/>
<path d="M564.8 145.4L566.3 143.4L567.5 145.4Z" fill="url(#gc2)"/>
<path d="M563.1 145.5L564.8 142.5L565.2 145.5Z" fill="url(#gc5)"/>
<path d="M550.7 145.5L552.6 143.4L553.5 145.5Z" fill="url(#gc1)"/>
<path d="M527.1 145.6L528.9 142.4L529.7 145.6Z" fill="url(#gc1)"/>
<path d="M557.7 145.6L558.3 144.2L559.3 145.6Z" fill="url(#gc3)"/>
<path d="M564.5 145.7L565.6 144.5L567.1 145.7Z" fill="url(#gc2)"/>
<path d="M534.0 145.8L535.2 144.5L536.8 145.8Z" fill="url(#gc4)"/>
<path d="M567.2 145.8L568.0 143.5L569.3 145.8Z" fill="url(#gc1)"/>
<path d="M553.4 145.9L555.2 145.0L556.2 145.9Z" fill="url(#gc2)"/>
<path d="M591.5 145.9L593.8 143.0L593.7 145.9Z" fill="url(#gc1)"/>
<path d="M543.7 146.3L545.3 144.5L545.2 146.3Z" fill="url(#gc1)"/>
<path d="M593.6 146.3L595.6 142.5L596.0 146.3Z" fill="url(#gc3)"/>
<path d="M577.4 146.4L579.4 142.6L579.2 146.4Z" fill="url(#gc2)"/>
<path d="M531.6 146.5L532.7 140.6L533.0 146.5Z" fill="url(#gc1)"/>
<path d="M549.7 146.5L551.7 143.2L551.3 146.5Z" fill="url(#gc3)"/>
<path d="M572.4 146.6L574.7 145.3L574.8 146.6Z" fill="url(#gc1)"/>
<path d="M545.8 146.7L546.6 145.7L547.6 146.7Z" fill="url(#gc5)"/>
<path d="M579.0 146.8L580.2 142.9L580.8 146.8Z" fill="url(#gc3)"/>
<path d="M542.0 146.8L543.8 143.6L544.8 146.8Z" fill="url(#gc5)"/>
<path d="M544.5 146.9L545.2 145.2L546.1 146.9Z" fill="url(#gc3)"/>
<path d="M571.6 146.9L572.7 143.8L573.5 146.9Z" fill="url(#gc1)"/>
<path d="M565.4 147.0L567.2 143.8L567.1 147.0Z" fill="url(#gc5)"/>
<path d="M531.3 147.0L532.7 141.6L533.5 147.0Z" fill="url(#gc3)"/>
<path d="M536.6 147.1L538.2 145.2L539.0 147.1Z" fill="url(#gc3)"/>
<path d="M558.7 147.1L560.3 145.7L560.0 147.1Z" fill="url(#gc5)"/>
<path d="M566.7 147.2L568.2 145.6L568.6 147.2Z" fill="url(#gc5)"/>
<path d="M587.4 147.4L589.3 139.3L588.7 147.4Z" fill="url(#gc1)"/>
<path d="M593.3 147.5L594.0 143.8L594.8 147.5Z" fill="url(#gc2)"/>
<path d="M559.8 147.6L561.9 145.6L562.0 147.6Z" fill="url(#gc5)"/>
<path d="M535.6 147.6L537.9 145.0L537.9 147.6Z" fill="url(#gc5)"/>
<path d="M561.8 147.6L564.1 146.9L564.6 147.6Z" fill="url(#gc1)"/>
<path d="M599.0 147.7L600.5 144.5L600.6 147.7Z" fill="url(#gc1)"/>
<path d="M533.0 147.7L534.5 144.7L534.5 147.7Z" fill="url(#gc3)"/>
<path d="M560.2 147.9L561.4 146.1L561.5 147.9Z" fill="url(#gc1)"/>
<path d="M557.5 147.9L559.3 145.9L559.4 147.9Z" fill="url(#gc5)"/>
<path d="M579.7 148.0L580.1 143.5L581.0 148.0Z" fill="url(#gc5)"/>
<path d="M583.5 148.0L585.4 145.4L585.3 148.0Z" fill="url(#gc1)"/>
<path d="M570.8 148.2L572.2 144.8L573.4 148.2Z" fill="url(#gc1)"/>
<path d="M590.7 148.3L592.0 147.0L592.5 148.3Z" fill="url(#gc3)"/>
<path d="M572.3 148.4L573.2 147.1L574.6 148.4Z" fill="url(#gc1)"/>
<path d="M597.9 148.5L598.9 145.0L600.0 148.5Z" fill="url(#gc1)"/>
<path d="M569.5 148.6L570.8 144.8L570.9 148.6Z" fill="url(#gc2)"/>
<path d="M566.8 148.7L567.3 145.5L568.3 148.7Z" fill="url(#gc1)"/>
<path d="M594.4 148.9L595.4 147.1L596.2 148.9Z" fill="url(#gc2)"/>
<path d="M568.7 148.9L569.4 147.9L570.5 148.9Z" fill="url(#gc1)"/>
<path d="M531.5 149.0L532.2 146.6L533.5 149.0Z" fill="url(#gc2)"/>
<path d="M585.5 149.2L586.3 146.7L587.3 149.2Z" fill="url(#gc2)"/>
<path d="M601.4 149.3L603.8 145.2L603.9 149.3Z" fill="url(#gc3)"/>
<path d="M562.8 149.3L563.7 147.3L564.3 149.3Z" fill="url(#gc2)"/>
<path d="M581.8 149.3L582.7 144.4L583.7 149.3Z" fill="url(#gc2)"/>
<path d="M558.9 149.4L560.3 148.7L560.5 149.4Z" fill="url(#gc1)"/>
<path d="M574.0 149.5L574.7 147.3L575.7 149.5Z" fill="url(#gc2)"/>
<path d="M569.1 149.5L571.1 147.5L571.3 149.5Z" fill="url(#gc1)"/>
<path d="M529.2 149.6L530.3 145.1L530.7 149.6Z" fill="url(#gc5)"/>
<path d="M593.7 149.7L595.0 144.9L596.1 149.7Z" fill="url(#gc1)"/>
<path d="M588.4 149.8L590.2 144.8L591.2 149.8Z" fill="url(#gc2)"/>
<path d="M569.7 149.8L570.5 146.6L571.6 149.8Z" fill="url(#gc1)"/>
<path d="M555.6 149.9L557.5 147.4L557.8 149.9Z" fill="url(#gc2)"/>
<path d="M590.7 150.1L591.6 144.0L592.5 150.1Z" fill="url(#gc1)"/>
<path d="M590.9 150.1L593.3 147.8L593.6 150.1Z" fill="url(#gc5)"/>
<path d="M596.1 150.2L597.4 146.8L597.8 150.2Z" fill="url(#gc3)"/>
<path d="M590.3 150.2L591.3 144.3L592.3 150.2Z" fill="url(#gc2)"/>
<path d="M581.4 150.4L582.3 145.8L583.1 150.4Z" fill="url(#gc3)"/>
<path d="M556.6 150.5L558.3 149.5L558.9 150.5Z" fill="url(#gc1)"/>
<path d="M597.5 150.5L599.2 147.1L599.7 150.5Z" fill="url(#gc1)"/>
<path d="M564.0 150.6L566.5 148.9L566.7 150.6Z" fill="url(#gc2)"/>
<path d="M594.3 150.7L595.3 143.7L596.5 150.7Z" fill="url(#gc1)"/>
<path d="M553.7 150.8L555.4 149.6L555.8 150.8Z" fill="url(#gc1)"/>
<path d="M562.1 151.0L562.8 148.5L564.1 151.0Z" fill="url(#gc2)"/>
<path d="M535.4 151.2L537.0 150.1L537.1 151.2Z" fill="url(#gc2)"/>
<path d="M581.7 151.3L582.4 147.5L583.5 151.3Z" fill="url(#gc2)"/>
<path d="M575.4 151.6L577.1 148.2L577.3 151.6Z" fill="url(#gc4)"/>
<path d="M538.3 151.6L539.8 147.4L540.8 151.6Z" fill="url(#gc1)"/>
<path d="M534.6 151.7L535.6 145.7L536.8 151.7Z" fill="url(#gc2)"/>
<path d="M576.2 151.7L577.6 146.6L577.6 151.7Z" fill="url(#gc1)"/>
<path d="M538.3 151.8L540.4 150.5L540.5 151.8Z" fill="url(#gc1)"/>
<path d="M576.1 151.8L578.1 148.9L578.6 151.8Z" fill="url(#gc1)"/>
<path d="M547.8 151.8L549.8 149.5L549.8 151.8Z" fill="url(#gc1)"/>
<path d="M569.8 151.8L571.6 149.6L571.4 151.8Z" fill="url(#gc2)"/>
<path d="M540.8 151.9L542.7 149.1L543.0 151.9Z" fill="url(#gc5)"/>
<path d="M548.9 151.9L549.7 149.7L550.6 151.9Z" fill="url(#gc2)"/>
<path d="M576.4 152.0L578.4 150.6L579.0 152.0Z" fill="url(#gc3)"/>
<path d="M536.3 152.0L537.5 149.2L538.9 152.0Z" fill="url(#gc2)"/>
<path d="M533.2 152.1L534.8 150.1L534.7 152.1Z" fill="url(#gc2)"/>
<path d="M549.1 152.2L551.2 147.4L550.8 152.2Z" fill="url(#gc1)"/>
<path d="M538.7 152.3L539.6 149.7L540.7 152.3Z" fill="url(#gc2)"/>
<path d="M543.7 152.5L546.0 147.1L545.8 152.5Z" fill="url(#gc1)"/>
<path d="M594.9 152.5L596.6 147.0L596.5 152.5Z" fill="url(#gc1)"/>
<path d="M546.8 152.6L548.4 149.1L548.1 152.6Z" fill="url(#gc2)"/>
<path d="M563.4 152.7L565.6 149.9L565.6 152.7Z" fill="url(#gc1)"/>
<path d="M596.9 152.7L598.1 148.8L599.3 152.7Z" fill="url(#gc1)"/>
<path d="M574.1 152.8L576.2 150.5L576.5 152.8Z" fill="url(#gc1)"/>
<path d="M577.5 152.9L579.5 146.7L579.2 152.9Z" fill="url(#gc1)"/>
<path d="M561.3 153.0L563.0 151.3L564.1 153.0Z" fill="url(#gc5)"/>
<path d="M556.1 153.0L557.9 150.3L557.5 153.0Z" fill="url(#gc2)"/>
<path d="M541.7 153.0L542.4 150.3L543.1 153.0Z" fill="url(#gc5)"/>
<path d="M567.1 153.1L568.9 150.3L569.2 153.1Z" fill="url(#gc5)"/>
<path d="M554.4 153.1L556.2 150.2L557.1 153.1Z" fill="url(#gc1)"/>
<path d="M574.3 153.2L575.8 148.2L576.0 153.2Z" fill="url(#gc3)"/>
<path d="M564.7 153.2L567.1 150.4L567.0 153.2Z" fill="url(#gc1)"/>
<path d="M563.4 153.6L564.8 151.2L564.9 153.6Z" fill="url(#gc5)"/>
<path d="M538.2 153.6L539.2 150.0L539.8 153.6Z" fill="url(#gc5)"/>
<path d="M558.5 153.7L559.8 152.5L560.5 153.7Z" fill="url(#gc4)"/>
<path d="M591.8 153.8L592.8 146.8L594.1 153.8Z" fill="url(#gc5)"/>
<path d="M552.2 154.0L553.7 152.7L553.6 154.0Z" fill="url(#gc2)"/>
<path d="M563.4 154.2L564.9 152.2L565.5 154.2Z" fill="url(#gc1)"/>
<path d="M573.5 154.2L575.1 149.7L575.5 154.2Z" fill="url(#gc1)"/>
<path d="M587.8 154.3L589.1 150.5L590.2 154.3Z" fill="url(#gc3)"/>
<path d="M590.7 154.4L591.9 150.7L592.6 154.4Z" fill="url(#gc1)"/>
<path d="M562.7 154.5L564.5 154.0L564.9 154.5Z" fill="url(#gc3)"/>
<path d="M566.4 154.8L567.8 153.0L569.0 154.8Z" fill="url(#gc1)"/>
<path d="M556.2 154.9L557.7 153.1L557.8 154.9Z" fill="url(#gc1)"/>
<path d="M588.6 155.1L590.4 151.3L591.2 155.1Z" fill="url(#gc2)"/>
<path d="M551.1 155.1L553.1 151.4L553.2 155.1Z" fill="url(#gc1)"/>
<path d="M539.0 155.3L540.3 150.1L541.8 155.3Z" fill="url(#gc2)"/>
<path d="M566.4 155.4L568.6 154.2L568.2 155.4Z" fill="url(#gc2)"/>
<path d="M579.7 155.5L580.7 150.4L582.2 155.5Z" fill="url(#gc4)"/>
<path d="M570.1 155.6L571.4 154.6L572.9 155.6Z" fill="url(#gc3)"/>
<path d="M565.1 155.7L566.0 153.6L567.5 155.7Z" fill="url(#gc1)"/>
<path d="M553.1 155.7L553.9 153.1L554.8 155.7Z" fill="url(#gc2)"/>
<path d="M576.4 155.7L578.4 151.1L578.8 155.7Z" fill="url(#gc2)"/>
<path d="M570.3 155.8L571.4 152.9L572.3 155.8Z" fill="url(#gc1)"/>
<path d="M554.8 155.9L555.7 153.7L556.9 155.9Z" fill="url(#gc5)"/>
<path d="M548.7 155.9L550.9 150.5L551.4 155.9Z" fill="url(#gc3)"/>
<path d="M555.8 156.0L556.9 153.3L557.3 156.0Z" fill="url(#gc2)"/>
<path d="M583.3 156.1L585.1 153.5L585.8 156.1Z" fill="url(#gc3)"/>
<path d="M555.9 156.1L557.7 153.5L557.3 156.1Z" fill="url(#gc1)"/>
<path d="M560.5 156.3L562.2 154.1L562.4 156.3Z" fill="url(#gc1)"/>
<path d="M565.8 156.3L568.2 154.8L568.3 156.3Z" fill="url(#gc3)"/>
<path d="M595.0 156.4L596.7 151.4L597.3 156.4Z" fill="url(#gc2)"/>
<path d="M557.1 156.6L559.3 154.8L559.0 156.6Z" fill="url(#gc2)"/>
<path d="M565.1 156.8L567.7 155.6L567.9 156.8Z" fill="url(#gc2)"/>
<path d="M582.4 156.8L583.5 155.3L584.6 156.8Z" fill="url(#gc1)"/>
<path d="M594.0 157.0L594.8 151.7L596.3 157.0Z" fill="url(#gc1)"/>
<path d="M574.0 157.1L575.8 156.2L576.1 157.1Z" fill="url(#gc1)"/>
<path d="M576.1 157.3L577.1 153.5L577.6 157.3Z" fill="url(#gc1)"/>
<path d="M545.3 157.3L546.4 153.3L546.9 157.3Z" fill="url(#gc2)"/>
<path d="M551.5 157.7L551.9 156.1L552.8 157.7Z" fill="url(#gc1)"/>
<path d="M586.8 157.8L588.7 152.8L588.9 157.8Z" fill="url(#gc2)"/>
<path d="M548.9 157.8L550.5 156.3L551.1 157.8Z" fill="url(#gc1)"/>
<path d="M584.1 158.0L585.2 153.9L585.5 158.0Z" fill="url(#gc1)"/>
<path d="M539.2 158.1L540.8 156.4L541.9 158.1Z" fill="url(#gc3)"/>
<path d="M582.8 158.4L585.0 156.5L584.8 158.4Z" fill="url(#gc5)"/>
<path d="M563.9 158.4L565.9 157.1L566.4 158.4Z" fill="url(#gc1)"/>
<path d="M557.7 158.4L560.1 154.3L560.1 158.4Z" fill="url(#gc1)"/>
<path d="M540.1 158.9L542.2 156.9L542.4 158.9Z" fill="url(#gc5)"/>
<path d="M568.4 159.0L570.6 155.9L570.5 159.0Z" fill="url(#gc2)"/>
<path d="M592.0 159.3L593.2 156.7L594.5 159.3Z" fill="url(#gc1)"/>
<path d="M543.8 159.4L545.3 157.1L545.6 159.4Z" fill="url(#gc1)"/>
<path d="M556.2 159.4L558.0 155.3L558.9 159.4Z" fill="url(#gc1)"/>
<path d="M560.4 159.5L562.9 158.1L563.1 159.5Z" fill="url(#gc3)"/>
<path d="M587.3 159.6L588.7 158.3L589.4 159.6Z" fill="url(#gc5)"/>
<path d="M595.1 160.0L597.0 157.6L597.3 160.0Z" fill="url(#gc5)"/>
<path d="M575.0 160.0L576.2 156.6L577.5 160.0Z" fill="url(#gc4)"/>
<path d="M551.9 160.0L553.0 154.6L553.8 160.0Z" fill="url(#gc3)"/>
<path d="M579.8 160.2L581.6 157.7L581.6 160.2Z" fill="url(#gc1)"/>
<path d="M557.1 160.3L558.2 159.1L559.7 160.3Z" fill="url(#gc1)"/>
<path d="M550.0 160.3L551.3 157.1L551.5 160.3Z" fill="url(#gc5)"/>
<path d="M579.3 160.4L580.8 157.1L580.9 160.4Z" fill="url(#gc2)"/>
<path d="M563.9 160.5L564.6 158.4L565.4 160.5Z" fill="url(#gc1)"/>
<path d="M593.7 160.6L595.5 157.8L596.4 160.6Z" fill="url(#gc1)"/>
<path d="M590.7 160.7L591.2 158.7L592.0 160.7Z" fill="url(#gc1)"/>
<path d="M564.9 161.0L566.5 158.3L566.4 161.0Z" fill="url(#gc1)"/>
<path d="M586.1 161.0L586.5 158.3L587.5 161.0Z" fill="url(#gc1)"/>
<path d="M565.3 161.1L567.3 158.2L567.4 161.1Z" fill="url(#gc1)"/>
<path d="M567.9 161.2L569.3 159.7L570.2 161.2Z" fill="url(#gc3)"/>
<path d="M568.6 161.4L570.6 159.3L570.7 161.4Z" fill="url(#gc1)"/>
<path d="M546.2 161.5L547.5 158.2L548.4 161.5Z" fill="url(#gc4)"/>
<path d="M591.1 161.5L593.4 157.4L593.6 161.5Z" fill="url(#gc5)"/>
<path d="M575.0 161.8L576.3 158.8L576.5 161.8Z" fill="url(#gc1)"/>
<path d="M593.7 162.1L594.6 159.1L595.4 162.1Z" fill="url(#gc4)"/>
<path d="M559.9 162.4L562.0 159.7L561.7 162.4Z" fill="url(#gc3)"/>
<path d="M575.2 162.5L576.8 158.5L577.4 162.5Z" fill="url(#gc5)"/>
<path d="M558.5 162.5L560.0 159.9L560.9 162.5Z" fill="url(#gc1)"/>
<path d="M551.5 162.5L552.6 160.1L553.2 162.5Z" fill="url(#gc5)"/>
<path d="M565.5 163.0L567.5 158.4L567.4 163.0Z" fill="url(#gc2)"/>
<path d="M555.3 163.2L557.3 156.6L557.7 163.2Z" fill="url(#gc2)"/>
<path d="M580.5 163.3L581.2 162.1L582.4 163.3Z" fill="url(#gc1)"/>
<path d="M570.9 163.3L573.0 161.7L572.7 163.3Z" fill="url(#gc5)"/>
<path d="M562.0 163.4L563.2 162.0L564.0 163.4Z" fill="url(#gc2)"/>
<path d="M552.0 163.5L554.0 157.5L553.7 163.5Z" fill="url(#gc3)"/>
<path d="M570.3 163.6L571.5 162.7L572.5 163.6Z" fill="url(#gc2)"/>
<path d="M563.2 163.6L564.4 158.2L565.3 163.6Z" fill="url(#gc3)"/>
<path d="M582.2 163.7L584.3 161.3L584.2 163.7Z" fill="url(#gc1)"/>
<path d="M555.5 163.7L557.8 160.4L557.9 163.7Z" fill="url(#gc1)"/>
<path d="M574.6 163.8L576.2 162.0L576.3 163.8Z" fill="url(#gc1)"/>
<path d="M581.0 163.9L582.6 160.6L583.6 163.9Z" fill="url(#gc1)"/>
<path d="M550.5 163.9L551.2 157.1L552.0 163.9Z" fill="url(#gc3)"/>
<path d="M561.9 164.0L562.9 161.5L564.4 164.0Z" fill="url(#gc2)"/>
<path d="M586.0 164.5L587.4 163.5L588.6 164.5Z" fill="url(#gc3)"/>
<path d="M557.1 164.6L558.5 161.1L559.2 164.6Z" fill="url(#gc2)"/>
<path d="M586.1 164.7L588.6 162.5L588.7 164.7Z" fill="url(#gc2)"/>
<path d="M559.0 164.9L560.8 159.9L560.8 164.9Z" fill="url(#gc1)"/>
<path d="M576.1 165.2L578.5 162.2L578.9 165.2Z" fill="url(#gc5)"/>
<path d="M552.4 165.3L552.9 162.0L553.8 165.3Z" fill="url(#gc1)"/>
<path d="M579.4 165.3L580.6 164.2L581.3 165.3Z" fill="url(#gc1)"/>
<path d="M590.6 165.4L592.7 164.1L593.1 165.4Z" fill="url(#gc2)"/>
<path d="M580.0 165.5L581.5 163.1L582.2 165.5Z" fill="url(#gc5)"/>
<path d="M572.7 165.6L574.6 163.8L575.0 165.6Z" fill="url(#gc1)"/>
<path d="M560.9 166.1L562.4 163.8L562.7 166.1Z" fill="url(#gc3)"/>
<path d="M584.6 166.2L586.4 164.4L587.2 166.2Z" fill="url(#gc1)"/>
<path d="M583.5 166.2L584.5 162.2L585.9 166.2Z" fill="url(#gc3)"/>
<path d="M557.6 166.6L558.8 164.4L559.5 166.6Z" fill="url(#gc5)"/>
<path d="M580.6 166.8L581.9 164.8L582.4 166.8Z" fill="url(#gc2)"/>
<path d="M567.1 166.9L568.5 166.0L568.7 166.9Z" fill="url(#gc4)"/>
<path d="M581.5 167.0L582.3 165.3L583.6 167.0Z" fill="url(#gc1)"/>
<path d="M575.6 167.3L577.0 166.7L577.7 167.3Z" fill="url(#gc2)"/>
<path d="M554.3 167.7L556.8 164.1L556.9 167.7Z" fill="url(#gc3)"/>
<path d="M574.1 168.3L576.5 166.4L576.4 168.3Z" fill="url(#gc2)"/>
<path d="M579.4 168.5L581.3 165.8L582.2 168.5Z" fill="url(#gc3)"/>
<path d="M586.8 168.6L588.5 166.7L588.2 168.6Z" fill="url(#gc2)"/>
<path d="M586.6 168.6L587.9 165.9L588.8 168.6Z" fill="url(#gc5)"/>
<path d="M576.8 168.7L577.6 166.6L578.1 168.7Z" fill="url(#gc1)"/>
<path d="M586.8 168.9L588.0 166.0L588.7 168.9Z" fill="url(#gc2)"/>
<path d="M581.2 169.2L583.3 166.6L583.0 169.2Z" fill="url(#gc5)"/>
<path d="M558.7 169.5L561.1 167.1L561.3 169.5Z" fill="url(#gc3)"/>
<path d="M582.6 169.7L583.0 167.3L584.1 169.7Z" fill="url(#gc2)"/>
<path d="M557.3 169.9L558.0 164.6L558.9 169.9Z" fill="url(#gc2)"/>
<path d="M568.0 170.2L570.1 166.9L569.7 170.2Z" fill="url(#gc1)"/>
<path d="M587.1 170.2L588.0 167.5L588.6 170.2Z" fill="url(#gc5)"/>
<path d="M562.0 170.6L563.2 167.5L564.3 170.6Z" fill="url(#gc2)"/>
<path d="M585.3 170.8L587.0 167.9L586.7 170.8Z" fill="url(#gc1)"/>
<path d="M559.0 171.0L561.0 164.0L560.4 171.0Z" fill="url(#gc5)"/>
<path d="M577.6 171.4L579.5 170.2L580.0 171.4Z" fill="url(#gc2)"/>
<path d="M576.0 171.5L577.6 168.2L578.7 171.5Z" fill="url(#gc1)"/>
<path d="M577.0 171.9L578.2 169.7L579.1 171.9Z" fill="url(#gc3)"/>
<path d="M561.6 172.7L562.4 167.9L563.7 172.7Z" fill="url(#gc1)"/>
<path d="M562.9 172.8L564.4 166.1L565.2 172.8Z" fill="url(#gc2)"/>
<path d="M563.2 172.9L564.7 168.6L565.8 172.9Z" fill="url(#gc2)"/>
<path d="M572.3 173.2L574.2 170.2L574.6 173.2Z" fill="url(#gc2)"/>
<path d="M584.5 173.5L586.3 171.9L586.2 173.5Z" fill="url(#gc3)"/>
<path d="M574.9 174.7L576.8 171.9L577.7 174.7Z" fill="url(#gc2)"/>
<path d="M583.8 175.1L585.8 173.2L586.1 175.1Z" fill="url(#gc1)"/>
<path d="M574.3 175.4L576.1 172.2L575.8 175.4Z" fill="url(#gc2)"/>
<path d="M573.8 175.5L575.5 174.4L576.0 175.5Z" fill="url(#gc3)"/>
<path d="M581.5 175.9L583.3 173.4L584.0 175.9Z" fill="url(#gc1)"/>
<path d="M568.3 176.0L570.3 173.0L570.0 176.0Z" fill="url(#gc5)"/>
<path d="M562.4 176.4L564.7 172.5L564.9 176.4Z" fill="url(#gc1)"/>
<path d="M570.0 176.4L571.8 173.9L571.7 176.4Z" fill="url(#gc5)"/>
<path d="M575.4 176.5L576.5 175.3L577.4 176.5Z" fill="url(#gc5)"/>
<path d="M563.2 176.5L564.2 167.2L565.6 176.5Z" fill="url(#gc2)"/>
<path d="M582.8 176.6L584.6 174.6L585.5 176.6Z" fill="url(#gc2)"/>
<path d="M585.5 176.7L587.0 175.8L587.0 176.7Z" fill="url(#gc1)"/>
<path d="M564.5 176.8L566.6 173.7L566.6 176.8Z" fill="url(#gc1)"/>
<path d="M579.7 178.2L580.6 175.9L581.5 178.2Z" fill="url(#gc2)"/>
<path d="M575.3 178.3L576.2 176.1L577.3 178.3Z" fill="url(#gc1)"/>
<path d="M580.2 179.8L581.8 178.1L582.0 179.8Z" fill="url(#gc1)"/>
<path d="M576.1 179.9L578.2 176.0L577.9 179.9Z" fill="url(#gc1)"/>
<path d="M578.1 180.0L580.1 177.9L579.9 180.0Z" fill="url(#gc5)"/>
<path d="M576.1 180.2L577.8 174.7L578.5 180.2Z" fill="url(#gc1)"/>
<path d="M578.7 180.8L580.0 178.6L580.4 180.8Z" fill="url(#gc1)"/>
<path d="M580.6 181.6L582.1 180.3L583.2 181.6Z" fill="url(#gc2)"/>
<path d="M581.1 183.0L581.7 180.6L582.4 183.0Z" fill="url(#gc5)"/>
<path d="M576.1 183.1L577.7 177.0L577.5 183.1Z" fill="url(#gc3)"/>
<path d="M574.4 184.8L576.6 179.4L576.3 184.8Z" fill="url(#gc4)"/>
<path d="M576.1 187.1L577.4 183.9L577.7 187.1Z" fill="url(#gc1)"/>
<g clip-path="url(#clipcb)"><rect x="470" y="40" width="170" height="170" fill="#fff" filter="url(#speckc)"/></g>
<polyline points="496,119 502,133 579,190.6" fill="none" stroke="#3a4250" stroke-width="1"/></g>
 <text x="474" y="121" class="ax3">1.13m</text>
 <text x="479" y="136.2" class="ax3">-9.66m</text>
 <text x="514" y="178.4" class="ax3">X* 2.03µm</text>
 <text x="603.9" y="166" class="ax3">Y* 2.03µm</text>

 <!-- panel e -->
 <rect x="462.6" y="226.5" width="203.9" height="199" fill="#fff" stroke="#888" stroke-width="1.1"/>
 <rect x="462" y="426.6" width="27.3" height="20.6" fill="#fde39b"/>
 <text x="470.5" y="438.5" style="font-size:15px">e</text>
 <text x="502.2" y="239.6" class="tt" style="font-size:8.25px">Phase - Scan forward</text>
 <text x="588.2" y="239.6" class="tt" style="font-size:8.25px">Line fit</text>
 <rect x="476.6" y="243.4" width="161.2" height="168" fill="#fff" stroke="#222" stroke-width="1"/>
 <rect x="648.5" y="243" width="8.2" height="168.3" fill="url(#cbar)" stroke="#8a8a8a" stroke-width="1"/><rect x="649.0" y="243.5" width="7.199999999999999" height="167.3" fill="url(#stripes)" opacity="0.35"/>
 <text transform="translate(663.3,348.8) rotate(-90)" class="rt">Line fit 33.7 °</text>
 <g filter="url(#soft)"><polygon points="497.5,322 554,259.5 635,303.5 635,318 555,276 500,338" fill="url(#wallg)"/>
<clipPath id="clipe"><polygon points="500,337 555,275 635,317 633.5,314 581.5,395.5 503.5,338"/></clipPath>
<clipPath id="clipeb"><polygon points="497.5,322 500,337 555,275 635,317 633.5,314 581.5,395.5 503.5,338"/></clipPath>
<polygon points="500,337 555,275 635,317 633.5,314 581.5,395.5 503.5,338" fill="#4a2206"/>
<path d="M555.3 277.6L557.1 269.6L558.1 277.6Z" fill="url(#ge2)"/>
<path d="M555.9 281.3L557.2 274.9L559.5 281.3Z" fill="url(#ge1)"/>
<path d="M564.9 283.5L567.9 277.2L569.1 283.5Z" fill="url(#ge1)"/>
<path d="M551.7 284.1L554.5 272.6L556.3 284.1Z" fill="url(#ge2)"/>
<path d="M563.8 284.5L566.4 274.7L567.2 284.5Z" fill="url(#ge2)"/>
<path d="M566.7 284.7L569.0 275.3L571.1 284.7Z" fill="url(#ge4)"/>
<path d="M560.5 285.5L563.0 271.5L565.7 285.5Z" fill="url(#ge3)"/>
<path d="M568.9 285.9L571.4 280.2L574.4 285.9Z" fill="url(#ge5)"/>
<path d="M553.2 285.9L556.3 273.3L558.7 285.9Z" fill="url(#ge5)"/>
<path d="M554.2 285.9L557.3 276.2L558.2 285.9Z" fill="url(#ge1)"/>
<path d="M570.9 286.0L573.1 272.6L574.1 286.0Z" fill="url(#ge1)"/>
<path d="M569.7 287.0L571.4 279.1L573.7 287.0Z" fill="url(#ge1)"/>
<path d="M573.3 287.6L576.6 271.8L578.0 287.6Z" fill="url(#ge4)"/>
<path d="M567.9 287.6L570.9 275.8L572.8 287.6Z" fill="url(#ge5)"/>
<path d="M564.0 287.6L565.1 275.5L566.8 287.6Z" fill="url(#ge3)"/>
<path d="M567.7 288.0L569.4 269.0L571.0 288.0Z" fill="url(#ge5)"/>
<path d="M559.6 288.1L560.9 278.6L563.1 288.1Z" fill="url(#ge3)"/>
<path d="M565.4 288.8L567.4 278.3L568.8 288.8Z" fill="url(#ge1)"/>
<path d="M552.0 288.9L553.7 281.7L555.0 288.9Z" fill="url(#ge2)"/>
<path d="M546.9 289.4L548.7 284.0L551.4 289.4Z" fill="url(#ge2)"/>
<path d="M542.6 289.6L545.1 282.9L547.5 289.6Z" fill="url(#ge3)"/>
<path d="M575.4 289.9L577.4 271.6L579.2 289.9Z" fill="url(#ge1)"/>
<path d="M578.0 290.2L580.8 284.2L582.1 290.2Z" fill="url(#ge3)"/>
<path d="M573.1 290.6L575.1 283.5L577.7 290.6Z" fill="url(#ge2)"/>
<path d="M541.2 291.6L543.8 282.4L545.4 291.6Z" fill="url(#ge3)"/>
<path d="M555.1 292.4L558.4 276.6L559.6 292.4Z" fill="url(#ge2)"/>
<path d="M557.7 292.4L559.8 279.8L561.2 292.4Z" fill="url(#ge2)"/>
<path d="M555.4 292.8L557.4 280.3L560.0 292.8Z" fill="url(#ge1)"/>
<path d="M578.0 292.9L580.4 289.8L583.2 292.9Z" fill="url(#ge1)"/>
<path d="M557.6 293.6L560.0 282.4L563.0 293.6Z" fill="url(#ge1)"/>
<path d="M564.1 293.7L566.6 284.6L568.2 293.7Z" fill="url(#ge5)"/>
<path d="M565.9 293.7L568.9 287.0L571.1 293.7Z" fill="url(#ge2)"/>
<path d="M578.6 293.8L581.0 288.9L581.5 293.8Z" fill="url(#ge1)"/>
<path d="M582.3 293.9L585.2 290.1L587.8 293.9Z" fill="url(#ge4)"/>
<path d="M548.5 293.9L550.3 284.3L553.1 293.9Z" fill="url(#ge1)"/>
<path d="M584.0 294.0L586.6 290.2L587.7 294.0Z" fill="url(#ge1)"/>
<path d="M575.3 294.3L577.6 290.0L579.5 294.3Z" fill="url(#ge1)"/>
<path d="M546.1 294.3L547.8 287.3L549.4 294.3Z" fill="url(#ge2)"/>
<path d="M576.2 294.5L578.9 283.7L579.6 294.5Z" fill="url(#ge1)"/>
<path d="M570.4 294.5L573.1 287.2L574.3 294.5Z" fill="url(#ge5)"/>
<path d="M563.8 294.8L567.0 275.6L568.2 294.8Z" fill="url(#ge2)"/>
<path d="M584.7 294.9L587.3 292.1L590.2 294.9Z" fill="url(#ge3)"/>
<path d="M570.3 295.2L572.3 285.6L574.8 295.2Z" fill="url(#ge1)"/>
<path d="M550.3 295.2L551.9 289.2L553.2 295.2Z" fill="url(#ge1)"/>
<path d="M551.2 296.3L552.9 286.3L554.9 296.3Z" fill="url(#ge3)"/>
<path d="M547.9 296.6L549.8 289.3L551.6 296.6Z" fill="url(#ge1)"/>
<path d="M547.2 297.3L550.0 290.2L551.0 297.3Z" fill="url(#ge2)"/>
<path d="M574.3 297.5L577.8 292.9L579.7 297.5Z" fill="url(#ge5)"/>
<path d="M559.0 297.5L561.6 282.2L562.6 297.5Z" fill="url(#ge1)"/>
<path d="M550.4 297.7L553.2 291.1L555.2 297.7Z" fill="url(#ge1)"/>
<path d="M552.1 298.5L553.6 292.8L555.3 298.5Z" fill="url(#ge2)"/>
<path d="M569.2 298.5L571.7 284.0L574.4 298.5Z" fill="url(#ge2)"/>
<path d="M596.2 298.6L598.1 295.0L600.3 298.6Z" fill="url(#ge4)"/>
<path d="M542.8 298.8L544.1 295.9L545.7 298.8Z" fill="url(#ge4)"/>
<path d="M550.1 298.8L552.2 293.3L553.8 298.8Z" fill="url(#ge1)"/>
<path d="M551.4 298.8L553.8 292.4L555.2 298.8Z" fill="url(#ge5)"/>
<path d="M577.6 298.8L579.5 294.1L580.8 298.8Z" fill="url(#ge1)"/>
<path d="M598.0 299.1L600.3 288.3L601.5 299.1Z" fill="url(#ge1)"/>
<path d="M593.7 299.4L595.7 296.2L598.1 299.4Z" fill="url(#ge1)"/>
<path d="M568.7 299.4L569.7 283.5L571.5 299.4Z" fill="url(#ge5)"/>
<path d="M584.1 299.5L586.2 295.7L588.4 299.5Z" fill="url(#ge1)"/>
<path d="M536.8 300.0L539.2 292.3L540.8 300.0Z" fill="url(#ge1)"/>
<path d="M589.3 300.0L591.2 296.3L593.6 300.0Z" fill="url(#ge2)"/>
<path d="M555.7 300.0L559.0 287.0L561.1 300.0Z" fill="url(#ge4)"/>
<path d="M540.3 300.5L542.6 291.8L545.5 300.5Z" fill="url(#ge1)"/>
<path d="M559.2 301.1L561.9 288.9L564.1 301.1Z" fill="url(#ge1)"/>
<path d="M579.1 301.2L582.2 293.1L584.1 301.2Z" fill="url(#ge3)"/>
<path d="M579.7 301.4L582.0 297.7L582.5 301.4Z" fill="url(#ge1)"/>
<path d="M592.4 301.8L594.4 296.2L596.0 301.8Z" fill="url(#ge5)"/>
<path d="M536.9 301.8L538.1 297.4L539.8 301.8Z" fill="url(#ge1)"/>
<path d="M540.7 302.0L542.7 299.5L545.5 302.0Z" fill="url(#ge4)"/>
<path d="M596.6 302.0L599.8 295.2L601.6 302.0Z" fill="url(#ge3)"/>
<path d="M545.9 302.1L547.4 292.8L549.4 302.1Z" fill="url(#ge1)"/>
<path d="M548.4 302.2L551.4 298.9L554.0 302.2Z" fill="url(#ge1)"/>
<path d="M540.7 302.3L544.2 297.7L546.1 302.3Z" fill="url(#ge5)"/>
<path d="M533.0 302.3L534.2 300.7L536.3 302.3Z" fill="url(#ge2)"/>
<path d="M588.6 302.5L590.5 298.8L592.9 302.5Z" fill="url(#ge2)"/>
<path d="M584.7 302.9L587.7 299.2L588.7 302.9Z" fill="url(#ge1)"/>
<path d="M599.1 303.3L601.4 299.8L603.5 303.3Z" fill="url(#ge1)"/>
<path d="M545.3 303.4L548.7 297.7L550.2 303.4Z" fill="url(#ge3)"/>
<path d="M603.8 303.4L605.9 287.7L607.1 303.4Z" fill="url(#ge1)"/>
<path d="M585.5 303.5L587.1 301.2L589.2 303.5Z" fill="url(#ge3)"/>
<path d="M606.0 303.7L607.8 292.5L609.6 303.7Z" fill="url(#ge1)"/>
<path d="M542.0 303.7L545.2 299.2L547.1 303.7Z" fill="url(#ge2)"/>
<path d="M576.3 304.2L578.8 298.9L580.1 304.2Z" fill="url(#ge5)"/>
<path d="M529.9 304.3L533.7 299.3L535.4 304.3Z" fill="url(#ge2)"/>
<path d="M584.8 304.3L587.7 301.6L590.1 304.3Z" fill="url(#ge5)"/>
<path d="M602.2 304.5L604.0 294.5L605.1 304.5Z" fill="url(#ge2)"/>
<path d="M559.8 304.6L563.0 295.6L565.1 304.6Z" fill="url(#ge1)"/>
<path d="M581.2 304.7L583.3 296.8L584.9 304.7Z" fill="url(#ge4)"/>
<path d="M531.2 304.7L533.9 300.0L534.6 304.7Z" fill="url(#ge3)"/>
<path d="M562.4 304.8L565.1 297.8L566.5 304.8Z" fill="url(#ge3)"/>
<path d="M605.7 304.9L609.1 294.2L611.2 304.9Z" fill="url(#ge5)"/>
<path d="M601.5 305.0L604.9 300.7L606.2 305.0Z" fill="url(#ge2)"/>
<path d="M535.6 305.1L537.6 300.1L540.4 305.1Z" fill="url(#ge5)"/>
<path d="M543.5 305.2L545.2 299.6L547.4 305.2Z" fill="url(#ge5)"/>
<path d="M561.6 305.3L564.5 300.1L566.3 305.3Z" fill="url(#ge5)"/>
<path d="M565.3 305.3L567.5 289.2L569.5 305.3Z" fill="url(#ge4)"/>
<path d="M595.0 305.4L597.1 297.6L599.6 305.4Z" fill="url(#ge1)"/>
<path d="M554.2 305.5L556.2 301.3L558.7 305.5Z" fill="url(#ge1)"/>
<path d="M540.8 305.6L544.1 302.5L545.8 305.6Z" fill="url(#ge1)"/>
<path d="M548.9 305.8L552.4 293.4L554.2 305.8Z" fill="url(#ge2)"/>
<path d="M579.3 305.8L581.2 300.4L582.6 305.8Z" fill="url(#ge5)"/>
<path d="M561.0 306.0L563.3 291.6L563.8 306.0Z" fill="url(#ge1)"/>
<path d="M563.2 306.2L565.4 298.1L567.0 306.2Z" fill="url(#ge1)"/>
<path d="M571.7 306.3L572.9 294.4L574.7 306.3Z" fill="url(#ge5)"/>
<path d="M552.9 306.5L555.8 302.1L557.6 306.5Z" fill="url(#ge1)"/>
<path d="M542.0 306.5L544.7 299.5L545.7 306.5Z" fill="url(#ge1)"/>
<path d="M573.0 306.9L575.3 295.4L576.9 306.9Z" fill="url(#ge4)"/>
<path d="M603.0 306.9L605.0 295.9L607.6 306.9Z" fill="url(#ge4)"/>
<path d="M585.2 307.0L587.8 302.8L589.6 307.0Z" fill="url(#ge5)"/>
<path d="M566.7 307.0L569.7 302.1L571.1 307.0Z" fill="url(#ge2)"/>
<path d="M571.2 307.1L573.3 303.3L576.1 307.1Z" fill="url(#ge2)"/>
<path d="M577.8 307.1L579.4 302.7L581.8 307.1Z" fill="url(#ge3)"/>
<path d="M594.7 307.2L596.9 304.3L599.3 307.2Z" fill="url(#ge2)"/>
<path d="M544.6 307.3L546.5 294.7L548.1 307.3Z" fill="url(#ge2)"/>
<path d="M587.7 307.3L590.9 304.4L593.0 307.3Z" fill="url(#ge3)"/>
<path d="M561.5 307.3L563.9 301.4L566.6 307.3Z" fill="url(#ge2)"/>
<path d="M611.6 307.5L613.3 291.1L615.8 307.5Z" fill="url(#ge4)"/>
<path d="M547.6 307.5L550.0 304.8L551.1 307.5Z" fill="url(#ge3)"/>
<path d="M574.8 307.6L576.9 303.5L579.9 307.6Z" fill="url(#ge3)"/>
<path d="M555.1 307.6L557.8 294.4L559.4 307.6Z" fill="url(#ge1)"/>
<path d="M597.6 308.0L599.6 299.8L600.7 308.0Z" fill="url(#ge4)"/>
<path d="M535.4 308.1L537.6 302.2L538.6 308.1Z" fill="url(#ge5)"/>
<path d="M558.8 308.2L561.7 297.3L562.6 308.2Z" fill="url(#ge2)"/>
<path d="M600.0 308.5L602.0 305.3L604.7 308.5Z" fill="url(#ge1)"/>
<path d="M605.6 308.7L607.9 295.3L611.1 308.7Z" fill="url(#ge2)"/>
<path d="M597.5 308.7L599.7 304.1L601.2 308.7Z" fill="url(#ge2)"/>
<path d="M529.2 308.9L532.2 306.2L534.3 308.9Z" fill="url(#ge1)"/>
<path d="M534.9 309.2L537.2 304.0L538.2 309.2Z" fill="url(#ge2)"/>
<path d="M525.6 309.2L529.0 302.6L530.8 309.2Z" fill="url(#ge4)"/>
<path d="M559.6 309.2L561.9 296.0L564.9 309.2Z" fill="url(#ge3)"/>
<path d="M598.5 309.5L601.5 305.7L603.3 309.5Z" fill="url(#ge2)"/>
<path d="M570.3 309.5L572.1 298.4L573.8 309.5Z" fill="url(#ge1)"/>
<path d="M537.0 309.7L538.5 303.7L540.1 309.7Z" fill="url(#ge2)"/>
<path d="M575.8 309.7L577.9 300.9L580.0 309.7Z" fill="url(#ge1)"/>
<path d="M618.7 309.9L620.9 305.8L621.6 309.9Z" fill="url(#ge2)"/>
<path d="M563.7 309.9L566.6 292.8L567.8 309.9Z" fill="url(#ge5)"/>
<path d="M578.8 310.0L581.3 305.4L581.6 310.0Z" fill="url(#ge5)"/>
<path d="M547.1 310.0L549.9 299.6L551.7 310.0Z" fill="url(#ge2)"/>
<path d="M615.5 310.1L617.8 306.2L618.7 310.1Z" fill="url(#ge1)"/>
<path d="M558.7 310.3L560.1 303.2L561.4 310.3Z" fill="url(#ge5)"/>
<path d="M606.4 310.4L608.6 301.0L611.4 310.4Z" fill="url(#ge3)"/>
<path d="M567.0 310.6L568.9 299.5L570.5 310.6Z" fill="url(#ge5)"/>
<path d="M565.1 310.7L567.2 307.1L569.6 310.7Z" fill="url(#ge2)"/>
<path d="M595.3 310.8L597.8 306.3L598.4 310.8Z" fill="url(#ge5)"/>
<path d="M530.9 310.9L533.8 304.9L536.0 310.9Z" fill="url(#ge2)"/>
<path d="M589.2 310.9L591.3 308.4L592.1 310.9Z" fill="url(#ge1)"/>
<path d="M619.2 311.2L622.1 303.6L623.2 311.2Z" fill="url(#ge3)"/>
<path d="M535.9 311.4L538.9 303.8L541.3 311.4Z" fill="url(#ge1)"/>
<path d="M569.6 311.4L571.0 306.3L573.3 311.4Z" fill="url(#ge5)"/>
<path d="M594.7 311.5L596.4 307.4L597.8 311.5Z" fill="url(#ge3)"/>
<path d="M585.4 311.5L587.2 306.6L589.1 311.5Z" fill="url(#ge1)"/>
<path d="M595.4 311.5L597.7 308.4L600.3 311.5Z" fill="url(#ge5)"/>
<path d="M529.3 311.7L531.9 307.2L532.6 311.7Z" fill="url(#ge2)"/>
<path d="M591.0 311.7L592.2 308.9L594.3 311.7Z" fill="url(#ge1)"/>
<path d="M547.6 312.0L550.6 307.6L552.6 312.0Z" fill="url(#ge3)"/>
<path d="M546.0 312.2L548.2 298.7L548.7 312.2Z" fill="url(#ge1)"/>
<path d="M562.5 312.4L565.7 303.4L567.9 312.4Z" fill="url(#ge4)"/>
<path d="M546.7 312.6L549.5 304.7L550.4 312.6Z" fill="url(#ge1)"/>
<path d="M590.4 312.6L592.9 309.5L593.2 312.6Z" fill="url(#ge1)"/>
<path d="M608.5 312.8L610.9 307.2L611.3 312.8Z" fill="url(#ge2)"/>
<path d="M586.8 312.9L589.9 308.6L592.1 312.9Z" fill="url(#ge2)"/>
<path d="M527.0 312.9L528.7 310.5L530.0 312.9Z" fill="url(#ge5)"/>
<path d="M580.1 313.0L583.0 309.5L583.8 313.0Z" fill="url(#ge1)"/>
<path d="M539.0 313.3L540.7 308.5L543.1 313.3Z" fill="url(#ge5)"/>
<path d="M583.1 313.5L586.5 310.2L588.6 313.5Z" fill="url(#ge5)"/>
<path d="M617.2 313.7L619.8 307.1L622.6 313.7Z" fill="url(#ge1)"/>
<path d="M615.5 313.8L618.7 310.1L620.2 313.8Z" fill="url(#ge1)"/>
<path d="M579.9 313.8L583.2 310.0L584.8 313.8Z" fill="url(#ge1)"/>
<path d="M556.1 313.8L559.2 302.0L560.2 313.8Z" fill="url(#ge4)"/>
<path d="M570.4 314.1L573.6 301.7L575.2 314.1Z" fill="url(#ge1)"/>
<path d="M609.8 314.1L612.1 306.3L615.0 314.1Z" fill="url(#ge1)"/>
<path d="M587.7 314.2L589.5 310.9L591.9 314.2Z" fill="url(#ge5)"/>
<path d="M557.6 314.2L561.4 311.0L563.1 314.2Z" fill="url(#ge4)"/>
<path d="M588.8 314.4L591.2 309.6L593.2 314.4Z" fill="url(#ge2)"/>
<path d="M572.3 314.7L575.3 305.9L577.2 314.7Z" fill="url(#ge5)"/>
<path d="M615.9 314.7L618.5 308.8L619.9 314.7Z" fill="url(#ge5)"/>
<path d="M626.6 314.7L628.9 312.5L632.1 314.7Z" fill="url(#ge2)"/>
<path d="M629.5 314.8L632.8 309.7L634.6 314.8Z" fill="url(#ge5)"/>
<path d="M542.1 315.0L544.6 310.0L545.9 315.0Z" fill="url(#ge1)"/>
<path d="M592.2 315.0L594.3 313.2L595.9 315.0Z" fill="url(#ge1)"/>
<path d="M573.7 315.1L575.3 307.9L577.8 315.1Z" fill="url(#ge1)"/>
<path d="M601.8 315.2L604.6 310.7L606.2 315.2Z" fill="url(#ge2)"/>
<path d="M614.4 315.3L617.9 302.8L619.5 315.3Z" fill="url(#ge4)"/>
<path d="M596.9 315.3L599.1 309.7L599.9 315.3Z" fill="url(#ge5)"/>
<path d="M534.8 315.5L538.0 306.4L539.7 315.5Z" fill="url(#ge1)"/>
<path d="M560.5 315.5L561.8 307.1L563.7 315.5Z" fill="url(#ge4)"/>
<path d="M576.7 315.6L579.0 307.1L579.3 315.6Z" fill="url(#ge1)"/>
<path d="M560.4 315.7L562.8 305.3L563.5 315.7Z" fill="url(#ge1)"/>
<path d="M576.6 315.7L578.1 308.5L579.3 315.7Z" fill="url(#ge5)"/>
<path d="M524.6 315.8L526.0 314.1L528.2 315.8Z" fill="url(#ge2)"/>
<path d="M559.3 315.8L562.9 305.5L564.7 315.8Z" fill="url(#ge1)"/>
<path d="M626.8 315.9L628.9 311.9L631.2 315.9Z" fill="url(#ge3)"/>
<path d="M622.0 315.9L624.0 310.9L626.8 315.9Z" fill="url(#ge1)"/>
<path d="M620.2 316.1L622.3 313.0L624.5 316.1Z" fill="url(#ge4)"/>
<path d="M606.2 316.1L609.1 301.8L610.3 316.1Z" fill="url(#ge1)"/>
<path d="M586.2 316.1L588.4 312.3L591.0 316.1Z" fill="url(#ge1)"/>
<path d="M563.8 316.1L566.5 306.7L569.1 316.1Z" fill="url(#ge2)"/>
<path d="M535.0 316.7L537.4 314.0L539.3 316.7Z" fill="url(#ge2)"/>
<path d="M554.0 316.8L555.5 302.8L557.1 316.8Z" fill="url(#ge2)"/>
<path d="M521.9 317.0L525.7 313.0L527.4 317.0Z" fill="url(#ge2)"/>
<path d="M605.0 317.0L606.5 306.4L607.6 317.0Z" fill="url(#ge1)"/>
<path d="M625.8 317.1L627.9 313.9L629.5 317.1Z" fill="url(#ge2)"/>
<path d="M561.0 317.2L563.0 303.3L564.1 317.2Z" fill="url(#ge2)"/>
<path d="M588.1 317.2L589.9 312.4L592.2 317.2Z" fill="url(#ge5)"/>
<path d="M585.8 317.3L588.9 314.2L589.9 317.3Z" fill="url(#ge2)"/>
<path d="M624.5 317.5L627.0 308.9L628.3 317.5Z" fill="url(#ge1)"/>
<path d="M539.1 317.7L540.8 310.8L541.9 317.7Z" fill="url(#ge2)"/>
<path d="M628.7 317.7L630.9 314.4L633.2 317.7Z" fill="url(#ge4)"/>
<path d="M602.7 317.8L605.0 303.9L606.3 317.8Z" fill="url(#ge1)"/>
<path d="M570.2 317.8L573.1 310.3L575.6 317.8Z" fill="url(#ge5)"/>
<path d="M609.4 317.8L611.1 307.0L612.2 317.8Z" fill="url(#ge5)"/>
<path d="M626.8 317.9L628.8 311.9L629.6 317.9Z" fill="url(#ge3)"/>
<path d="M563.1 318.1L565.6 309.4L567.0 318.1Z" fill="url(#ge4)"/>
<path d="M550.9 318.3L554.3 309.0L556.4 318.3Z" fill="url(#ge3)"/>
<path d="M557.3 318.4L560.2 304.5L561.4 318.4Z" fill="url(#ge1)"/>
<path d="M601.3 318.6L604.1 306.4L606.3 318.6Z" fill="url(#ge3)"/>
<path d="M538.0 318.8L540.4 316.5L542.8 318.8Z" fill="url(#ge3)"/>
<path d="M611.0 318.8L613.8 314.2L614.6 318.8Z" fill="url(#ge1)"/>
<path d="M517.8 318.9L519.8 310.9L521.8 318.9Z" fill="url(#ge1)"/>
<path d="M538.2 319.1L541.1 309.5L543.5 319.1Z" fill="url(#ge3)"/>
<path d="M588.5 319.2L590.9 312.7L593.5 319.2Z" fill="url(#ge1)"/>
<path d="M545.6 319.3L546.7 308.7L548.3 319.3Z" fill="url(#ge4)"/>
<path d="M537.9 319.6L540.0 313.9L542.6 319.6Z" fill="url(#ge2)"/>
<path d="M575.8 319.7L578.6 311.9L579.4 319.7Z" fill="url(#ge1)"/>
<path d="M620.1 319.7L621.8 314.8L623.1 319.7Z" fill="url(#ge2)"/>
<path d="M595.5 319.7L596.8 313.7L598.6 319.7Z" fill="url(#ge1)"/>
<path d="M541.9 319.8L544.3 316.4L544.7 319.8Z" fill="url(#ge2)"/>
<path d="M524.6 320.0L526.6 318.3L528.3 320.0Z" fill="url(#ge5)"/>
<path d="M551.0 320.1L553.4 307.0L556.0 320.1Z" fill="url(#ge2)"/>
<path d="M527.2 320.3L528.3 315.2L530.0 320.3Z" fill="url(#ge5)"/>
<path d="M580.9 320.3L583.3 314.8L586.1 320.3Z" fill="url(#ge1)"/>
<path d="M540.1 320.4L542.6 309.5L543.3 320.4Z" fill="url(#ge4)"/>
<path d="M619.5 320.5L621.6 316.7L623.7 320.5Z" fill="url(#ge2)"/>
<path d="M577.7 320.5L579.6 310.4L582.2 320.5Z" fill="url(#ge5)"/>
<path d="M535.7 320.8L538.4 316.0L541.1 320.8Z" fill="url(#ge4)"/>
<path d="M560.6 321.2L562.7 314.7L564.9 321.2Z" fill="url(#ge5)"/>
<path d="M622.9 321.4L626.1 312.4L627.6 321.4Z" fill="url(#ge5)"/>
<path d="M538.7 321.5L540.1 318.0L541.8 321.5Z" fill="url(#ge1)"/>
<path d="M545.0 321.6L546.5 315.8L548.8 321.6Z" fill="url(#ge3)"/>
<path d="M611.2 321.7L613.1 309.3L615.1 321.7Z" fill="url(#ge2)"/>
<path d="M598.0 321.7L599.6 313.4L602.0 321.7Z" fill="url(#ge3)"/>
<path d="M547.4 321.8L549.0 314.2L550.8 321.8Z" fill="url(#ge3)"/>
<path d="M564.6 322.2L567.6 311.0L569.3 322.2Z" fill="url(#ge2)"/>
<path d="M556.1 322.2L558.6 315.8L561.0 322.2Z" fill="url(#ge1)"/>
<path d="M585.0 322.2L588.1 320.1L590.0 322.2Z" fill="url(#ge4)"/>
<path d="M521.9 322.3L523.6 319.9L526.3 322.3Z" fill="url(#ge5)"/>
<path d="M517.7 322.5L519.7 318.3L521.6 322.5Z" fill="url(#ge2)"/>
<path d="M580.0 322.7L582.0 320.5L583.4 322.7Z" fill="url(#ge5)"/>
<path d="M600.0 322.9L601.7 318.5L603.8 322.9Z" fill="url(#ge1)"/>
<path d="M625.4 323.0L626.8 319.3L628.1 323.0Z" fill="url(#ge2)"/>
<path d="M530.0 323.0L532.9 315.9L534.9 323.0Z" fill="url(#ge1)"/>
<path d="M535.8 323.1L538.2 311.4L540.2 323.1Z" fill="url(#ge5)"/>
<path d="M620.4 323.1L623.7 314.6L625.2 323.1Z" fill="url(#ge2)"/>
<path d="M565.7 323.2L569.4 318.4L571.0 323.2Z" fill="url(#ge5)"/>
<path d="M572.3 323.3L574.6 319.3L577.3 323.3Z" fill="url(#ge4)"/>
<path d="M517.6 323.3L519.7 321.4L521.6 323.3Z" fill="url(#ge2)"/>
<path d="M598.4 323.4L601.4 316.7L602.9 323.4Z" fill="url(#ge4)"/>
<path d="M594.9 323.4L596.6 316.2L598.9 323.4Z" fill="url(#ge4)"/>
<path d="M525.3 323.5L529.2 317.7L530.9 323.5Z" fill="url(#ge1)"/>
<path d="M523.5 323.5L526.6 320.5L528.9 323.5Z" fill="url(#ge2)"/>
<path d="M535.7 323.7L538.6 314.9L540.1 323.7Z" fill="url(#ge2)"/>
<path d="M538.5 323.7L541.9 311.5L543.6 323.7Z" fill="url(#ge1)"/>
<path d="M603.1 323.7L606.1 312.4L607.8 323.7Z" fill="url(#ge5)"/>
<path d="M536.2 323.8L539.0 315.0L540.6 323.8Z" fill="url(#ge2)"/>
<path d="M596.4 324.2L598.7 317.3L599.5 324.2Z" fill="url(#ge1)"/>
<path d="M624.2 324.4L626.4 315.2L627.7 324.4Z" fill="url(#ge4)"/>
<path d="M521.7 324.5L523.7 317.8L524.6 324.5Z" fill="url(#ge4)"/>
<path d="M603.6 324.7L606.7 312.4L608.0 324.7Z" fill="url(#ge4)"/>
<path d="M548.3 325.0L551.8 320.2L553.4 325.0Z" fill="url(#ge4)"/>
<path d="M608.1 325.2L609.4 320.1L611.4 325.2Z" fill="url(#ge4)"/>
<path d="M521.9 325.3L525.4 318.2L526.9 325.3Z" fill="url(#ge1)"/>
<path d="M596.2 325.3L598.7 321.2L599.4 325.3Z" fill="url(#ge1)"/>
<path d="M553.3 325.3L554.7 320.5L556.7 325.3Z" fill="url(#ge4)"/>
<path d="M543.0 325.4L546.4 314.3L548.5 325.4Z" fill="url(#ge5)"/>
<path d="M575.4 325.5L578.1 317.5L580.7 325.5Z" fill="url(#ge1)"/>
<path d="M594.1 325.7L596.3 320.4L597.4 325.7Z" fill="url(#ge3)"/>
<path d="M528.9 325.7L532.2 316.9L533.8 325.7Z" fill="url(#ge2)"/>
<path d="M562.0 325.9L564.8 315.5L566.0 325.9Z" fill="url(#ge1)"/>
<path d="M555.0 326.0L558.0 313.1L559.3 326.0Z" fill="url(#ge5)"/>
<path d="M545.1 326.1L546.4 315.0L548.0 326.1Z" fill="url(#ge2)"/>
<path d="M521.4 326.2L523.8 319.2L525.9 326.2Z" fill="url(#ge2)"/>
<path d="M551.5 326.3L553.2 315.0L555.7 326.3Z" fill="url(#ge3)"/>
<path d="M567.5 326.3L569.2 320.4L571.6 326.3Z" fill="url(#ge1)"/>
<path d="M593.5 326.4L596.2 321.1L598.9 326.4Z" fill="url(#ge1)"/>
<path d="M538.6 326.4L541.8 320.7L543.4 326.4Z" fill="url(#ge2)"/>
<path d="M589.2 326.4L592.2 323.9L593.3 326.4Z" fill="url(#ge2)"/>
<path d="M562.1 326.9L564.5 319.6L564.8 326.9Z" fill="url(#ge2)"/>
<path d="M539.1 327.3L541.9 317.3L544.6 327.3Z" fill="url(#ge2)"/>
<path d="M555.4 327.3L558.3 311.5L559.6 327.3Z" fill="url(#ge1)"/>
<path d="M530.4 327.5L533.1 324.3L533.7 327.5Z" fill="url(#ge3)"/>
<path d="M595.2 327.5L597.7 321.1L598.8 327.5Z" fill="url(#ge2)"/>
<path d="M576.3 327.5L578.7 313.5L579.1 327.5Z" fill="url(#ge1)"/>
<path d="M513.3 327.6L515.0 323.5L517.2 327.6Z" fill="url(#ge1)"/>
<path d="M577.5 327.6L579.9 318.5L583.0 327.6Z" fill="url(#ge5)"/>
<path d="M554.9 327.7L557.9 311.3L558.8 327.7Z" fill="url(#ge5)"/>
<path d="M585.8 327.8L587.3 325.4L588.5 327.8Z" fill="url(#ge1)"/>
<path d="M582.3 327.9L586.0 324.6L587.6 327.9Z" fill="url(#ge4)"/>
<path d="M567.4 327.9L571.0 316.7L572.7 327.9Z" fill="url(#ge2)"/>
<path d="M581.6 328.0L583.9 321.8L584.9 328.0Z" fill="url(#ge2)"/>
<path d="M517.1 328.0L519.5 322.5L520.9 328.0Z" fill="url(#ge1)"/>
<path d="M581.4 328.1L584.4 319.0L586.1 328.1Z" fill="url(#ge1)"/>
<path d="M521.0 328.2L523.3 321.4L526.6 328.2Z" fill="url(#ge1)"/>
<path d="M572.6 328.2L574.7 323.3L577.2 328.2Z" fill="url(#ge2)"/>
<path d="M551.8 328.3L553.6 311.5L556.4 328.3Z" fill="url(#ge2)"/>
<path d="M539.6 328.6L542.1 321.8L544.9 328.6Z" fill="url(#ge2)"/>
<path d="M616.9 328.6L618.9 318.3L619.9 328.6Z" fill="url(#ge2)"/>
<path d="M585.3 328.7L587.4 324.9L589.1 328.7Z" fill="url(#ge4)"/>
<path d="M617.9 328.8L620.4 324.2L623.0 328.8Z" fill="url(#ge2)"/>
<path d="M620.3 328.8L623.6 317.2L625.6 328.8Z" fill="url(#ge3)"/>
<path d="M513.5 328.9L514.6 321.2L516.4 328.9Z" fill="url(#ge1)"/>
<path d="M536.9 328.9L539.0 322.7L541.3 328.9Z" fill="url(#ge3)"/>
<path d="M619.1 329.1L621.0 315.1L622.1 329.1Z" fill="url(#ge4)"/>
<path d="M510.6 329.1L513.4 325.3L516.0 329.1Z" fill="url(#ge1)"/>
<path d="M615.9 329.2L619.4 321.5L621.2 329.2Z" fill="url(#ge5)"/>
<path d="M595.8 329.4L598.8 324.5L599.7 329.4Z" fill="url(#ge3)"/>
<path d="M538.8 329.5L541.1 319.1L541.9 329.5Z" fill="url(#ge5)"/>
<path d="M545.7 329.5L548.0 318.6L549.7 329.5Z" fill="url(#ge5)"/>
<path d="M526.7 329.7L528.3 326.1L530.1 329.7Z" fill="url(#ge5)"/>
<path d="M515.0 330.0L518.5 326.5L519.8 330.0Z" fill="url(#ge5)"/>
<path d="M532.0 330.1L534.9 326.2L535.7 330.1Z" fill="url(#ge4)"/>
<path d="M607.6 330.2L610.8 321.5L612.8 330.2Z" fill="url(#ge3)"/>
<path d="M518.2 330.2L520.5 321.3L521.5 330.2Z" fill="url(#ge1)"/>
<path d="M541.0 330.4L544.0 325.3L545.1 330.4Z" fill="url(#ge1)"/>
<path d="M506.6 330.6L509.7 326.9L510.9 330.6Z" fill="url(#ge4)"/>
<path d="M538.5 330.6L541.2 320.4L544.1 330.6Z" fill="url(#ge4)"/>
<path d="M587.2 331.0L589.3 326.2L590.9 331.0Z" fill="url(#ge3)"/>
<path d="M620.4 331.3L622.5 325.0L623.6 331.3Z" fill="url(#ge5)"/>
<path d="M509.8 331.4L512.4 329.1L513.6 331.4Z" fill="url(#ge2)"/>
<path d="M509.4 331.7L512.0 327.7L513.7 331.7Z" fill="url(#ge4)"/>
<path d="M521.9 332.0L524.8 325.9L526.6 332.0Z" fill="url(#ge2)"/>
<path d="M520.0 332.0L522.4 327.9L525.5 332.0Z" fill="url(#ge2)"/>
<path d="M585.8 332.1L588.4 326.2L591.4 332.1Z" fill="url(#ge1)"/>
<path d="M522.7 332.1L524.0 322.4L526.0 332.1Z" fill="url(#ge2)"/>
<path d="M525.0 332.2L527.1 323.7L528.3 332.2Z" fill="url(#ge4)"/>
<path d="M535.9 332.3L538.7 325.9L540.4 332.3Z" fill="url(#ge1)"/>
<path d="M513.8 332.3L516.1 323.7L519.3 332.3Z" fill="url(#ge4)"/>
<path d="M598.7 332.3L600.3 322.9L601.4 332.3Z" fill="url(#ge4)"/>
<path d="M588.7 332.4L592.2 329.8L593.7 332.4Z" fill="url(#ge5)"/>
<path d="M574.3 332.4L577.2 322.5L578.6 332.4Z" fill="url(#ge3)"/>
<path d="M574.0 332.7L577.1 323.0L578.9 332.7Z" fill="url(#ge1)"/>
<path d="M539.5 332.9L542.2 322.6L543.5 332.9Z" fill="url(#ge3)"/>
<path d="M516.1 332.9L518.2 329.3L520.6 332.9Z" fill="url(#ge2)"/>
<path d="M577.2 333.4L579.7 320.9L582.7 333.4Z" fill="url(#ge2)"/>
<path d="M518.8 333.4L520.7 324.9L521.5 333.4Z" fill="url(#ge3)"/>
<path d="M560.1 333.4L562.9 315.4L564.1 333.4Z" fill="url(#ge3)"/>
<path d="M602.5 333.4L604.8 323.9L606.1 333.4Z" fill="url(#ge1)"/>
<path d="M566.1 333.5L568.6 328.3L570.0 333.5Z" fill="url(#ge4)"/>
<path d="M525.1 333.6L526.4 330.1L527.8 333.6Z" fill="url(#ge1)"/>
<path d="M504.2 333.7L506.7 331.1L509.2 333.7Z" fill="url(#ge1)"/>
<path d="M529.7 333.9L532.0 326.9L534.1 333.9Z" fill="url(#ge3)"/>
<path d="M604.0 333.9L607.5 318.3L608.9 333.9Z" fill="url(#ge1)"/>
<path d="M568.8 333.9L571.2 325.5L571.7 333.9Z" fill="url(#ge2)"/>
<path d="M519.2 334.0L521.1 322.7L523.5 334.0Z" fill="url(#ge2)"/>
<path d="M511.2 334.0L514.9 325.7L516.7 334.0Z" fill="url(#ge1)"/>
<path d="M614.8 334.1L615.8 325.0L617.7 334.1Z" fill="url(#ge1)"/>
<path d="M540.2 334.1L542.5 324.6L544.6 334.1Z" fill="url(#ge3)"/>
<path d="M618.5 334.2L621.2 326.6L623.8 334.2Z" fill="url(#ge1)"/>
<path d="M572.5 334.3L574.9 324.4L577.8 334.3Z" fill="url(#ge3)"/>
<path d="M613.8 334.5L616.1 324.2L618.5 334.5Z" fill="url(#ge2)"/>
<path d="M598.7 334.7L602.1 329.1L603.7 334.7Z" fill="url(#ge2)"/>
<path d="M563.7 334.8L566.6 325.9L568.1 334.8Z" fill="url(#ge3)"/>
<path d="M607.8 334.9L609.0 326.4L611.1 334.9Z" fill="url(#ge4)"/>
<path d="M593.3 335.4L596.5 331.5L598.1 335.4Z" fill="url(#ge1)"/>
<path d="M506.3 335.5L508.0 331.0L509.3 335.5Z" fill="url(#ge2)"/>
<path d="M590.8 335.5L592.5 332.0L594.4 335.5Z" fill="url(#ge5)"/>
<path d="M586.3 335.6L588.8 332.4L589.8 335.6Z" fill="url(#ge2)"/>
<path d="M591.2 335.7L592.2 332.5L593.9 335.7Z" fill="url(#ge4)"/>
<path d="M543.4 335.7L546.8 327.0L548.4 335.7Z" fill="url(#ge1)"/>
<path d="M539.4 335.8L541.7 324.0L543.8 335.8Z" fill="url(#ge3)"/>
<path d="M534.7 335.8L537.4 322.0L539.4 335.8Z" fill="url(#ge5)"/>
<path d="M521.7 335.8L523.5 328.2L525.4 335.8Z" fill="url(#ge5)"/>
<path d="M559.2 335.8L561.6 321.7L563.7 335.8Z" fill="url(#ge3)"/>
<path d="M536.9 336.0L539.9 327.5L541.9 336.0Z" fill="url(#ge1)"/>
<path d="M572.1 336.2L574.8 330.7L577.4 336.2Z" fill="url(#ge2)"/>
<path d="M571.3 336.2L573.3 323.7L575.1 336.2Z" fill="url(#ge1)"/>
<path d="M601.0 336.3L604.7 330.7L606.4 336.3Z" fill="url(#ge3)"/>
<path d="M540.3 336.4L543.3 324.3L544.3 336.4Z" fill="url(#ge4)"/>
<path d="M543.0 336.5L544.6 327.6L547.2 336.5Z" fill="url(#ge1)"/>
<path d="M578.9 336.8L581.6 332.3L582.6 336.8Z" fill="url(#ge1)"/>
<path d="M529.5 336.8L532.5 328.8L534.1 336.8Z" fill="url(#ge1)"/>
<path d="M537.8 336.9L540.1 331.8L540.8 336.9Z" fill="url(#ge5)"/>
<path d="M610.9 336.9L612.6 320.8L614.6 336.9Z" fill="url(#ge2)"/>
<path d="M529.0 336.9L530.3 332.1L531.9 336.9Z" fill="url(#ge5)"/>
<path d="M610.4 336.9L613.0 322.8L615.1 336.9Z" fill="url(#ge1)"/>
<path d="M505.5 337.0L508.6 334.8L509.5 337.0Z" fill="url(#ge5)"/>
<path d="M545.0 337.0L545.9 328.6L547.7 337.0Z" fill="url(#ge2)"/>
<path d="M574.3 337.0L577.2 322.7L579.7 337.0Z" fill="url(#ge2)"/>
<path d="M539.3 337.1L541.1 333.4L542.7 337.1Z" fill="url(#ge3)"/>
<path d="M571.7 337.4L574.2 321.4L575.0 337.4Z" fill="url(#ge2)"/>
<path d="M591.5 337.5L592.8 330.0L594.4 337.5Z" fill="url(#ge4)"/>
<path d="M590.9 337.5L592.5 330.3L594.8 337.5Z" fill="url(#ge2)"/>
<path d="M560.4 337.6L561.9 329.1L564.4 337.6Z" fill="url(#ge2)"/>
<path d="M551.0 338.0L552.6 331.8L553.9 338.0Z" fill="url(#ge3)"/>
<path d="M614.6 338.0L616.5 329.3L617.8 338.0Z" fill="url(#ge5)"/>
<path d="M611.9 338.1L614.2 329.6L615.1 338.1Z" fill="url(#ge1)"/>
<path d="M616.8 338.5L618.6 324.5L619.6 338.5Z" fill="url(#ge2)"/>
<path d="M540.6 338.6L542.6 335.4L544.3 338.6Z" fill="url(#ge4)"/>
<path d="M610.0 338.7L611.0 326.5L612.8 338.7Z" fill="url(#ge2)"/>
<path d="M593.5 338.8L594.8 333.8L597.0 338.8Z" fill="url(#ge1)"/>
<path d="M517.9 338.8L520.5 332.8L522.5 338.8Z" fill="url(#ge2)"/>
<path d="M540.9 338.9L542.3 333.8L543.6 338.9Z" fill="url(#ge1)"/>
<path d="M577.8 338.9L581.3 333.4L582.9 338.9Z" fill="url(#ge1)"/>
<path d="M588.4 339.0L590.6 334.8L592.8 339.0Z" fill="url(#ge5)"/>
<path d="M581.3 339.1L584.5 333.8L586.4 339.1Z" fill="url(#ge5)"/>
<path d="M529.1 339.2L530.9 335.8L532.7 339.2Z" fill="url(#ge2)"/>
<path d="M515.9 339.3L518.4 336.2L519.2 339.3Z" fill="url(#ge3)"/>
<path d="M594.8 339.3L596.6 331.8L598.0 339.3Z" fill="url(#ge4)"/>
<path d="M505.8 339.4L508.1 337.0L510.7 339.4Z" fill="url(#ge5)"/>
<path d="M578.2 339.4L581.9 323.6L583.6 339.4Z" fill="url(#ge4)"/>
<path d="M591.9 339.5L593.8 337.6L596.2 339.5Z" fill="url(#ge1)"/>
<path d="M549.8 339.5L551.7 332.9L552.5 339.5Z" fill="url(#ge3)"/>
<path d="M523.7 339.6L525.6 330.2L528.5 339.6Z" fill="url(#ge1)"/>
<path d="M562.3 339.9L566.1 331.5L567.7 339.9Z" fill="url(#ge5)"/>
<path d="M539.2 340.0L541.0 330.6L543.7 340.0Z" fill="url(#ge5)"/>
<path d="M603.5 340.1L605.6 334.4L607.3 340.1Z" fill="url(#ge4)"/>
<path d="M551.3 340.2L553.5 326.3L555.7 340.2Z" fill="url(#ge2)"/>
<path d="M597.6 340.2L599.6 337.1L601.3 340.2Z" fill="url(#ge4)"/>
<path d="M563.0 340.2L565.0 333.8L567.9 340.2Z" fill="url(#ge1)"/>
<path d="M540.1 340.5L542.7 326.0L545.0 340.5Z" fill="url(#ge1)"/>
<path d="M541.0 340.5L544.1 322.7L546.5 340.5Z" fill="url(#ge4)"/>
<path d="M540.9 340.5L543.5 327.7L544.2 340.5Z" fill="url(#ge5)"/>
<path d="M563.2 340.7L566.2 335.7L568.6 340.7Z" fill="url(#ge5)"/>
<path d="M540.0 340.7L542.4 332.5L543.6 340.7Z" fill="url(#ge2)"/>
<path d="M527.2 340.9L529.3 333.7L531.7 340.9Z" fill="url(#ge3)"/>
<path d="M572.5 340.9L574.9 333.4L576.9 340.9Z" fill="url(#ge2)"/>
<path d="M578.6 341.3L581.6 332.8L584.1 341.3Z" fill="url(#ge2)"/>
<path d="M606.5 341.7L609.2 327.0L610.9 341.7Z" fill="url(#ge2)"/>
<path d="M612.6 341.8L614.5 329.2L616.9 341.8Z" fill="url(#ge1)"/>
<path d="M510.3 341.8L512.8 335.4L513.9 341.8Z" fill="url(#ge5)"/>
<path d="M530.8 341.9L533.5 332.0L534.6 341.9Z" fill="url(#ge1)"/>
<path d="M555.9 341.9L557.9 325.7L559.9 341.9Z" fill="url(#ge4)"/>
<path d="M608.2 341.9L610.5 336.4L613.2 341.9Z" fill="url(#ge1)"/>
<path d="M549.6 342.1L552.0 330.0L554.6 342.1Z" fill="url(#ge1)"/>
<path d="M579.4 342.2L581.9 332.2L582.3 342.2Z" fill="url(#ge5)"/>
<path d="M596.9 342.2L600.5 337.8L601.9 342.2Z" fill="url(#ge3)"/>
<path d="M605.0 342.3L607.4 337.0L609.2 342.3Z" fill="url(#ge1)"/>
<path d="M608.2 342.7L610.9 338.4L613.7 342.7Z" fill="url(#ge5)"/>
<path d="M554.1 342.9L557.5 335.6L559.0 342.9Z" fill="url(#ge1)"/>
<path d="M565.5 342.9L568.7 326.2L569.9 342.9Z" fill="url(#ge3)"/>
<path d="M570.7 343.0L573.5 337.6L574.6 343.0Z" fill="url(#ge1)"/>
<path d="M578.1 343.0L581.6 339.8L583.3 343.0Z" fill="url(#ge3)"/>
<path d="M608.0 343.3L609.2 334.9L611.3 343.3Z" fill="url(#ge1)"/>
<path d="M599.3 343.4L601.3 334.9L603.2 343.4Z" fill="url(#ge3)"/>
<path d="M571.1 343.5L572.4 330.1L574.2 343.5Z" fill="url(#ge1)"/>
<path d="M510.4 344.1L513.5 341.1L515.6 344.1Z" fill="url(#ge1)"/>
<path d="M554.1 344.2L555.6 338.3L557.9 344.2Z" fill="url(#ge4)"/>
<path d="M611.8 344.3L614.7 332.0L615.9 344.3Z" fill="url(#ge1)"/>
<path d="M575.2 344.4L577.8 331.4L579.6 344.4Z" fill="url(#ge1)"/>
<path d="M561.4 344.5L564.3 338.7L565.5 344.5Z" fill="url(#ge1)"/>
<path d="M588.7 344.7L589.9 332.9L591.8 344.7Z" fill="url(#ge2)"/>
<path d="M580.1 344.9L582.6 336.9L583.9 344.9Z" fill="url(#ge2)"/>
<path d="M580.8 345.1L582.1 339.7L583.9 345.1Z" fill="url(#ge1)"/>
<path d="M552.4 345.1L553.7 329.4L556.0 345.1Z" fill="url(#ge2)"/>
<path d="M537.5 345.3L538.8 335.7L540.8 345.3Z" fill="url(#ge1)"/>
<path d="M546.3 345.4L548.4 335.5L548.9 345.4Z" fill="url(#ge1)"/>
<path d="M580.1 345.4L582.4 333.3L584.6 345.4Z" fill="url(#ge5)"/>
<path d="M608.0 345.7L611.5 333.0L613.5 345.7Z" fill="url(#ge4)"/>
<path d="M518.1 345.8L519.9 339.1L522.1 345.8Z" fill="url(#ge5)"/>
<path d="M521.8 345.8L524.9 331.8L526.1 345.8Z" fill="url(#ge3)"/>
<path d="M602.0 345.9L603.4 338.9L605.7 345.9Z" fill="url(#ge4)"/>
<path d="M550.7 345.9L552.8 335.0L553.4 345.9Z" fill="url(#ge5)"/>
<path d="M560.5 346.1L561.8 341.3L564.0 346.1Z" fill="url(#ge3)"/>
<path d="M594.9 346.1L596.6 338.3L599.2 346.1Z" fill="url(#ge1)"/>
<path d="M530.4 346.2L532.9 336.9L534.4 346.2Z" fill="url(#ge2)"/>
<path d="M549.5 346.3L551.9 335.1L552.6 346.3Z" fill="url(#ge1)"/>
<path d="M562.9 346.4L565.2 341.2L568.1 346.4Z" fill="url(#ge2)"/>
<path d="M522.1 346.4L523.5 341.4L525.1 346.4Z" fill="url(#ge3)"/>
<path d="M536.0 346.4L537.7 335.6L539.7 346.4Z" fill="url(#ge1)"/>
<path d="M554.5 346.5L556.3 342.3L558.7 346.5Z" fill="url(#ge4)"/>
<path d="M581.1 346.5L583.0 341.4L585.5 346.5Z" fill="url(#ge1)"/>
<path d="M557.6 346.9L559.6 341.9L560.4 346.9Z" fill="url(#ge3)"/>
<path d="M571.4 346.9L572.6 335.5L574.4 346.9Z" fill="url(#ge2)"/>
<path d="M579.0 347.0L581.9 337.1L582.8 347.0Z" fill="url(#ge1)"/>
<path d="M532.9 347.5L535.1 332.6L538.1 347.5Z" fill="url(#ge3)"/>
<path d="M522.9 347.6L525.6 344.2L526.7 347.6Z" fill="url(#ge3)"/>
<path d="M592.9 347.6L595.9 340.2L597.0 347.6Z" fill="url(#ge1)"/>
<path d="M580.2 347.7L582.3 336.5L584.0 347.7Z" fill="url(#ge1)"/>
<path d="M531.2 347.8L534.4 332.3L535.5 347.8Z" fill="url(#ge2)"/>
<path d="M556.8 348.0L559.0 337.8L559.8 348.0Z" fill="url(#ge2)"/>
<path d="M545.2 348.2L546.8 344.1L548.5 348.2Z" fill="url(#ge4)"/>
<path d="M596.7 348.2L598.4 342.5L599.7 348.2Z" fill="url(#ge2)"/>
<path d="M579.7 348.3L582.0 340.1L584.7 348.3Z" fill="url(#ge1)"/>
<path d="M519.1 348.3L521.5 342.9L521.8 348.3Z" fill="url(#ge1)"/>
<path d="M597.4 348.4L599.1 345.0L601.2 348.4Z" fill="url(#ge5)"/>
<path d="M590.7 348.5L593.2 338.8L595.6 348.5Z" fill="url(#ge5)"/>
<path d="M592.6 348.7L594.3 345.3L595.5 348.7Z" fill="url(#ge4)"/>
<path d="M579.2 348.8L581.0 339.0L582.4 348.8Z" fill="url(#ge2)"/>
<path d="M582.6 348.8L585.0 341.1L586.7 348.8Z" fill="url(#ge1)"/>
<path d="M593.9 348.8L596.3 344.3L596.7 348.8Z" fill="url(#ge1)"/>
<path d="M569.2 348.8L571.5 340.2L573.9 348.8Z" fill="url(#ge3)"/>
<path d="M529.6 349.0L532.5 337.5L534.6 349.0Z" fill="url(#ge5)"/>
<path d="M561.4 349.3L564.4 343.1L566.1 349.3Z" fill="url(#ge3)"/>
<path d="M576.4 349.4L577.7 335.3L579.3 349.4Z" fill="url(#ge4)"/>
<path d="M565.1 349.4L568.5 339.0L570.5 349.4Z" fill="url(#ge5)"/>
<path d="M589.9 349.6L592.5 345.1L593.8 349.6Z" fill="url(#ge4)"/>
<path d="M606.2 349.8L609.1 346.2L610.0 349.8Z" fill="url(#ge1)"/>
<path d="M578.6 350.0L581.6 340.6L582.7 350.0Z" fill="url(#ge4)"/>
<path d="M538.5 350.0L539.9 344.7L541.3 350.0Z" fill="url(#ge1)"/>
<path d="M607.0 350.5L610.1 343.3L610.9 350.5Z" fill="url(#ge5)"/>
<path d="M557.3 350.5L559.4 342.7L562.1 350.5Z" fill="url(#ge3)"/>
<path d="M558.9 350.7L560.7 345.3L561.8 350.7Z" fill="url(#ge1)"/>
<path d="M595.6 350.7L598.1 347.7L600.5 350.7Z" fill="url(#ge1)"/>
<path d="M559.4 350.8L562.5 341.1L563.6 350.8Z" fill="url(#ge2)"/>
<path d="M542.9 350.9L545.9 338.8L547.1 350.9Z" fill="url(#ge3)"/>
<path d="M584.9 351.0L588.0 338.6L589.4 351.0Z" fill="url(#ge1)"/>
<path d="M606.6 351.2L608.4 344.3L610.4 351.2Z" fill="url(#ge1)"/>
<path d="M578.1 351.3L580.2 339.6L582.5 351.3Z" fill="url(#ge3)"/>
<path d="M534.5 351.5L537.3 345.1L538.9 351.5Z" fill="url(#ge1)"/>
<path d="M550.5 351.6L553.0 336.3L554.4 351.6Z" fill="url(#ge1)"/>
<path d="M536.8 351.7L539.4 339.4L541.4 351.7Z" fill="url(#ge1)"/>
<path d="M556.0 351.8L557.7 339.1L559.0 351.8Z" fill="url(#ge5)"/>
<path d="M535.1 352.1L537.6 348.0L538.3 352.1Z" fill="url(#ge1)"/>
<path d="M560.0 352.2L562.1 346.7L563.7 352.2Z" fill="url(#ge5)"/>
<path d="M591.9 352.4L594.1 343.1L596.5 352.4Z" fill="url(#ge4)"/>
<path d="M560.7 352.4L563.3 343.1L566.2 352.4Z" fill="url(#ge1)"/>
<path d="M559.8 352.5L562.0 344.0L562.6 352.5Z" fill="url(#ge3)"/>
<path d="M582.2 352.5L584.5 347.1L587.3 352.5Z" fill="url(#ge1)"/>
<path d="M579.2 352.8L581.7 341.6L584.4 352.8Z" fill="url(#ge1)"/>
<path d="M546.4 352.9L549.8 340.4L551.8 352.9Z" fill="url(#ge2)"/>
<path d="M524.5 353.0L526.7 347.2L527.5 353.0Z" fill="url(#ge2)"/>
<path d="M537.8 353.0L540.1 348.4L540.5 353.0Z" fill="url(#ge3)"/>
<path d="M603.1 353.6L606.2 343.3L607.1 353.6Z" fill="url(#ge3)"/>
<path d="M559.2 353.7L562.2 349.8L564.5 353.7Z" fill="url(#ge2)"/>
<path d="M559.6 353.8L562.0 345.5L564.8 353.8Z" fill="url(#ge1)"/>
<path d="M604.6 354.2L607.4 346.5L608.5 354.2Z" fill="url(#ge2)"/>
<path d="M546.7 354.3L549.2 342.1L551.3 354.3Z" fill="url(#ge5)"/>
<path d="M533.0 354.6L535.3 348.2L537.7 354.6Z" fill="url(#ge2)"/>
<path d="M569.7 354.7L571.3 341.5L572.5 354.7Z" fill="url(#ge2)"/>
<path d="M570.0 354.9L573.3 342.7L575.4 354.9Z" fill="url(#ge5)"/>
<path d="M527.4 355.0L530.0 340.6L531.8 355.0Z" fill="url(#ge2)"/>
<path d="M556.1 355.1L559.5 347.7L560.8 355.1Z" fill="url(#ge2)"/>
<path d="M563.6 355.2L566.1 342.0L567.0 355.2Z" fill="url(#ge1)"/>
<path d="M567.6 355.2L570.2 345.3L572.5 355.2Z" fill="url(#ge1)"/>
<path d="M537.3 355.3L538.6 338.4L540.1 355.3Z" fill="url(#ge1)"/>
<path d="M595.0 355.3L597.4 348.5L600.0 355.3Z" fill="url(#ge1)"/>
<path d="M568.2 355.5L569.6 347.2L571.5 355.5Z" fill="url(#ge3)"/>
<path d="M558.9 355.9L561.0 351.2L562.3 355.9Z" fill="url(#ge1)"/>
<path d="M547.4 356.2L549.5 349.9L550.6 356.2Z" fill="url(#ge2)"/>
<path d="M558.8 356.3L560.3 347.1L562.0 356.3Z" fill="url(#ge1)"/>
<path d="M533.8 356.5L536.4 347.5L536.9 356.5Z" fill="url(#ge4)"/>
<path d="M559.9 356.9L561.6 345.9L564.0 356.9Z" fill="url(#ge1)"/>
<path d="M564.0 357.2L566.8 352.8L567.4 357.2Z" fill="url(#ge5)"/>
<path d="M556.9 357.3L559.8 352.4L560.7 357.3Z" fill="url(#ge2)"/>
<path d="M535.9 357.4L539.6 352.7L541.5 357.4Z" fill="url(#ge3)"/>
<path d="M550.5 357.4L551.4 343.9L553.3 357.4Z" fill="url(#ge1)"/>
<path d="M539.7 357.7L542.3 352.0L544.4 357.7Z" fill="url(#ge5)"/>
<path d="M559.6 358.0L562.5 347.5L563.9 358.0Z" fill="url(#ge1)"/>
<path d="M578.1 358.2L580.2 352.4L582.7 358.2Z" fill="url(#ge1)"/>
<path d="M534.5 358.4L536.8 345.9L537.6 358.4Z" fill="url(#ge4)"/>
<path d="M534.5 358.5L536.9 344.6L538.5 358.5Z" fill="url(#ge2)"/>
<path d="M575.8 358.5L578.1 352.7L580.6 358.5Z" fill="url(#ge3)"/>
<path d="M545.6 358.8L548.5 350.2L550.5 358.8Z" fill="url(#ge2)"/>
<path d="M600.2 358.9L602.6 347.4L603.5 358.9Z" fill="url(#ge1)"/>
<path d="M572.5 358.9L574.9 351.1L576.4 358.9Z" fill="url(#ge5)"/>
<path d="M592.9 359.2L594.8 348.4L596.7 359.2Z" fill="url(#ge1)"/>
<path d="M561.4 359.2L563.7 353.4L565.5 359.2Z" fill="url(#ge3)"/>
<path d="M593.4 359.8L594.7 348.8L596.9 359.8Z" fill="url(#ge2)"/>
<path d="M572.4 359.8L575.1 349.5L577.5 359.8Z" fill="url(#ge2)"/>
<path d="M543.5 360.0L546.7 350.5L547.8 360.0Z" fill="url(#ge1)"/>
<path d="M572.9 360.4L575.9 346.9L576.9 360.4Z" fill="url(#ge4)"/>
<path d="M564.3 360.7L567.6 346.8L569.7 360.7Z" fill="url(#ge1)"/>
<path d="M555.5 361.4L557.1 345.8L558.9 361.4Z" fill="url(#ge4)"/>
<path d="M561.8 361.4L563.9 352.3L564.8 361.4Z" fill="url(#ge3)"/>
<path d="M582.6 361.9L585.1 348.5L586.9 361.9Z" fill="url(#ge3)"/>
<path d="M597.2 362.3L599.4 351.8L601.7 362.3Z" fill="url(#ge1)"/>
<path d="M581.2 362.7L583.7 350.6L585.7 362.7Z" fill="url(#ge1)"/>
<path d="M544.5 363.1L546.2 356.6L548.3 363.1Z" fill="url(#ge2)"/>
<path d="M575.6 363.2L578.4 355.3L579.0 363.2Z" fill="url(#ge1)"/>
<path d="M568.5 363.4L572.1 358.2L573.9 363.4Z" fill="url(#ge2)"/>
<path d="M565.0 363.5L567.4 355.6L570.3 363.5Z" fill="url(#ge5)"/>
<path d="M581.6 363.6L583.9 356.1L586.5 363.6Z" fill="url(#ge1)"/>
<path d="M586.2 363.6L587.9 350.3L589.9 363.6Z" fill="url(#ge1)"/>
<path d="M543.6 364.5L545.8 355.1L546.8 364.5Z" fill="url(#ge3)"/>
<path d="M555.3 364.6L558.3 357.2L560.6 364.6Z" fill="url(#ge1)"/>
<path d="M585.4 364.7L588.8 353.0L590.9 364.7Z" fill="url(#ge3)"/>
<path d="M587.0 364.9L589.6 359.6L590.7 364.9Z" fill="url(#ge3)"/>
<path d="M580.0 365.1L581.7 359.1L584.0 365.1Z" fill="url(#ge1)"/>
<path d="M565.0 366.0L566.6 351.0L567.9 366.0Z" fill="url(#ge4)"/>
<path d="M592.4 366.4L594.6 356.1L595.4 366.4Z" fill="url(#ge3)"/>
<path d="M590.9 366.4L594.1 353.3L596.1 366.4Z" fill="url(#ge4)"/>
<path d="M578.4 366.6L581.6 356.1L582.9 366.6Z" fill="url(#ge2)"/>
<path d="M596.7 366.7L598.8 359.6L600.4 366.7Z" fill="url(#ge3)"/>
<path d="M588.6 366.8L590.1 346.4L591.5 366.8Z" fill="url(#ge4)"/>
<path d="M591.0 366.8L594.2 358.4L596.5 366.8Z" fill="url(#ge2)"/>
<path d="M567.6 366.9L569.6 355.7L572.0 366.9Z" fill="url(#ge5)"/>
<path d="M596.5 367.0L597.7 362.7L599.5 367.0Z" fill="url(#ge1)"/>
<path d="M579.9 367.5L582.7 355.8L585.0 367.5Z" fill="url(#ge3)"/>
<path d="M573.0 367.5L574.8 363.6L576.5 367.5Z" fill="url(#ge2)"/>
<path d="M573.4 367.9L575.6 361.4L577.0 367.9Z" fill="url(#ge2)"/>
<path d="M556.6 368.2L559.2 365.6L561.2 368.2Z" fill="url(#ge1)"/>
<path d="M546.2 368.3L547.9 358.5L548.9 368.3Z" fill="url(#ge1)"/>
<path d="M583.3 368.5L586.0 360.6L588.3 368.5Z" fill="url(#ge2)"/>
<path d="M585.3 368.6L588.3 359.7L589.8 368.6Z" fill="url(#ge1)"/>
<path d="M569.0 368.7L571.9 363.9L574.0 368.7Z" fill="url(#ge1)"/>
<path d="M547.1 368.8L548.8 362.1L550.4 368.8Z" fill="url(#ge5)"/>
<path d="M547.5 369.3L549.5 363.7L550.3 369.3Z" fill="url(#ge2)"/>
<path d="M552.7 369.3L554.9 365.4L555.6 369.3Z" fill="url(#ge2)"/>
<path d="M553.7 369.5L554.9 365.0L556.3 369.5Z" fill="url(#ge5)"/>
<path d="M580.2 369.5L581.8 358.8L582.9 369.5Z" fill="url(#ge2)"/>
<path d="M581.6 369.5L584.3 359.8L585.9 369.5Z" fill="url(#ge2)"/>
<path d="M555.1 369.5L557.4 358.1L559.8 369.5Z" fill="url(#ge1)"/>
<path d="M561.4 370.4L563.0 364.0L564.3 370.4Z" fill="url(#ge1)"/>
<path d="M559.8 370.6L561.4 364.8L563.0 370.6Z" fill="url(#ge1)"/>
<path d="M565.1 370.6L568.1 365.5L570.0 370.6Z" fill="url(#ge5)"/>
<path d="M580.6 371.0L582.3 356.6L584.7 371.0Z" fill="url(#ge1)"/>
<path d="M558.4 371.6L560.6 365.6L561.8 371.6Z" fill="url(#ge3)"/>
<path d="M568.9 371.6L571.2 361.7L574.3 371.6Z" fill="url(#ge2)"/>
<path d="M579.8 372.1L582.6 364.9L583.8 372.1Z" fill="url(#ge3)"/>
<path d="M581.5 372.4L583.4 353.7L584.2 372.4Z" fill="url(#ge2)"/>
<path d="M560.5 372.7L563.1 367.4L565.4 372.7Z" fill="url(#ge2)"/>
<path d="M563.8 373.1L566.5 367.7L567.6 373.1Z" fill="url(#ge1)"/>
<path d="M568.2 373.3L570.0 368.3L571.1 373.3Z" fill="url(#ge4)"/>
<path d="M563.7 373.7L566.3 366.8L568.8 373.7Z" fill="url(#ge2)"/>
<path d="M573.6 373.8L574.9 366.0L577.2 373.8Z" fill="url(#ge5)"/>
<path d="M581.2 374.5L582.7 368.9L584.2 374.5Z" fill="url(#ge2)"/>
<path d="M576.2 374.8L579.3 364.2L580.2 374.8Z" fill="url(#ge4)"/>
<path d="M560.7 375.4L564.0 369.9L566.1 375.4Z" fill="url(#ge3)"/>
<path d="M573.1 375.9L576.6 371.5L578.0 375.9Z" fill="url(#ge1)"/>
<path d="M559.5 376.0L561.9 371.2L562.5 376.0Z" fill="url(#ge2)"/>
<path d="M588.6 376.6L591.0 362.2L593.3 376.6Z" fill="url(#ge1)"/>
<path d="M560.4 376.7L562.5 370.0L565.1 376.7Z" fill="url(#ge3)"/>
<path d="M579.6 376.8L582.2 372.0L584.8 376.8Z" fill="url(#ge1)"/>
<path d="M576.9 376.8L579.7 367.3L580.8 376.8Z" fill="url(#ge3)"/>
<path d="M578.1 377.0L581.2 371.3L583.4 377.0Z" fill="url(#ge1)"/>
<path d="M589.8 377.5L592.0 370.2L592.6 377.5Z" fill="url(#ge5)"/>
<path d="M580.7 377.7L583.2 371.2L585.1 377.7Z" fill="url(#ge3)"/>
<path d="M587.6 377.9L590.2 358.7L592.9 377.9Z" fill="url(#ge1)"/>
<path d="M580.7 378.3L583.0 371.7L585.4 378.3Z" fill="url(#ge2)"/>
<path d="M576.1 378.4L578.3 368.4L580.6 378.4Z" fill="url(#ge3)"/>
<path d="M577.7 379.6L579.5 374.2L581.7 379.6Z" fill="url(#ge3)"/>
<path d="M564.7 380.2L568.0 378.6L569.5 380.2Z" fill="url(#ge3)"/>
<path d="M584.8 380.3L586.4 376.2L587.7 380.3Z" fill="url(#ge5)"/>
<path d="M564.5 382.8L566.6 380.6L569.4 382.8Z" fill="url(#ge5)"/>
<path d="M564.8 382.9L567.1 379.0L569.5 382.9Z" fill="url(#ge2)"/>
<path d="M566.5 383.1L568.2 379.3L570.7 383.1Z" fill="url(#ge2)"/>
<path d="M586.8 383.3L588.8 378.4L589.9 383.3Z" fill="url(#ge2)"/>
<path d="M578.2 383.5L580.0 381.6L581.3 383.5Z" fill="url(#ge4)"/>
<path d="M571.3 383.6L574.1 380.7L575.7 383.6Z" fill="url(#ge5)"/>
<path d="M566.3 383.9L569.7 378.5L571.5 383.9Z" fill="url(#ge4)"/>
<path d="M580.1 384.3L583.0 378.2L584.5 384.3Z" fill="url(#ge2)"/>
<path d="M574.9 387.3L576.9 379.7L578.9 387.3Z" fill="url(#ge2)"/>
<path d="M576.9 387.5L580.2 384.4L582.2 387.5Z" fill="url(#ge3)"/>
<path d="M575.2 387.8L578.5 385.8L580.5 387.8Z" fill="url(#ge1)"/>
<path d="M578.5 387.8L579.5 382.7L581.3 387.8Z" fill="url(#ge5)"/>
<path d="M579.7 388.2L582.5 384.3L585.0 388.2Z" fill="url(#ge5)"/>
<path d="M575.0 388.3L577.1 386.0L579.1 388.3Z" fill="url(#ge5)"/>
<path d="M578.1 388.8L581.2 384.4L583.2 388.8Z" fill="url(#ge2)"/>
<path d="M579.6 390.9L582.1 385.1L584.8 390.9Z" fill="url(#ge1)"/>
<polyline points="496.5,323.5 503.5,338 581.5,395.5" fill="none" stroke="#3a4250" stroke-width="1"/></g>
 <text x="479.7" y="324.5" class="ax3">20.4</text>
 <text x="482.8" y="342" class="ax3">-13.3</text>
 <text x="514" y="382.4" class="ax3">X* 2.03µm</text>
 <text x="607.6" y="369.5" class="ax3">Y* 2.03µm</text>
</g>

</svg>
</body></html>
